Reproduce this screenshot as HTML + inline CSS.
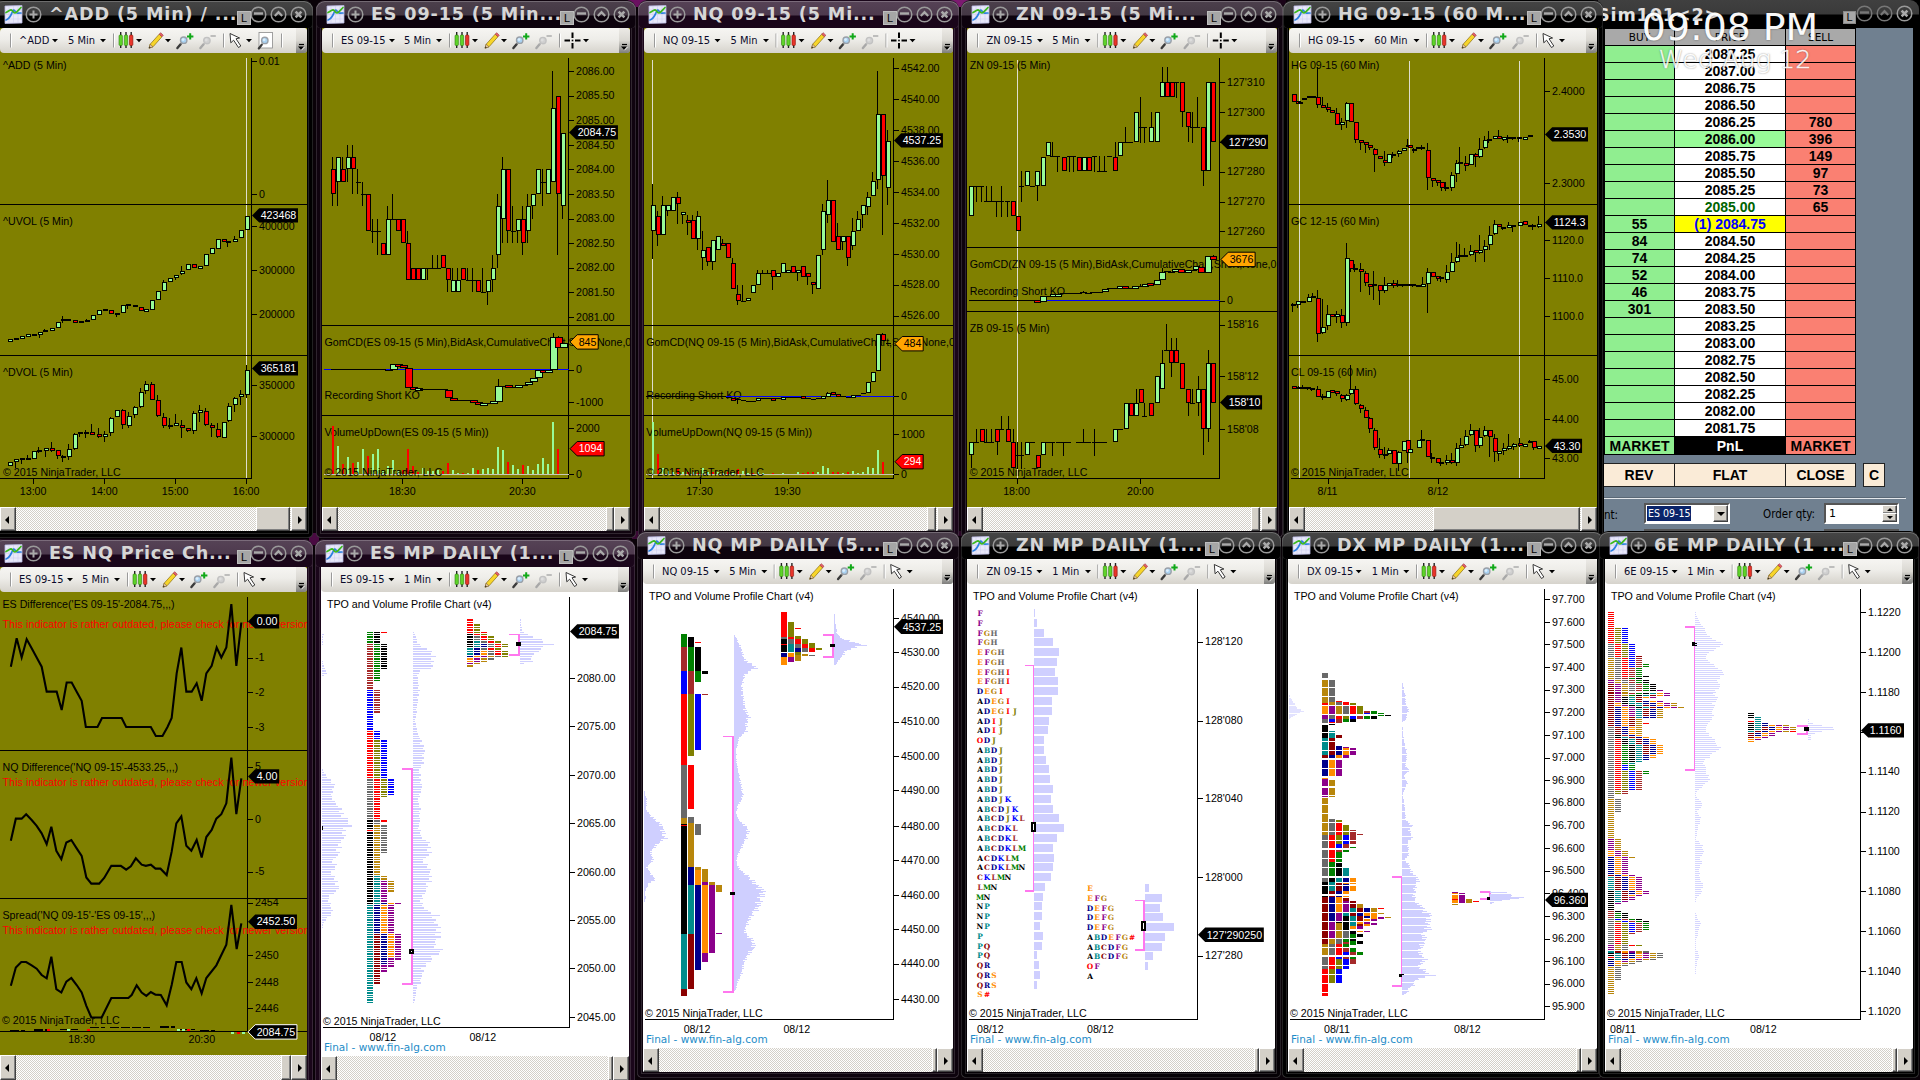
<!DOCTYPE html><html><head><meta charset="utf-8"><title>NinjaTrader workspace</title><style>
html,body{margin:0;padding:0}
body{width:1920px;height:1080px;overflow:hidden;position:relative;background:#000;font-family:"Liberation Sans",sans-serif}
.a{position:absolute}
.fr{position:absolute;border-radius:9px 9px 4px 4px}
.tt{position:absolute;font:bold 17.6px "DejaVu Sans",sans-serif;color:#d6d6d6;white-space:nowrap;letter-spacing:.85px;line-height:26px}
.tool{position:absolute;height:25px;border-radius:4px;background:linear-gradient(#f6f5f2,#eeede9 45%,#d6d3cc);font:11px "DejaVu Sans Condensed","DejaVu Sans",sans-serif;color:#0a0a2a}
.tool span{position:absolute;top:6px;white-space:nowrap;line-height:13px}
.sb{position:absolute;height:24px;background-color:#fff;background-image:linear-gradient(45deg,#d4d0c8 25%,transparent 25%,transparent 75%,#d4d0c8 75%),linear-gradient(45deg,#d4d0c8 25%,transparent 25%,transparent 75%,#d4d0c8 75%);background-size:2px 2px;background-position:0 0,1px 1px}
.sbb{position:absolute;top:0;width:16px;height:24px;background:#d4d0c8;box-sizing:border-box;border:1px solid;border-color:#fff #404040 #404040 #fff;box-shadow:inset -1px -1px #808080}
.sbb i{position:absolute;top:8px;width:0;height:0;border:4px solid transparent}
svg{position:absolute;overflow:hidden}
svg text{font-family:"Liberation Sans",sans-serif;font-size:10.67px;fill:#000}
</style></head><body><div class="a" style="left:0;top:0;width:1920px;height:1080px;background:#0a0208"></div><div class="a" style="left:628px;top:0px;width:18px;height:7px;background:#6a1060"></div><div class="a" style="left:950px;top:0px;width:20px;height:7px;background:#7c1a70"></div><div class="a" style="left:309px;top:533px;width:10px;height:12px;background:#4a0a42"></div><div class="a" style="left:632px;top:531px;width:8px;height:8px;background:#3a0834"></div><div class="a" style="left:955px;top:531px;width:8px;height:5px;background:#2a0626"></div><div class="a" style="left:1276px;top:0px;width:10px;height:5px;background:#1a0418"></div><div class="a" style="left:1598px;top:0;width:322px;height:538px;background:#000"></div><div class="fr" style="left:1598px;top:0;width:321px;height:28px;background:linear-gradient(#404040,#3a3a3a 14px,#000 15px);border-radius:0 9px 0 0"></div><div class="tt" style="left:1597px;top:2px;font-size:17.6px;color:#e2e2e2">Sim101&lt;2&gt;</div><div class="a" style="left:1843px;top:11px;width:13px;height:13px;background:#a8a8a8;border:1px solid #8a8a8a;box-sizing:border-box;font:11px/11px 'Liberation Sans',sans-serif;color:#000;text-align:center">L</div><svg class="a" style="left:1856px;top:5px" width="17" height="17" viewBox="0 0 17 17"><circle cx="8.5" cy="8.5" r="7.3" fill="none" stroke="#777" stroke-width="1.5"/><path d="M4 7.5H13" stroke="#777" stroke-width="2.4"/></svg><svg class="a" style="left:1876px;top:5px" width="17" height="17" viewBox="0 0 17 17"><circle cx="8.5" cy="8.5" r="7.3" fill="none" stroke="#777" stroke-width="1.5"/><path d="M4.8 10L8.5 6.2L12.2 10" stroke="#777" stroke-width="2.2" fill="none"/></svg><svg class="a" style="left:1896px;top:5px" width="17" height="17" viewBox="0 0 17 17"><circle cx="8.5" cy="8.5" r="7.3" fill="none" stroke="#9a9a9a" stroke-width="1.5"/><path d="M5.6 5.6L11.4 11.4M11.4 5.6L5.6 11.4" stroke="#a9a9a9" stroke-width="2.6"/></svg><div class="a" style="left:1604px;top:28px;width:309px;height:504px;background:#708090"></div><div class="a" style="left:1604px;top:28px;width:252px;height:427px;background:#000"></div><div style="position:absolute;box-sizing:border-box;text-align:center;font:bold 14px/17px 'Liberation Sans',sans-serif;color:#000;white-space:nowrap;overflow:hidden;left:1605px;top:29px;width:69px;height:16px;background:#a9a9a9;font:10.5px/17px 'DejaVu Sans',sans-serif">BUY</div><div style="position:absolute;box-sizing:border-box;text-align:center;font:bold 14px/17px 'Liberation Sans',sans-serif;color:#000;white-space:nowrap;overflow:hidden;left:1675px;top:29px;width:110px;height:16px;background:#a9a9a9;font:10.5px/17px 'DejaVu Sans',sans-serif">PRICE</div><div style="position:absolute;box-sizing:border-box;text-align:center;font:bold 14px/17px 'Liberation Sans',sans-serif;color:#000;white-space:nowrap;overflow:hidden;left:1786px;top:29px;width:69px;height:16px;background:#a9a9a9;font:10.5px/17px 'DejaVu Sans',sans-serif">SELL</div><div style="position:absolute;box-sizing:border-box;text-align:center;font:bold 14px/17px 'Liberation Sans',sans-serif;color:#000;white-space:nowrap;overflow:hidden;left:1605px;top:46px;width:69px;height:16px;background:#90ee90"></div><div style="position:absolute;box-sizing:border-box;text-align:center;font:bold 14px/17px 'Liberation Sans',sans-serif;color:#000;white-space:nowrap;overflow:hidden;left:1675px;top:46px;width:110px;height:16px;background:#fff;color:#000">2087.25</div><div style="position:absolute;box-sizing:border-box;text-align:center;font:bold 14px/17px 'Liberation Sans',sans-serif;color:#000;white-space:nowrap;overflow:hidden;left:1786px;top:46px;width:69px;height:16px;background:#fa8072"></div><div style="position:absolute;box-sizing:border-box;text-align:center;font:bold 14px/17px 'Liberation Sans',sans-serif;color:#000;white-space:nowrap;overflow:hidden;left:1605px;top:63px;width:69px;height:16px;background:#90ee90"></div><div style="position:absolute;box-sizing:border-box;text-align:center;font:bold 14px/17px 'Liberation Sans',sans-serif;color:#000;white-space:nowrap;overflow:hidden;left:1675px;top:63px;width:110px;height:16px;background:#fff;color:#000">2087.00</div><div style="position:absolute;box-sizing:border-box;text-align:center;font:bold 14px/17px 'Liberation Sans',sans-serif;color:#000;white-space:nowrap;overflow:hidden;left:1786px;top:63px;width:69px;height:16px;background:#fa8072"></div><div style="position:absolute;box-sizing:border-box;text-align:center;font:bold 14px/17px 'Liberation Sans',sans-serif;color:#000;white-space:nowrap;overflow:hidden;left:1605px;top:80px;width:69px;height:16px;background:#90ee90"></div><div style="position:absolute;box-sizing:border-box;text-align:center;font:bold 14px/17px 'Liberation Sans',sans-serif;color:#000;white-space:nowrap;overflow:hidden;left:1675px;top:80px;width:110px;height:16px;background:#fff;color:#000">2086.75</div><div style="position:absolute;box-sizing:border-box;text-align:center;font:bold 14px/17px 'Liberation Sans',sans-serif;color:#000;white-space:nowrap;overflow:hidden;left:1786px;top:80px;width:69px;height:16px;background:#fa8072"></div><div style="position:absolute;box-sizing:border-box;text-align:center;font:bold 14px/17px 'Liberation Sans',sans-serif;color:#000;white-space:nowrap;overflow:hidden;left:1605px;top:97px;width:69px;height:16px;background:#90ee90"></div><div style="position:absolute;box-sizing:border-box;text-align:center;font:bold 14px/17px 'Liberation Sans',sans-serif;color:#000;white-space:nowrap;overflow:hidden;left:1675px;top:97px;width:110px;height:16px;background:#fff;color:#000">2086.50</div><div style="position:absolute;box-sizing:border-box;text-align:center;font:bold 14px/17px 'Liberation Sans',sans-serif;color:#000;white-space:nowrap;overflow:hidden;left:1786px;top:97px;width:69px;height:16px;background:#fa8072"></div><div style="position:absolute;box-sizing:border-box;text-align:center;font:bold 14px/17px 'Liberation Sans',sans-serif;color:#000;white-space:nowrap;overflow:hidden;left:1605px;top:114px;width:69px;height:16px;background:#90ee90"></div><div style="position:absolute;box-sizing:border-box;text-align:center;font:bold 14px/17px 'Liberation Sans',sans-serif;color:#000;white-space:nowrap;overflow:hidden;left:1675px;top:114px;width:110px;height:16px;background:#fff;color:#000">2086.25</div><div style="position:absolute;box-sizing:border-box;text-align:center;font:bold 14px/17px 'Liberation Sans',sans-serif;color:#000;white-space:nowrap;overflow:hidden;left:1786px;top:114px;width:69px;height:16px;background:#fa8072">780</div><div style="position:absolute;box-sizing:border-box;text-align:center;font:bold 14px/17px 'Liberation Sans',sans-serif;color:#000;white-space:nowrap;overflow:hidden;left:1605px;top:131px;width:69px;height:16px;background:#90ee90"></div><div style="position:absolute;box-sizing:border-box;text-align:center;font:bold 14px/17px 'Liberation Sans',sans-serif;color:#000;white-space:nowrap;overflow:hidden;left:1675px;top:131px;width:110px;height:16px;background:#98fb98;color:#000">2086.00</div><div style="position:absolute;box-sizing:border-box;text-align:center;font:bold 14px/17px 'Liberation Sans',sans-serif;color:#000;white-space:nowrap;overflow:hidden;left:1786px;top:131px;width:69px;height:16px;background:#fa8072">396</div><div style="position:absolute;box-sizing:border-box;text-align:center;font:bold 14px/17px 'Liberation Sans',sans-serif;color:#000;white-space:nowrap;overflow:hidden;left:1605px;top:148px;width:69px;height:16px;background:#90ee90"></div><div style="position:absolute;box-sizing:border-box;text-align:center;font:bold 14px/17px 'Liberation Sans',sans-serif;color:#000;white-space:nowrap;overflow:hidden;left:1675px;top:148px;width:110px;height:16px;background:#fff;color:#000">2085.75</div><div style="position:absolute;box-sizing:border-box;text-align:center;font:bold 14px/17px 'Liberation Sans',sans-serif;color:#000;white-space:nowrap;overflow:hidden;left:1786px;top:148px;width:69px;height:16px;background:#fa8072">149</div><div style="position:absolute;box-sizing:border-box;text-align:center;font:bold 14px/17px 'Liberation Sans',sans-serif;color:#000;white-space:nowrap;overflow:hidden;left:1605px;top:165px;width:69px;height:16px;background:#90ee90"></div><div style="position:absolute;box-sizing:border-box;text-align:center;font:bold 14px/17px 'Liberation Sans',sans-serif;color:#000;white-space:nowrap;overflow:hidden;left:1675px;top:165px;width:110px;height:16px;background:#fff;color:#000">2085.50</div><div style="position:absolute;box-sizing:border-box;text-align:center;font:bold 14px/17px 'Liberation Sans',sans-serif;color:#000;white-space:nowrap;overflow:hidden;left:1786px;top:165px;width:69px;height:16px;background:#fa8072">97</div><div style="position:absolute;box-sizing:border-box;text-align:center;font:bold 14px/17px 'Liberation Sans',sans-serif;color:#000;white-space:nowrap;overflow:hidden;left:1605px;top:182px;width:69px;height:16px;background:#90ee90"></div><div style="position:absolute;box-sizing:border-box;text-align:center;font:bold 14px/17px 'Liberation Sans',sans-serif;color:#000;white-space:nowrap;overflow:hidden;left:1675px;top:182px;width:110px;height:16px;background:#fff;color:#000">2085.25</div><div style="position:absolute;box-sizing:border-box;text-align:center;font:bold 14px/17px 'Liberation Sans',sans-serif;color:#000;white-space:nowrap;overflow:hidden;left:1786px;top:182px;width:69px;height:16px;background:#fa8072">73</div><div style="position:absolute;box-sizing:border-box;text-align:center;font:bold 14px/17px 'Liberation Sans',sans-serif;color:#000;white-space:nowrap;overflow:hidden;left:1605px;top:199px;width:69px;height:16px;background:#90ee90"></div><div style="position:absolute;box-sizing:border-box;text-align:center;font:bold 14px/17px 'Liberation Sans',sans-serif;color:#000;white-space:nowrap;overflow:hidden;left:1675px;top:199px;width:110px;height:16px;background:#fff;color:#006400">2085.00</div><div style="position:absolute;box-sizing:border-box;text-align:center;font:bold 14px/17px 'Liberation Sans',sans-serif;color:#000;white-space:nowrap;overflow:hidden;left:1786px;top:199px;width:69px;height:16px;background:#fa8072">65</div><div style="position:absolute;box-sizing:border-box;text-align:center;font:bold 14px/17px 'Liberation Sans',sans-serif;color:#000;white-space:nowrap;overflow:hidden;left:1605px;top:216px;width:69px;height:16px;background:#90ee90">55</div><div style="position:absolute;box-sizing:border-box;text-align:center;font:bold 14px/17px 'Liberation Sans',sans-serif;color:#000;white-space:nowrap;overflow:hidden;left:1675px;top:216px;width:110px;height:16px;background:#ffff00;color:#0000ff">(1) 2084.75</div><div style="position:absolute;box-sizing:border-box;text-align:center;font:bold 14px/17px 'Liberation Sans',sans-serif;color:#000;white-space:nowrap;overflow:hidden;left:1786px;top:216px;width:69px;height:16px;background:#fa8072"></div><div style="position:absolute;box-sizing:border-box;text-align:center;font:bold 14px/17px 'Liberation Sans',sans-serif;color:#000;white-space:nowrap;overflow:hidden;left:1605px;top:233px;width:69px;height:16px;background:#90ee90">84</div><div style="position:absolute;box-sizing:border-box;text-align:center;font:bold 14px/17px 'Liberation Sans',sans-serif;color:#000;white-space:nowrap;overflow:hidden;left:1675px;top:233px;width:110px;height:16px;background:#fff;color:#000">2084.50</div><div style="position:absolute;box-sizing:border-box;text-align:center;font:bold 14px/17px 'Liberation Sans',sans-serif;color:#000;white-space:nowrap;overflow:hidden;left:1786px;top:233px;width:69px;height:16px;background:#fa8072"></div><div style="position:absolute;box-sizing:border-box;text-align:center;font:bold 14px/17px 'Liberation Sans',sans-serif;color:#000;white-space:nowrap;overflow:hidden;left:1605px;top:250px;width:69px;height:16px;background:#90ee90">74</div><div style="position:absolute;box-sizing:border-box;text-align:center;font:bold 14px/17px 'Liberation Sans',sans-serif;color:#000;white-space:nowrap;overflow:hidden;left:1675px;top:250px;width:110px;height:16px;background:#fff;color:#000">2084.25</div><div style="position:absolute;box-sizing:border-box;text-align:center;font:bold 14px/17px 'Liberation Sans',sans-serif;color:#000;white-space:nowrap;overflow:hidden;left:1786px;top:250px;width:69px;height:16px;background:#fa8072"></div><div style="position:absolute;box-sizing:border-box;text-align:center;font:bold 14px/17px 'Liberation Sans',sans-serif;color:#000;white-space:nowrap;overflow:hidden;left:1605px;top:267px;width:69px;height:16px;background:#90ee90">52</div><div style="position:absolute;box-sizing:border-box;text-align:center;font:bold 14px/17px 'Liberation Sans',sans-serif;color:#000;white-space:nowrap;overflow:hidden;left:1675px;top:267px;width:110px;height:16px;background:#fff;color:#000">2084.00</div><div style="position:absolute;box-sizing:border-box;text-align:center;font:bold 14px/17px 'Liberation Sans',sans-serif;color:#000;white-space:nowrap;overflow:hidden;left:1786px;top:267px;width:69px;height:16px;background:#fa8072"></div><div style="position:absolute;box-sizing:border-box;text-align:center;font:bold 14px/17px 'Liberation Sans',sans-serif;color:#000;white-space:nowrap;overflow:hidden;left:1605px;top:284px;width:69px;height:16px;background:#90ee90">46</div><div style="position:absolute;box-sizing:border-box;text-align:center;font:bold 14px/17px 'Liberation Sans',sans-serif;color:#000;white-space:nowrap;overflow:hidden;left:1675px;top:284px;width:110px;height:16px;background:#fff;color:#000">2083.75</div><div style="position:absolute;box-sizing:border-box;text-align:center;font:bold 14px/17px 'Liberation Sans',sans-serif;color:#000;white-space:nowrap;overflow:hidden;left:1786px;top:284px;width:69px;height:16px;background:#fa8072"></div><div style="position:absolute;box-sizing:border-box;text-align:center;font:bold 14px/17px 'Liberation Sans',sans-serif;color:#000;white-space:nowrap;overflow:hidden;left:1605px;top:301px;width:69px;height:16px;background:#90ee90">301</div><div style="position:absolute;box-sizing:border-box;text-align:center;font:bold 14px/17px 'Liberation Sans',sans-serif;color:#000;white-space:nowrap;overflow:hidden;left:1675px;top:301px;width:110px;height:16px;background:#fff;color:#000">2083.50</div><div style="position:absolute;box-sizing:border-box;text-align:center;font:bold 14px/17px 'Liberation Sans',sans-serif;color:#000;white-space:nowrap;overflow:hidden;left:1786px;top:301px;width:69px;height:16px;background:#fa8072"></div><div style="position:absolute;box-sizing:border-box;text-align:center;font:bold 14px/17px 'Liberation Sans',sans-serif;color:#000;white-space:nowrap;overflow:hidden;left:1605px;top:318px;width:69px;height:16px;background:#90ee90"></div><div style="position:absolute;box-sizing:border-box;text-align:center;font:bold 14px/17px 'Liberation Sans',sans-serif;color:#000;white-space:nowrap;overflow:hidden;left:1675px;top:318px;width:110px;height:16px;background:#fff;color:#000">2083.25</div><div style="position:absolute;box-sizing:border-box;text-align:center;font:bold 14px/17px 'Liberation Sans',sans-serif;color:#000;white-space:nowrap;overflow:hidden;left:1786px;top:318px;width:69px;height:16px;background:#fa8072"></div><div style="position:absolute;box-sizing:border-box;text-align:center;font:bold 14px/17px 'Liberation Sans',sans-serif;color:#000;white-space:nowrap;overflow:hidden;left:1605px;top:335px;width:69px;height:16px;background:#90ee90"></div><div style="position:absolute;box-sizing:border-box;text-align:center;font:bold 14px/17px 'Liberation Sans',sans-serif;color:#000;white-space:nowrap;overflow:hidden;left:1675px;top:335px;width:110px;height:16px;background:#fff;color:#000">2083.00</div><div style="position:absolute;box-sizing:border-box;text-align:center;font:bold 14px/17px 'Liberation Sans',sans-serif;color:#000;white-space:nowrap;overflow:hidden;left:1786px;top:335px;width:69px;height:16px;background:#fa8072"></div><div style="position:absolute;box-sizing:border-box;text-align:center;font:bold 14px/17px 'Liberation Sans',sans-serif;color:#000;white-space:nowrap;overflow:hidden;left:1605px;top:352px;width:69px;height:16px;background:#90ee90"></div><div style="position:absolute;box-sizing:border-box;text-align:center;font:bold 14px/17px 'Liberation Sans',sans-serif;color:#000;white-space:nowrap;overflow:hidden;left:1675px;top:352px;width:110px;height:16px;background:#fff;color:#000">2082.75</div><div style="position:absolute;box-sizing:border-box;text-align:center;font:bold 14px/17px 'Liberation Sans',sans-serif;color:#000;white-space:nowrap;overflow:hidden;left:1786px;top:352px;width:69px;height:16px;background:#fa8072"></div><div style="position:absolute;box-sizing:border-box;text-align:center;font:bold 14px/17px 'Liberation Sans',sans-serif;color:#000;white-space:nowrap;overflow:hidden;left:1605px;top:369px;width:69px;height:16px;background:#90ee90"></div><div style="position:absolute;box-sizing:border-box;text-align:center;font:bold 14px/17px 'Liberation Sans',sans-serif;color:#000;white-space:nowrap;overflow:hidden;left:1675px;top:369px;width:110px;height:16px;background:#fff;color:#000">2082.50</div><div style="position:absolute;box-sizing:border-box;text-align:center;font:bold 14px/17px 'Liberation Sans',sans-serif;color:#000;white-space:nowrap;overflow:hidden;left:1786px;top:369px;width:69px;height:16px;background:#fa8072"></div><div style="position:absolute;box-sizing:border-box;text-align:center;font:bold 14px/17px 'Liberation Sans',sans-serif;color:#000;white-space:nowrap;overflow:hidden;left:1605px;top:386px;width:69px;height:16px;background:#90ee90"></div><div style="position:absolute;box-sizing:border-box;text-align:center;font:bold 14px/17px 'Liberation Sans',sans-serif;color:#000;white-space:nowrap;overflow:hidden;left:1675px;top:386px;width:110px;height:16px;background:#fff;color:#000">2082.25</div><div style="position:absolute;box-sizing:border-box;text-align:center;font:bold 14px/17px 'Liberation Sans',sans-serif;color:#000;white-space:nowrap;overflow:hidden;left:1786px;top:386px;width:69px;height:16px;background:#fa8072"></div><div style="position:absolute;box-sizing:border-box;text-align:center;font:bold 14px/17px 'Liberation Sans',sans-serif;color:#000;white-space:nowrap;overflow:hidden;left:1605px;top:403px;width:69px;height:16px;background:#90ee90"></div><div style="position:absolute;box-sizing:border-box;text-align:center;font:bold 14px/17px 'Liberation Sans',sans-serif;color:#000;white-space:nowrap;overflow:hidden;left:1675px;top:403px;width:110px;height:16px;background:#fff;color:#000">2082.00</div><div style="position:absolute;box-sizing:border-box;text-align:center;font:bold 14px/17px 'Liberation Sans',sans-serif;color:#000;white-space:nowrap;overflow:hidden;left:1786px;top:403px;width:69px;height:16px;background:#fa8072"></div><div style="position:absolute;box-sizing:border-box;text-align:center;font:bold 14px/17px 'Liberation Sans',sans-serif;color:#000;white-space:nowrap;overflow:hidden;left:1605px;top:420px;width:69px;height:16px;background:#90ee90"></div><div style="position:absolute;box-sizing:border-box;text-align:center;font:bold 14px/17px 'Liberation Sans',sans-serif;color:#000;white-space:nowrap;overflow:hidden;left:1675px;top:420px;width:110px;height:16px;background:#fff;color:#000">2081.75</div><div style="position:absolute;box-sizing:border-box;text-align:center;font:bold 14px/17px 'Liberation Sans',sans-serif;color:#000;white-space:nowrap;overflow:hidden;left:1786px;top:420px;width:69px;height:16px;background:#fa8072"></div><div style="position:absolute;box-sizing:border-box;text-align:center;font:bold 14px/17px 'Liberation Sans',sans-serif;color:#000;white-space:nowrap;overflow:hidden;left:1605px;top:437px;width:69px;height:17px;background:#90ee90;font-size:14px;line-height:18px">MARKET</div><div style="position:absolute;box-sizing:border-box;text-align:center;font:bold 14px/17px 'Liberation Sans',sans-serif;color:#000;white-space:nowrap;overflow:hidden;left:1675px;top:437px;width:110px;height:17px;background:#000;color:#fff;line-height:18px">PnL</div><div style="position:absolute;box-sizing:border-box;text-align:center;font:bold 14px/17px 'Liberation Sans',sans-serif;color:#000;white-space:nowrap;overflow:hidden;left:1786px;top:437px;width:69px;height:17px;background:#fa8072;font-size:14px;line-height:18px">MARKET</div><div style="position:absolute;box-sizing:border-box;text-align:center;font:bold 14px/17px 'Liberation Sans',sans-serif;color:#000;white-space:nowrap;overflow:hidden;background:#faebd7;border:1px solid #222;height:24px;top:463px;line-height:22px;left:1604px;width:71px;border-left:0">REV</div><div style="position:absolute;box-sizing:border-box;text-align:center;font:bold 14px/17px 'Liberation Sans',sans-serif;color:#000;white-space:nowrap;overflow:hidden;background:#faebd7;border:1px solid #222;height:24px;top:463px;line-height:22px;left:1674px;width:112px">FLAT</div><div style="position:absolute;box-sizing:border-box;text-align:center;font:bold 14px/17px 'Liberation Sans',sans-serif;color:#000;white-space:nowrap;overflow:hidden;background:#faebd7;border:1px solid #222;height:24px;top:463px;line-height:22px;left:1785px;width:71px">CLOSE</div><div style="position:absolute;box-sizing:border-box;text-align:center;font:bold 14px/17px 'Liberation Sans',sans-serif;color:#000;white-space:nowrap;overflow:hidden;background:#faebd7;border:1px solid #222;height:24px;top:463px;line-height:22px;left:1863px;width:22px">C</div><div class="a" style="left:1604px;top:497px;width:301px;height:1px;background:#5a6876"></div><div class="a" style="left:1604px;top:498px;width:302px;height:1px;background:#e4e8ec"></div><div class="a" style="left:1604px;top:508px;font:11.5px 'DejaVu Sans Condensed','DejaVu Sans',sans-serif;color:#000">nt:</div><div class="a" style="left:1644px;top:503px;width:86px;height:21px;box-sizing:border-box;background:#fff;border:2px solid;border-color:#555 #fff #fff #555"><span style="position:absolute;left:1px;top:1px;background:#0a246a;color:#fff;font:10.5px/15px 'DejaVu Sans Condensed','DejaVu Sans',sans-serif;padding:0 1px">ES 09-15</span><div class="sbb" style="right:0;left:auto;top:0;width:15px;height:17px"><i style="left:3px;top:6px;border-top-color:#000;border-bottom-width:0"></i></div></div><div class="a" style="left:1763px;top:507px;font:11.5px 'DejaVu Sans Condensed','DejaVu Sans',sans-serif;color:#000;white-space:nowrap">Order qty:</div><div class="a" style="left:1824px;top:503px;width:75px;height:21px;box-sizing:border-box;background:#fff;border:2px solid;border-color:#555 #fff #fff #555"><span style="position:absolute;left:3px;top:1px;color:#000;font:11px/15px 'DejaVu Sans',sans-serif">1</span><div class="sbb" style="right:0;left:auto;top:0;width:15px;height:9px"><i style="left:4px;top:2px;border-width:3px;border-bottom-color:#000;border-top-width:0"></i></div><div class="sbb" style="right:0;left:auto;top:8px;width:15px;height:9px"><i style="left:4px;top:2px;border-width:3px;border-top-color:#000;border-bottom-width:0"></i></div></div><div class="a" style="left:1644px;top:529px;width:86px;height:3px;background:#555"></div><div class="a" style="left:1824px;top:529px;width:75px;height:3px;background:#555"></div><div class="a" style="left:1641px;top:5px;width:178px;text-align:center;font:37.8px/44px 'DejaVu Sans',sans-serif;color:#fff;white-space:nowrap;opacity:.97;text-shadow:0 0 2px rgba(0,0,0,.45)">09:08 PM</div><div class="a" style="left:1640px;top:44px;width:190px;text-align:center;font:200 25.5px/30px 'DejaVu Sans',sans-serif;color:#fff;white-space:nowrap;opacity:.9;-webkit-text-stroke:.45px #fff;text-shadow:0 0 2px rgba(0,0,0,.5),0 0 1px rgba(0,0,0,.4)">Wed Aug 12</div><div class="a" style="left:-6px;top:0px;width:319px;height:538px;background:#000;border-radius:9px 9px 5px 5px;box-shadow:inset 1px 0 0 rgba(255,255,255,.13),inset -1px 0 0 rgba(255,255,255,.13),inset 0 -1px 0 rgba(255,255,255,.13)"></div><div class="a" style="left:-2px;top:26px;width:311px;height:508px;border:1px solid rgba(255,255,255,.14);box-sizing:border-box"></div><div class="fr" style="left:-6px;top:1px;width:319px;height:27px;background:linear-gradient(#454545,#3b3b3b 14px,#000000 15px,#000000 26px);box-shadow:inset 0 1px 0 rgba(255,255,255,.22),inset 1px 0 0 rgba(255,255,255,.12),inset -1px 0 0 rgba(255,255,255,.12)"></div><svg class="a" style="left:4px;top:5px" width="19" height="19" viewBox="0 0 19 19"><path d="M1 1L18 0.5V18L1 18.5Z" fill="#e8e8fa" stroke="#b8b8e0" stroke-width=".8"/><path d="M5 1V18M9.5 1V18M14 1V18M1 5H18M1 9.5H18M1 14H18" stroke="#cfcfee" stroke-width=".6"/><path d="M2 15C5 14 6 12 7.5 9C8.5 6 9.5 4.5 10.5 5.5C11.5 7.5 12.5 8.5 14 8.2L17 8" fill="none" stroke="#2c7fe0" stroke-width="1.7" stroke-linecap="round"/><path d="M2 7.5C4 6.5 5.5 5 7 4.8C8.5 5 9.5 8 11 8C13 7.5 15 4.5 17 2.5" fill="none" stroke="#3cb81e" stroke-width="1.7" stroke-linecap="round"/></svg><svg class="a" style="left:25px;top:6px" width="17" height="17" viewBox="0 0 17 17"><circle cx="8.5" cy="8.5" r="7.3" fill="none" stroke="#9a9a9a" stroke-width="1.5"/><path d="M8.5 4.5V12.5M4.5 8.5H12.5" stroke="#a9a9a9" stroke-width="2"/></svg><div class="tt" style="left:49px;top:1px;">^ADD (5 Min) / ...</div><div class="a" style="left:237px;top:11px;width:14px;height:14px;background:#a6a6a6;border:1px solid #bdbdbd;box-sizing:border-box;font:11px/12px 'Liberation Sans',sans-serif;color:#000;text-align:center">L</div><svg class="a" style="left:250px;top:6px" width="17" height="17" viewBox="0 0 17 17"><circle cx="8.5" cy="8.5" r="7.3" fill="none" stroke="#9a9a9a" stroke-width="1.5"/><path d="M4 7.5H13" stroke="#a9a9a9" stroke-width="2.4"/></svg><svg class="a" style="left:270px;top:6px" width="17" height="17" viewBox="0 0 17 17"><circle cx="8.5" cy="8.5" r="7.3" fill="none" stroke="#9a9a9a" stroke-width="1.5"/><path d="M4.8 10L8.5 6.2L12.2 10" stroke="#a9a9a9" stroke-width="2.2" fill="none"/></svg><svg class="a" style="left:290px;top:6px" width="17" height="17" viewBox="0 0 17 17"><circle cx="8.5" cy="8.5" r="7.3" fill="none" stroke="#9a9a9a" stroke-width="1.5"/><path d="M5.6 5.6L11.4 11.4M11.4 5.6L5.6 11.4" stroke="#a9a9a9" stroke-width="2.6"/></svg><div class="a" style="left:0px;top:28px;width:307px;height:25px;background:#808000"></div><div class="tool" style="left:0px;top:28px;width:307px"><span style="left:19px">^ADD</span><span style="left:68px">5 Min</span><svg style="left:0;top:0" width="307" height="25" viewBox="0 0 307 25"><path d="M10.5 5.5V19.5" stroke="#9a9a9a"/><path d="M11.5 5.5V19.5" stroke="#fff"/><path d="M52 11h6l-3 3.2z" fill="#000"/><path d="M100 11h6l-3 3.2z" fill="#000"/><path d="M113.5 5.5V19.5" stroke="#9a9a9a" stroke-width="1"/><path d="M114.5 5.5V19.5" stroke="#fff" stroke-width="1"/><path d="M120.7 4V20" stroke="#222" stroke-width="1.4"/><rect x="119" y="7" width="3.4" height="10.5" rx="1" fill="#5fd42a" stroke="#2b7d0a" stroke-width=".6"/><path d="M126 4V20" stroke="#222" stroke-width="1.4"/><rect x="124.3" y="7" width="3.4" height="10.5" rx="1" fill="#5fd42a" stroke="#2b7d0a" stroke-width=".6"/><path d="M131.2 4V20" stroke="#222" stroke-width="1.4"/><rect x="129.5" y="7" width="3.4" height="10.5" rx="1" fill="#e8352a" stroke="#8a1208" stroke-width=".6"/><path d="M136 11h6l-3 3.2z" fill="#000"/><g transform="translate(148,0)"><path d="M1 20.2L2.2 16.2L11.2 6.2L14 8.7L5 18.8Z" fill="#f7d52a" stroke="#8a6d10" stroke-width=".7"/><path d="M11.2 6.2L12.6 4.7L15.3 7.2L14 8.7Z" fill="#e8606a" stroke="#9a3038" stroke-width=".6"/><path d="M1 20.2L2.2 16.2L5 18.8Z" fill="#e8c9a0" stroke="#6a5030" stroke-width=".5"/><path d="M1 20.2L1.6 18.4L2.8 19.5Z" fill="#222"/></g><path d="M165 11h6l-3 3.2z" fill="#000"/><g transform="translate(176,0)"><path d="M1.4 20L4.6 16.2" stroke="#3a3a3a" stroke-width="2.4" stroke-linecap="round"/><path d="M4.6 16.2L5.8 14.8" stroke="#777" stroke-width="1.5"/><circle cx="7.7" cy="12.2" r="3.2" fill="#a9d2f2" stroke="#9aa0a8" stroke-width="1.4"/><circle cx="7.1" cy="11.6" r="1.4" fill="#dceefc"/><path d="M14.2 5.2V11.6M11 8.4H17.4" stroke="#10a818" stroke-width="2"/></g><g transform="translate(199,0)"><path d="M1.4 20L4.6 16.2" stroke="#a8a8a8" stroke-width="2.4" stroke-linecap="round"/><path d="M4.6 16.2L5.8 14.8" stroke="#bbb" stroke-width="1.5"/><circle cx="7.9" cy="12.6" r="3.2" fill="#d0d0d0" stroke="#c2c2c2" stroke-width="1.4"/><circle cx="7.3" cy="12" r="1.4" fill="#dedede"/><path d="M11.5 8H16.8" stroke="#b4b4b4" stroke-width="1.7"/></g><path d="M223.5 5.5V19.5" stroke="#9a9a9a" stroke-width="1"/><path d="M224.5 5.5V19.5" stroke="#fff" stroke-width="1"/><g transform="translate(229,0)"><path d="M1 5.5L1.8 14.8L4.6 12.2L9.5 19.5L11.8 18L7 10.8L10.6 10Z" fill="#fff" stroke="#222" stroke-width=".9" stroke-linejoin="round"/></g><path d="M246 11h6l-3 3.2z" fill="#000"/><g transform="translate(258,0)"><rect x="1" y="4.5" width="13.5" height="15.5" fill="#fff" stroke="#8a8a8a" stroke-width=".8"/><path d="M0.8 20.5L3.8 16.6" stroke="#3a3a3a" stroke-width="2.2" stroke-linecap="round"/><circle cx="6.8" cy="12.4" r="3.2" fill="#a9d2f2" stroke="#9aa0a8" stroke-width="1.4"/><circle cx="6.2" cy="11.8" r="1.4" fill="#dceefc"/></g><path d="M281.5 5.5V19.5" stroke="#9a9a9a" stroke-width="1"/><path d="M282.5 5.5V19.5" stroke="#fff" stroke-width="1"/><defs><linearGradient id="og" x1="0" y1="0" x2="0" y2="1"><stop offset="0" stop-color="#eceae6"/><stop offset=".5" stop-color="#d9d7d1"/><stop offset="1" stop-color="#7e7e7c"/></linearGradient></defs><path d="M296 0h8a3 3 0 0 1 3 3v19a3 3 0 0 1 -3 3h-8z" fill="url(#og)"/><path d="M299 16.5h5" stroke="#000" stroke-width="1.2"/><path d="M298 18.5h6l-3 3.2z" fill="#000"/><path d="M301.5 22.2l3-3.2" stroke="#fff" stroke-width=".8"/></svg></div><svg style="left:0px;top:53px;background:#808000" width="307" height="454" viewBox="0 53 307 454" shape-rendering="crispEdges"><rect x="246" y="58" width="1" height="420" fill="#dedecf"/><rect x="251" y="58" width="1" height="420"/><rect x="0" y="204" width="307" height="1"/><rect x="0" y="355" width="307" height="1"/><rect x="0" y="478" width="252" height="1"/><text x="3" y="69">^ADD (5 Min)</text><text x="3" y="225">^UVOL (5 Min)</text><text x="3" y="376">^DVOL (5 Min)</text><path d="M252 61.5h5" stroke="#000"/><text x="259" y="64.7">0.01</text><path d="M252 194.5h5" stroke="#000"/><text x="259" y="197.7">0</text><path d="M252 226.8h5" stroke="#000"/><text x="259" y="230">400000</text><path d="M252 270.5h5" stroke="#000"/><text x="259" y="273.7">300000</text><path d="M252 314.7h5" stroke="#000"/><text x="259" y="317.9">200000</text><path d="M252 385.8h5" stroke="#000"/><text x="259" y="389">350000</text><path d="M252 436.7h5" stroke="#000"/><text x="259" y="439.9">300000</text><rect x="9" y="339" width="1" height="3"/><rect x="8.5" y="339.5" width="4" height="2" fill="#98fb98" stroke="#000"/><rect x="14" y="338" width="5" height="2"/><rect x="21" y="336" width="1" height="3"/><rect x="20.5" y="336.5" width="4" height="2" fill="#98fb98" stroke="#000"/><rect x="27" y="334" width="1" height="3"/><rect x="26.5" y="334.5" width="4" height="2" fill="#98fb98" stroke="#000"/><rect x="32" y="334" width="5" height="2"/><rect x="39" y="332" width="1" height="6"/><rect x="38.5" y="332.5" width="4" height="2" fill="#98fb98" stroke="#000"/><rect x="44" y="329" width="1" height="3"/><rect x="43" y="330" width="5" height="2"/><rect x="51" y="328" width="1" height="3"/><rect x="50.5" y="328.5" width="4" height="2" fill="#98fb98" stroke="#000"/><rect x="57" y="322" width="1" height="6"/><rect x="56.5" y="322.5" width="4" height="5" fill="#98fb98" stroke="#000"/><rect x="62" y="316" width="1" height="7"/><rect x="61" y="319" width="5" height="2"/><rect x="67" y="319" width="1" height="2"/><rect x="66" y="319" width="5" height="2"/><rect x="74" y="320" width="1" height="3"/><rect x="73.5" y="320.5" width="4" height="2" fill="#ff0000" stroke="#000"/><rect x="79" y="321" width="5" height="2"/><rect x="86" y="319" width="1" height="2"/><rect x="85" y="320" width="5" height="2"/><rect x="92" y="315" width="1" height="5"/><rect x="91.5" y="315.5" width="4" height="4" fill="#98fb98" stroke="#000"/><rect x="98" y="310" width="1" height="5"/><rect x="97.5" y="310.5" width="4" height="4" fill="#98fb98" stroke="#000"/><rect x="104" y="309" width="1" height="2"/><rect x="103" y="309" width="5" height="2"/><rect x="110" y="310" width="1" height="4"/><rect x="109.5" y="310.5" width="4" height="3" fill="#ff0000" stroke="#000"/><rect x="116" y="314" width="1" height="3"/><rect x="115" y="313" width="5" height="2"/><rect x="122" y="305" width="1" height="8"/><rect x="121.5" y="305.5" width="4" height="7" fill="#98fb98" stroke="#000"/><rect x="127" y="304" width="1" height="5"/><rect x="126" y="304" width="5" height="2"/><rect x="133" y="305" width="5" height="2"/><rect x="140" y="307" width="1" height="4"/><rect x="139.5" y="307.5" width="4" height="3" fill="#ff0000" stroke="#000"/><rect x="145" y="309" width="1" height="3"/><rect x="144.5" y="309.5" width="4" height="2" fill="#98fb98" stroke="#000"/><rect x="151" y="300" width="1" height="10"/><rect x="150.5" y="300.5" width="4" height="9" fill="#98fb98" stroke="#000"/><rect x="157" y="291" width="1" height="9"/><rect x="156.5" y="291.5" width="4" height="8" fill="#98fb98" stroke="#000"/><rect x="163" y="280" width="1" height="11"/><rect x="162.5" y="282.5" width="4" height="8" fill="#98fb98" stroke="#000"/><rect x="169" y="278" width="1" height="4"/><rect x="168.5" y="278.5" width="4" height="3" fill="#98fb98" stroke="#000"/><rect x="175" y="275" width="1" height="5"/><rect x="174.5" y="275.5" width="4" height="2" fill="#98fb98" stroke="#000"/><rect x="181" y="266" width="1" height="9"/><rect x="180.5" y="271.5" width="4" height="2" fill="#98fb98" stroke="#000"/><rect x="187" y="264" width="1" height="6"/><rect x="186.5" y="264.5" width="4" height="5" fill="#98fb98" stroke="#000"/><rect x="193" y="264" width="1" height="4"/><rect x="192.5" y="264.5" width="4" height="3" fill="#ff0000" stroke="#000"/><rect x="199" y="266" width="1" height="3"/><rect x="198.5" y="266.5" width="4" height="2" fill="#98fb98" stroke="#000"/><rect x="205" y="254" width="1" height="12"/><rect x="204.5" y="254.5" width="4" height="11" fill="#98fb98" stroke="#000"/><rect x="211" y="248" width="1" height="6"/><rect x="210.5" y="248.5" width="4" height="5" fill="#98fb98" stroke="#000"/><rect x="217" y="239" width="1" height="10"/><rect x="216.5" y="239.5" width="4" height="9" fill="#98fb98" stroke="#000"/><rect x="223" y="239" width="1" height="3"/><rect x="222.5" y="239.5" width="4" height="2" fill="#ff0000" stroke="#000"/><rect x="227" y="241" width="1" height="6"/><rect x="226" y="241" width="5" height="2"/><rect x="234" y="236" width="1" height="6"/><rect x="233.5" y="239.5" width="4" height="2" fill="#98fb98" stroke="#000"/><rect x="240" y="230" width="1" height="8"/><rect x="239.5" y="230.5" width="4" height="7" fill="#98fb98" stroke="#000"/><rect x="246" y="216" width="1" height="14"/><rect x="245.5" y="216.5" width="4" height="13" fill="#98fb98" stroke="#000"/><rect x="9" y="462" width="1" height="4"/><rect x="8.5" y="462.5" width="4" height="3" fill="#98fb98" stroke="#000"/><rect x="15" y="459" width="1" height="9"/><rect x="14.5" y="459.5" width="4" height="2" fill="#98fb98" stroke="#000"/><rect x="21" y="458" width="1" height="6"/><rect x="20" y="458" width="5" height="2"/><rect x="27" y="455" width="1" height="5"/><rect x="26" y="458" width="5" height="2"/><rect x="33" y="451" width="1" height="8"/><rect x="32.5" y="451.5" width="4" height="7" fill="#98fb98" stroke="#000"/><rect x="38" y="447" width="1" height="6"/><rect x="37" y="450" width="5" height="2"/><rect x="45" y="448" width="1" height="9"/><rect x="44.5" y="448.5" width="4" height="2" fill="#98fb98" stroke="#000"/><rect x="51" y="442" width="1" height="10"/><rect x="50.5" y="448.5" width="4" height="2" fill="#ff0000" stroke="#000"/><rect x="57" y="450" width="1" height="9"/><rect x="56.5" y="450.5" width="4" height="5" fill="#ff0000" stroke="#000"/><rect x="62" y="455" width="1" height="7"/><rect x="61" y="456" width="5" height="2"/><rect x="68" y="444" width="1" height="16"/><rect x="67.5" y="449.5" width="4" height="7" fill="#98fb98" stroke="#000"/><rect x="74" y="433" width="1" height="17"/><rect x="73.5" y="434.5" width="4" height="14" fill="#98fb98" stroke="#000"/><rect x="79" y="432" width="1" height="5"/><rect x="78" y="432" width="5" height="2"/><rect x="85" y="430" width="1" height="8"/><rect x="84" y="432" width="5" height="2"/><rect x="91" y="424" width="1" height="11"/><rect x="90.5" y="432.5" width="4" height="2" fill="#ff0000" stroke="#000"/><rect x="98" y="428" width="1" height="10"/><rect x="97.5" y="434.5" width="4" height="2" fill="#ff0000" stroke="#000"/><rect x="104" y="431" width="1" height="11"/><rect x="103.5" y="434.5" width="4" height="2" fill="#98fb98" stroke="#000"/><rect x="110" y="417" width="1" height="19"/><rect x="109.5" y="418.5" width="4" height="14" fill="#98fb98" stroke="#000"/><rect x="116" y="410" width="1" height="7"/><rect x="115.5" y="410.5" width="4" height="6" fill="#98fb98" stroke="#000"/><rect x="122" y="409" width="1" height="20"/><rect x="121.5" y="410.5" width="4" height="14" fill="#ff0000" stroke="#000"/><rect x="128" y="412" width="1" height="16"/><rect x="127.5" y="416.5" width="4" height="9" fill="#98fb98" stroke="#000"/><rect x="134" y="406" width="1" height="12"/><rect x="133.5" y="407.5" width="4" height="7" fill="#98fb98" stroke="#000"/><rect x="140" y="388" width="1" height="20"/><rect x="139.5" y="392.5" width="4" height="14" fill="#98fb98" stroke="#000"/><rect x="145" y="381" width="1" height="13"/><rect x="144.5" y="384.5" width="4" height="6" fill="#98fb98" stroke="#000"/><rect x="151" y="382" width="1" height="18"/><rect x="150.5" y="384.5" width="4" height="15" fill="#ff0000" stroke="#000"/><rect x="157" y="395" width="1" height="22"/><rect x="156.5" y="400.5" width="4" height="15" fill="#ff0000" stroke="#000"/><rect x="163" y="413" width="1" height="15"/><rect x="162.5" y="417.5" width="4" height="8" fill="#ff0000" stroke="#000"/><rect x="169" y="418" width="1" height="11"/><rect x="168" y="425" width="5" height="2"/><rect x="175" y="414" width="1" height="12"/><rect x="174.5" y="423.5" width="4" height="2" fill="#98fb98" stroke="#000"/><rect x="181" y="420" width="1" height="18"/><rect x="180.5" y="425.5" width="4" height="2" fill="#ff0000" stroke="#000"/><rect x="187" y="428" width="1" height="4"/><rect x="186.5" y="428.5" width="4" height="2" fill="#ff0000" stroke="#000"/><rect x="193" y="411" width="1" height="23"/><rect x="192.5" y="413.5" width="4" height="17" fill="#98fb98" stroke="#000"/><rect x="199" y="405" width="1" height="17"/><rect x="198.5" y="410.5" width="4" height="2" fill="#98fb98" stroke="#000"/><rect x="205" y="408" width="1" height="18"/><rect x="204.5" y="411.5" width="4" height="13" fill="#ff0000" stroke="#000"/><rect x="211" y="423" width="1" height="14"/><rect x="210.5" y="425.5" width="4" height="2" fill="#ff0000" stroke="#000"/><rect x="217" y="423" width="1" height="15"/><rect x="216.5" y="429.5" width="4" height="7" fill="#ff0000" stroke="#000"/><rect x="223" y="422" width="1" height="16"/><rect x="222.5" y="422.5" width="4" height="15" fill="#98fb98" stroke="#000"/><rect x="228" y="403" width="1" height="19"/><rect x="227.5" y="406.5" width="4" height="14" fill="#98fb98" stroke="#000"/><rect x="234" y="397" width="1" height="15"/><rect x="233.5" y="398.5" width="4" height="6" fill="#98fb98" stroke="#000"/><rect x="240" y="390" width="1" height="15"/><rect x="239.5" y="394.5" width="4" height="2" fill="#98fb98" stroke="#000"/><rect x="246" y="365" width="1" height="33"/><rect x="245.5" y="370.5" width="4" height="24" fill="#98fb98" stroke="#000"/><path d="M252 215.4l7.2 -7.2h38.78v14.4h-38.78z" fill="#000" shape-rendering="auto"/><text x="260.7" y="219.1" style="fill:#fff">423468</text><path d="M252 368.4l7.2 -7.2h38.78v14.4h-38.78z" fill="#000" shape-rendering="auto"/><text x="260.7" y="372.1" style="fill:#fff">365181</text><text x="3" y="476">© 2015 NinjaTrader, LLC</text><rect x="33" y="479" width="1" height="5"/><text x="19.8" y="495.3">13:00</text><rect x="104" y="479" width="1" height="5"/><text x="91" y="495.3">14:00</text><rect x="175" y="479" width="1" height="5"/><text x="161.8" y="495.3">15:00</text><rect x="246" y="479" width="1" height="5"/><text x="232.8" y="495.3">16:00</text></svg><div class="sb" style="left:0px;top:507px;width:307px;height:24px"><div class="sbb" style="left:0;height:24px"><i style="left:0px;border-right-color:#000;border-left-width:0;left:4px"></i></div><div class="sbb" style="left:291px;height:24px"><i style="left:6px;border-left-color:#000;border-right-width:0"></i></div><div class="sbb" style="left:256px;width:34px;height:24px"></div></div><div class="a" style="left:316px;top:0px;width:320px;height:538px;background:#10040f;border-radius:9px 9px 5px 5px;box-shadow:inset 1px 0 0 rgba(255,255,255,.13),inset -1px 0 0 rgba(255,255,255,.13),inset 0 -1px 0 rgba(255,255,255,.13)"></div><div class="a" style="left:320px;top:26px;width:312px;height:508px;border:1px solid rgba(255,255,255,.14);box-sizing:border-box"></div><div class="fr" style="left:316px;top:1px;width:320px;height:27px;background:linear-gradient(#4c404c,#443844 14px,#0d030d 15px,#0d030d 26px);box-shadow:inset 0 1px 0 rgba(255,255,255,.22),inset 1px 0 0 rgba(255,255,255,.12),inset -1px 0 0 rgba(255,255,255,.12)"></div><svg class="a" style="left:326px;top:5px" width="19" height="19" viewBox="0 0 19 19"><path d="M1 1L18 0.5V18L1 18.5Z" fill="#e8e8fa" stroke="#b8b8e0" stroke-width=".8"/><path d="M5 1V18M9.5 1V18M14 1V18M1 5H18M1 9.5H18M1 14H18" stroke="#cfcfee" stroke-width=".6"/><path d="M2 15C5 14 6 12 7.5 9C8.5 6 9.5 4.5 10.5 5.5C11.5 7.5 12.5 8.5 14 8.2L17 8" fill="none" stroke="#2c7fe0" stroke-width="1.7" stroke-linecap="round"/><path d="M2 7.5C4 6.5 5.5 5 7 4.8C8.5 5 9.5 8 11 8C13 7.5 15 4.5 17 2.5" fill="none" stroke="#3cb81e" stroke-width="1.7" stroke-linecap="round"/></svg><svg class="a" style="left:347px;top:6px" width="17" height="17" viewBox="0 0 17 17"><circle cx="8.5" cy="8.5" r="7.3" fill="none" stroke="#9a9a9a" stroke-width="1.5"/><path d="M8.5 4.5V12.5M4.5 8.5H12.5" stroke="#a9a9a9" stroke-width="2"/></svg><div class="tt" style="left:371px;top:1px;">ES 09-15 (5 Min...</div><div class="a" style="left:560px;top:11px;width:14px;height:14px;background:#a6a6a6;border:1px solid #bdbdbd;box-sizing:border-box;font:11px/12px 'Liberation Sans',sans-serif;color:#000;text-align:center">L</div><svg class="a" style="left:573px;top:6px" width="17" height="17" viewBox="0 0 17 17"><circle cx="8.5" cy="8.5" r="7.3" fill="none" stroke="#9a9a9a" stroke-width="1.5"/><path d="M4 7.5H13" stroke="#a9a9a9" stroke-width="2.4"/></svg><svg class="a" style="left:593px;top:6px" width="17" height="17" viewBox="0 0 17 17"><circle cx="8.5" cy="8.5" r="7.3" fill="none" stroke="#9a9a9a" stroke-width="1.5"/><path d="M4.8 10L8.5 6.2L12.2 10" stroke="#a9a9a9" stroke-width="2.2" fill="none"/></svg><svg class="a" style="left:613px;top:6px" width="17" height="17" viewBox="0 0 17 17"><circle cx="8.5" cy="8.5" r="7.3" fill="none" stroke="#9a9a9a" stroke-width="1.5"/><path d="M5.6 5.6L11.4 11.4M11.4 5.6L5.6 11.4" stroke="#a9a9a9" stroke-width="2.6"/></svg><div class="a" style="left:322px;top:28px;width:308px;height:25px;background:#808000"></div><div class="tool" style="left:322px;top:28px;width:308px"><span style="left:19px">ES 09-15</span><span style="left:82px">5 Min</span><svg style="left:0;top:0" width="308" height="25" viewBox="0 0 308 25"><path d="M10.5 5.5V19.5" stroke="#9a9a9a"/><path d="M11.5 5.5V19.5" stroke="#fff"/><path d="M67 11h6l-3 3.2z" fill="#000"/><path d="M114 11h6l-3 3.2z" fill="#000"/><path d="M127.5 5.5V19.5" stroke="#9a9a9a" stroke-width="1"/><path d="M128.5 5.5V19.5" stroke="#fff" stroke-width="1"/><path d="M134.7 4V20" stroke="#222" stroke-width="1.4"/><rect x="133" y="7" width="3.4" height="10.5" rx="1" fill="#5fd42a" stroke="#2b7d0a" stroke-width=".6"/><path d="M140 4V20" stroke="#222" stroke-width="1.4"/><rect x="138.3" y="7" width="3.4" height="10.5" rx="1" fill="#5fd42a" stroke="#2b7d0a" stroke-width=".6"/><path d="M145.2 4V20" stroke="#222" stroke-width="1.4"/><rect x="143.5" y="7" width="3.4" height="10.5" rx="1" fill="#e8352a" stroke="#8a1208" stroke-width=".6"/><path d="M150 11h6l-3 3.2z" fill="#000"/><g transform="translate(162,0)"><path d="M1 20.2L2.2 16.2L11.2 6.2L14 8.7L5 18.8Z" fill="#f7d52a" stroke="#8a6d10" stroke-width=".7"/><path d="M11.2 6.2L12.6 4.7L15.3 7.2L14 8.7Z" fill="#e8606a" stroke="#9a3038" stroke-width=".6"/><path d="M1 20.2L2.2 16.2L5 18.8Z" fill="#e8c9a0" stroke="#6a5030" stroke-width=".5"/><path d="M1 20.2L1.6 18.4L2.8 19.5Z" fill="#222"/></g><path d="M179 11h6l-3 3.2z" fill="#000"/><g transform="translate(190,0)"><path d="M1.4 20L4.6 16.2" stroke="#3a3a3a" stroke-width="2.4" stroke-linecap="round"/><path d="M4.6 16.2L5.8 14.8" stroke="#777" stroke-width="1.5"/><circle cx="7.7" cy="12.2" r="3.2" fill="#a9d2f2" stroke="#9aa0a8" stroke-width="1.4"/><circle cx="7.1" cy="11.6" r="1.4" fill="#dceefc"/><path d="M14.2 5.2V11.6M11 8.4H17.4" stroke="#10a818" stroke-width="2"/></g><g transform="translate(213,0)"><path d="M1.4 20L4.6 16.2" stroke="#a8a8a8" stroke-width="2.4" stroke-linecap="round"/><path d="M4.6 16.2L5.8 14.8" stroke="#bbb" stroke-width="1.5"/><circle cx="7.9" cy="12.6" r="3.2" fill="#d0d0d0" stroke="#c2c2c2" stroke-width="1.4"/><circle cx="7.3" cy="12" r="1.4" fill="#dedede"/><path d="M11.5 8H16.8" stroke="#b4b4b4" stroke-width="1.7"/></g><path d="M237.5 5.5V19.5" stroke="#9a9a9a" stroke-width="1"/><path d="M238.5 5.5V19.5" stroke="#fff" stroke-width="1"/><g transform="translate(243,0)"><path d="M7.5 4.5V10M7.5 15V20.5M-.5 12.5H5M10 12.5H15.5" stroke="#000" stroke-width="2"/><rect x="6.7" y="11.7" width="1.6" height="1.6" fill="#000"/></g><path d="M261 11h6l-3 3.2z" fill="#000"/><defs><linearGradient id="og" x1="0" y1="0" x2="0" y2="1"><stop offset="0" stop-color="#eceae6"/><stop offset=".5" stop-color="#d9d7d1"/><stop offset="1" stop-color="#7e7e7c"/></linearGradient></defs><path d="M297 0h8a3 3 0 0 1 3 3v19a3 3 0 0 1 -3 3h-8z" fill="url(#og)"/><path d="M300 16.5h5" stroke="#000" stroke-width="1.2"/><path d="M299 18.5h6l-3 3.2z" fill="#000"/><path d="M302.5 22.2l3-3.2" stroke="#fff" stroke-width=".8"/></svg></div><svg style="left:322px;top:53px;background:#808000" width="308" height="454" viewBox="322 53 308 454" shape-rendering="crispEdges"><rect x="568" y="58" width="1" height="420"/><rect x="322" y="325" width="308" height="1"/><rect x="322" y="415" width="308" height="1"/><rect x="324" y="474" width="245" height="1" fill="#c8c8b8"/><rect x="324" y="478" width="245" height="1"/><path d="M569 71.7h5" stroke="#000"/><text x="576" y="74.9">2086.00</text><path d="M569 96.26h5" stroke="#000"/><text x="576" y="99.46">2085.50</text><path d="M569 120.82h5" stroke="#000"/><text x="576" y="124.02">2085.00</text><path d="M569 145.38h5" stroke="#000"/><text x="576" y="148.58">2084.50</text><path d="M569 169.94h5" stroke="#000"/><text x="576" y="173.14">2084.00</text><path d="M569 194.5h5" stroke="#000"/><text x="576" y="197.7">2083.50</text><path d="M569 219.06h5" stroke="#000"/><text x="576" y="222.26">2083.00</text><path d="M569 243.62h5" stroke="#000"/><text x="576" y="246.82">2082.50</text><path d="M569 268.18h5" stroke="#000"/><text x="576" y="271.38">2082.00</text><path d="M569 292.74h5" stroke="#000"/><text x="576" y="295.94">2081.50</text><path d="M569 317.3h5" stroke="#000"/><text x="576" y="320.5">2081.00</text><rect x="332" y="157" width="1" height="49"/><rect x="331.5" y="169.5" width="4" height="24" fill="#ff0000" stroke="#000"/><rect x="337" y="157" width="1" height="49"/><rect x="336.5" y="157.5" width="4" height="24" fill="#98fb98" stroke="#000"/><rect x="342" y="157" width="1" height="25"/><rect x="341.5" y="169.5" width="4" height="12" fill="#ff0000" stroke="#000"/><rect x="347" y="145" width="1" height="37"/><rect x="346.5" y="157.5" width="4" height="11" fill="#98fb98" stroke="#000"/><rect x="352" y="145" width="1" height="49"/><rect x="351.5" y="157.5" width="4" height="11" fill="#ff0000" stroke="#000"/><rect x="357" y="169" width="1" height="25"/><rect x="356" y="182" width="5" height="1"/><rect x="362" y="182" width="1" height="24"/><rect x="361" y="194" width="5" height="1"/><rect x="367" y="194" width="1" height="37"/><rect x="366.5" y="194.5" width="4" height="36" fill="#ff0000" stroke="#000"/><rect x="372" y="219" width="1" height="24"/><rect x="371" y="231" width="5" height="1"/><rect x="377" y="219" width="1" height="36"/><rect x="376" y="231" width="5" height="1"/><rect x="382" y="243" width="1" height="12"/><rect x="381.5" y="243.5" width="4" height="11" fill="#ff0000" stroke="#000"/><rect x="387" y="206" width="1" height="49"/><rect x="386.5" y="219.5" width="4" height="35" fill="#98fb98" stroke="#000"/><rect x="392" y="194" width="1" height="25"/><rect x="391" y="219" width="5" height="1"/><rect x="397" y="219" width="1" height="12"/><rect x="396.5" y="219.5" width="4" height="11" fill="#ff0000" stroke="#000"/><rect x="402" y="219" width="1" height="24"/><rect x="401.5" y="219.5" width="4" height="23" fill="#ff0000" stroke="#000"/><rect x="407" y="231" width="1" height="49"/><rect x="406.5" y="243.5" width="4" height="36" fill="#ff0000" stroke="#000"/><rect x="412" y="268" width="1" height="12"/><rect x="411.5" y="268.5" width="4" height="11" fill="#ff0000" stroke="#000"/><rect x="417" y="268" width="1" height="12"/><rect x="416.5" y="268.5" width="4" height="11" fill="#ff0000" stroke="#000"/><rect x="422" y="268" width="1" height="12"/><rect x="421.5" y="268.5" width="4" height="11" fill="#98fb98" stroke="#000"/><rect x="427" y="268" width="1" height="12"/><rect x="426" y="268" width="5" height="1"/><rect x="432" y="255" width="1" height="13"/><rect x="431" y="268" width="5" height="1"/><rect x="437" y="255" width="1" height="13"/><rect x="436" y="268" width="5" height="1"/><rect x="442" y="255" width="1" height="13"/><rect x="441.5" y="255.5" width="4" height="12" fill="#ff0000" stroke="#000"/><rect x="447" y="268" width="1" height="24"/><rect x="446.5" y="268.5" width="4" height="11" fill="#ff0000" stroke="#000"/><rect x="452" y="268" width="1" height="24"/><rect x="451.5" y="280.5" width="4" height="11" fill="#98fb98" stroke="#000"/><rect x="457" y="268" width="1" height="24"/><rect x="456.5" y="280.5" width="4" height="11" fill="#98fb98" stroke="#000"/><rect x="462" y="268" width="1" height="12"/><rect x="461.5" y="268.5" width="4" height="11" fill="#ff0000" stroke="#000"/><rect x="467" y="268" width="1" height="12"/><rect x="466" y="280" width="5" height="1"/><rect x="472" y="268" width="1" height="24"/><rect x="471" y="280" width="5" height="1"/><rect x="477" y="280" width="1" height="12"/><rect x="476.5" y="280.5" width="4" height="11" fill="#ff0000" stroke="#000"/><rect x="482" y="268" width="1" height="24"/><rect x="481" y="292" width="5" height="1"/><rect x="487" y="280" width="1" height="25"/><rect x="486.5" y="280.5" width="4" height="11" fill="#98fb98" stroke="#000"/><rect x="492" y="255" width="1" height="37"/><rect x="491.5" y="268.5" width="4" height="11" fill="#98fb98" stroke="#000"/><rect x="497" y="194" width="1" height="74"/><rect x="496.5" y="206.5" width="4" height="48" fill="#98fb98" stroke="#000"/><rect x="502" y="157" width="1" height="86"/><rect x="501.5" y="169.5" width="4" height="49" fill="#98fb98" stroke="#000"/><rect x="507" y="169" width="1" height="74"/><rect x="506.5" y="169.5" width="4" height="61" fill="#ff0000" stroke="#000"/><rect x="512" y="206" width="1" height="37"/><rect x="511" y="231" width="5" height="1"/><rect x="517" y="219" width="1" height="24"/><rect x="516.5" y="219.5" width="4" height="11" fill="#98fb98" stroke="#000"/><rect x="522" y="206" width="1" height="49"/><rect x="521.5" y="219.5" width="4" height="23" fill="#ff0000" stroke="#000"/><rect x="527" y="194" width="1" height="49"/><rect x="526.5" y="206.5" width="4" height="24" fill="#98fb98" stroke="#000"/><rect x="532" y="194" width="1" height="25"/><rect x="531.5" y="194.5" width="4" height="11" fill="#98fb98" stroke="#000"/><rect x="537" y="169" width="1" height="25"/><rect x="536.5" y="169.5" width="4" height="24" fill="#98fb98" stroke="#000"/><rect x="542" y="169" width="1" height="37"/><rect x="541" y="182" width="5" height="1"/><rect x="547" y="169" width="1" height="25"/><rect x="546.5" y="169.5" width="4" height="24" fill="#98fb98" stroke="#000"/><rect x="552" y="71" width="1" height="111"/><rect x="551.5" y="108.5" width="4" height="73" fill="#98fb98" stroke="#000"/><rect x="557" y="96" width="1" height="159"/><rect x="556.5" y="96.5" width="4" height="97" fill="#ff0000" stroke="#000"/><rect x="562" y="133" width="1" height="86"/><rect x="561.5" y="133.5" width="4" height="72" fill="#98fb98" stroke="#000"/><path d="M569 132.4l7.2 -7.2h41.75v14.4h-41.75z" fill="#000" shape-rendering="auto"/><text x="577.7" y="136.1" style="fill:#fff">2084.75</text><rect x="324" y="369" width="245" height="1" fill="#0000ff"/><rect x="331" y="369" width="55" height="1" fill="#000"/><text x="324.5" y="346">GomCD(ES 09-15 (5 Min),BidAsk,CumulativeChart,Short,None,0,</text><text x="324.5" y="399">Recording Short KO</text><text x="324.5" y="436">VolumeUpDown(ES 09-15 (5 Min))</text><rect x="385" y="370" width="8" height="1"/><rect x="393" y="364" width="1" height="6"/><rect x="390.5" y="364.5" width="7" height="5" fill="#98fb98" stroke="#000"/><rect x="398" y="364" width="1" height="3"/><rect x="395.5" y="364.5" width="7" height="2" fill="#ff0000" stroke="#000"/><rect x="403" y="365" width="1" height="3"/><rect x="400.5" y="365.5" width="7" height="2" fill="#ff0000" stroke="#000"/><rect x="408" y="368" width="1" height="20"/><rect x="405.5" y="368.5" width="7" height="19" fill="#ff0000" stroke="#000"/><rect x="413" y="387" width="1" height="3"/><rect x="410.5" y="387.5" width="7" height="2" fill="#ff0000" stroke="#000"/><rect x="418" y="388" width="1" height="3"/><rect x="415.5" y="388.5" width="7" height="2" fill="#98fb98" stroke="#000"/><rect x="420" y="389" width="8" height="1"/><rect x="425" y="389" width="8" height="1"/><rect x="430" y="389" width="8" height="1"/><rect x="435" y="389" width="8" height="1"/><rect x="440" y="389" width="8" height="1"/><rect x="448" y="390" width="1" height="8"/><rect x="445.5" y="390.5" width="7" height="7" fill="#ff0000" stroke="#000"/><rect x="453" y="398" width="1" height="3"/><rect x="450.5" y="398.5" width="7" height="2" fill="#ff0000" stroke="#000"/><rect x="455" y="400" width="8" height="1"/><rect x="460" y="400" width="8" height="1"/><rect x="465" y="400" width="8" height="1"/><rect x="473" y="400" width="1" height="3"/><rect x="470.5" y="400.5" width="7" height="2" fill="#ff0000" stroke="#000"/><rect x="478" y="402" width="1" height="3"/><rect x="475.5" y="402.5" width="7" height="2" fill="#ff0000" stroke="#000"/><rect x="483" y="403" width="1" height="3"/><rect x="480.5" y="403.5" width="7" height="2" fill="#98fb98" stroke="#000"/><rect x="485" y="403" width="8" height="1"/><rect x="493" y="401" width="1" height="3"/><rect x="490.5" y="401.5" width="7" height="2" fill="#98fb98" stroke="#000"/><rect x="498" y="379" width="1" height="23"/><rect x="495.5" y="386.5" width="7" height="15" fill="#98fb98" stroke="#000"/><rect x="500" y="386" width="8" height="1"/><rect x="508" y="385" width="1" height="3"/><rect x="505.5" y="385.5" width="7" height="2" fill="#ff0000" stroke="#000"/><rect x="510" y="387" width="8" height="1"/><rect x="518" y="385" width="1" height="3"/><rect x="515.5" y="385.5" width="7" height="2" fill="#98fb98" stroke="#000"/><rect x="520" y="385" width="8" height="1"/><rect x="528" y="382" width="1" height="3"/><rect x="525.5" y="382.5" width="7" height="2" fill="#98fb98" stroke="#000"/><rect x="533" y="378" width="1" height="4"/><rect x="530.5" y="378.5" width="7" height="3" fill="#98fb98" stroke="#000"/><rect x="538" y="370" width="1" height="8"/><rect x="535.5" y="370.5" width="7" height="7" fill="#98fb98" stroke="#000"/><rect x="543" y="370" width="1" height="3"/><rect x="540.5" y="370.5" width="7" height="2" fill="#ff0000" stroke="#000"/><rect x="548" y="370" width="1" height="3"/><rect x="545.5" y="370.5" width="7" height="2" fill="#98fb98" stroke="#000"/><rect x="553" y="333" width="1" height="37"/><rect x="550.5" y="337.5" width="7" height="32" fill="#98fb98" stroke="#000"/><rect x="558" y="336" width="1" height="12"/><rect x="555.5" y="337.5" width="7" height="10" fill="#ff0000" stroke="#000"/><rect x="563" y="343" width="1" height="5"/><rect x="560.5" y="343.5" width="7" height="4" fill="#98fb98" stroke="#000"/><path d="M569 370h5" stroke="#000"/><text x="576" y="373.2">0</text><path d="M569 402.5h5" stroke="#000"/><text x="576" y="405.7">-1000</text><path d="M569 428.8h5" stroke="#000"/><text x="576" y="432">2000</text><path d="M569 474.5h5" stroke="#000"/><text x="576" y="477.7">0</text><rect x="332" y="425.83" width="2" height="48.17" fill="#ff0000"/><rect x="337" y="446.17" width="2" height="27.83" fill="#98fb98"/><rect x="342" y="464.17" width="2" height="9.83" fill="#ff0000"/><rect x="347" y="457" width="2" height="17" fill="#98fb98"/><rect x="352" y="463" width="2" height="11" fill="#ff0000"/><rect x="357" y="462" width="2" height="12" fill="#98fb98"/><rect x="362" y="449.17" width="2" height="24.83" fill="#98fb98"/><rect x="367" y="456.17" width="2" height="17.83" fill="#ff0000"/><rect x="372" y="454.17" width="2" height="19.83" fill="#98fb98"/><rect x="377" y="449.17" width="2" height="24.83" fill="#98fb98"/><rect x="382" y="470.83" width="2" height="3.17" fill="#98fb98"/><rect x="387" y="466.33" width="2" height="7.67" fill="#98fb98"/><rect x="392" y="460.33" width="2" height="13.67" fill="#98fb98"/><rect x="397" y="470.83" width="2" height="3.17" fill="#98fb98"/><rect x="402" y="470" width="2" height="4" fill="#ff0000"/><rect x="407" y="449.17" width="2" height="24.83" fill="#ff0000"/><rect x="412" y="466.33" width="2" height="7.67" fill="#ff0000"/><rect x="417" y="471.67" width="2" height="2.33" fill="#ff0000"/><rect x="422" y="468" width="2" height="6" fill="#98fb98"/><rect x="427" y="470.83" width="2" height="3.17" fill="#98fb98"/><rect x="432" y="471.33" width="2" height="2.67" fill="#98fb98"/><rect x="437" y="470" width="2" height="4" fill="#98fb98"/><rect x="442" y="470.83" width="2" height="3.17" fill="#ff0000"/><rect x="447" y="463" width="2" height="11" fill="#ff0000"/><rect x="452" y="470" width="2" height="4" fill="#98fb98"/><rect x="457" y="472.83" width="2" height="1.17" fill="#98fb98"/><rect x="462" y="472.83" width="2" height="1.17" fill="#ff0000"/><rect x="467" y="472.83" width="2" height="1.17" fill="#98fb98"/><rect x="472" y="468" width="2" height="6" fill="#98fb98"/><rect x="477" y="470" width="2" height="4" fill="#ff0000"/><rect x="482" y="468.83" width="2" height="5.17" fill="#98fb98"/><rect x="487" y="468" width="2" height="6" fill="#98fb98"/><rect x="492" y="468.83" width="2" height="5.17" fill="#98fb98"/><rect x="497" y="447" width="2" height="27" fill="#98fb98"/><rect x="502" y="450.33" width="2" height="23.67" fill="#98fb98"/><rect x="507" y="462" width="2" height="12" fill="#ff0000"/><rect x="512" y="465" width="2" height="9" fill="#98fb98"/><rect x="517" y="468.83" width="2" height="5.17" fill="#98fb98"/><rect x="522" y="465" width="2" height="9" fill="#ff0000"/><rect x="527" y="466.17" width="2" height="7.83" fill="#98fb98"/><rect x="532" y="470" width="2" height="4" fill="#98fb98"/><rect x="537" y="464.17" width="2" height="9.83" fill="#98fb98"/><rect x="542" y="458" width="2" height="16" fill="#98fb98"/><rect x="547" y="464.17" width="2" height="9.83" fill="#98fb98"/><rect x="552" y="422" width="2" height="52" fill="#98fb98"/><rect x="557" y="449.17" width="2" height="24.83" fill="#ff0000"/><path d="M570 341.9l7.2 -7.2h20.99v14.4h-20.99z" fill="#ffa500" stroke="#000" stroke-width="1" shape-rendering="auto"/><text x="578.7" y="345.6" style="fill:#000">845</text><path d="M570 448.7l7.2 -7.2h26.92v14.4h-26.92z" fill="#ff0000" stroke="#000" stroke-width="1" shape-rendering="auto"/><text x="578.7" y="452.4" style="fill:#fff">1094</text><text x="324.5" y="476">© 2015 NinjaTrader, LLC</text><rect x="402" y="479" width="1" height="5"/><text x="389" y="495.3">18:30</text><rect x="522" y="479" width="1" height="5"/><text x="509" y="495.3">20:30</text></svg><div class="sb" style="left:322px;top:507px;width:308px;height:24px"><div class="sbb" style="left:0;height:24px"><i style="left:0px;border-right-color:#000;border-left-width:0;left:4px"></i></div><div class="sbb" style="left:292px;height:24px"><i style="left:6px;border-left-color:#000;border-right-width:0"></i></div><div class="sbb" style="left:284px;width:8px;height:24px"></div></div><div class="a" style="left:638px;top:0px;width:321px;height:538px;background:#1a061a;border-radius:9px 9px 5px 5px;box-shadow:inset 1px 0 0 rgba(255,255,255,.13),inset -1px 0 0 rgba(255,255,255,.13),inset 0 -1px 0 rgba(255,255,255,.13)"></div><div class="a" style="left:642px;top:26px;width:313px;height:508px;border:1px solid rgba(255,255,255,.14);box-sizing:border-box"></div><div class="fr" style="left:638px;top:1px;width:321px;height:27px;background:linear-gradient(#564356,#4e3a4e 14px,#1a061a 15px,#1a061a 26px);box-shadow:inset 0 1px 0 rgba(255,255,255,.22),inset 1px 0 0 rgba(255,255,255,.12),inset -1px 0 0 rgba(255,255,255,.12)"></div><svg class="a" style="left:648px;top:5px" width="19" height="19" viewBox="0 0 19 19"><path d="M1 1L18 0.5V18L1 18.5Z" fill="#e8e8fa" stroke="#b8b8e0" stroke-width=".8"/><path d="M5 1V18M9.5 1V18M14 1V18M1 5H18M1 9.5H18M1 14H18" stroke="#cfcfee" stroke-width=".6"/><path d="M2 15C5 14 6 12 7.5 9C8.5 6 9.5 4.5 10.5 5.5C11.5 7.5 12.5 8.5 14 8.2L17 8" fill="none" stroke="#2c7fe0" stroke-width="1.7" stroke-linecap="round"/><path d="M2 7.5C4 6.5 5.5 5 7 4.8C8.5 5 9.5 8 11 8C13 7.5 15 4.5 17 2.5" fill="none" stroke="#3cb81e" stroke-width="1.7" stroke-linecap="round"/></svg><svg class="a" style="left:669px;top:6px" width="17" height="17" viewBox="0 0 17 17"><circle cx="8.5" cy="8.5" r="7.3" fill="none" stroke="#9a9a9a" stroke-width="1.5"/><path d="M8.5 4.5V12.5M4.5 8.5H12.5" stroke="#a9a9a9" stroke-width="2"/></svg><div class="tt" style="left:693px;top:1px;">NQ 09-15 (5 Mi...</div><div class="a" style="left:883px;top:11px;width:14px;height:14px;background:#a6a6a6;border:1px solid #bdbdbd;box-sizing:border-box;font:11px/12px 'Liberation Sans',sans-serif;color:#000;text-align:center">L</div><svg class="a" style="left:896px;top:6px" width="17" height="17" viewBox="0 0 17 17"><circle cx="8.5" cy="8.5" r="7.3" fill="none" stroke="#9a9a9a" stroke-width="1.5"/><path d="M4 7.5H13" stroke="#a9a9a9" stroke-width="2.4"/></svg><svg class="a" style="left:916px;top:6px" width="17" height="17" viewBox="0 0 17 17"><circle cx="8.5" cy="8.5" r="7.3" fill="none" stroke="#9a9a9a" stroke-width="1.5"/><path d="M4.8 10L8.5 6.2L12.2 10" stroke="#a9a9a9" stroke-width="2.2" fill="none"/></svg><svg class="a" style="left:936px;top:6px" width="17" height="17" viewBox="0 0 17 17"><circle cx="8.5" cy="8.5" r="7.3" fill="none" stroke="#9a9a9a" stroke-width="1.5"/><path d="M5.6 5.6L11.4 11.4M11.4 5.6L5.6 11.4" stroke="#a9a9a9" stroke-width="2.6"/></svg><div class="a" style="left:644px;top:28px;width:309px;height:25px;background:#808000"></div><div class="tool" style="left:644px;top:28px;width:309px"><span style="left:19px">NQ 09-15</span><span style="left:86.5px">5 Min</span><svg style="left:0;top:0" width="309" height="25" viewBox="0 0 309 25"><path d="M10.5 5.5V19.5" stroke="#9a9a9a"/><path d="M11.5 5.5V19.5" stroke="#fff"/><path d="M70.5 11h6l-3 3.2z" fill="#000"/><path d="M119 11h6l-3 3.2z" fill="#000"/><path d="M132 5.5V19.5" stroke="#9a9a9a" stroke-width="1"/><path d="M133 5.5V19.5" stroke="#fff" stroke-width="1"/><path d="M139.2 4V20" stroke="#222" stroke-width="1.4"/><rect x="137.5" y="7" width="3.4" height="10.5" rx="1" fill="#5fd42a" stroke="#2b7d0a" stroke-width=".6"/><path d="M144.5 4V20" stroke="#222" stroke-width="1.4"/><rect x="142.8" y="7" width="3.4" height="10.5" rx="1" fill="#5fd42a" stroke="#2b7d0a" stroke-width=".6"/><path d="M149.7 4V20" stroke="#222" stroke-width="1.4"/><rect x="148" y="7" width="3.4" height="10.5" rx="1" fill="#e8352a" stroke="#8a1208" stroke-width=".6"/><path d="M154.5 11h6l-3 3.2z" fill="#000"/><g transform="translate(166.5,0)"><path d="M1 20.2L2.2 16.2L11.2 6.2L14 8.7L5 18.8Z" fill="#f7d52a" stroke="#8a6d10" stroke-width=".7"/><path d="M11.2 6.2L12.6 4.7L15.3 7.2L14 8.7Z" fill="#e8606a" stroke="#9a3038" stroke-width=".6"/><path d="M1 20.2L2.2 16.2L5 18.8Z" fill="#e8c9a0" stroke="#6a5030" stroke-width=".5"/><path d="M1 20.2L1.6 18.4L2.8 19.5Z" fill="#222"/></g><path d="M183.5 11h6l-3 3.2z" fill="#000"/><g transform="translate(194.5,0)"><path d="M1.4 20L4.6 16.2" stroke="#3a3a3a" stroke-width="2.4" stroke-linecap="round"/><path d="M4.6 16.2L5.8 14.8" stroke="#777" stroke-width="1.5"/><circle cx="7.7" cy="12.2" r="3.2" fill="#a9d2f2" stroke="#9aa0a8" stroke-width="1.4"/><circle cx="7.1" cy="11.6" r="1.4" fill="#dceefc"/><path d="M14.2 5.2V11.6M11 8.4H17.4" stroke="#10a818" stroke-width="2"/></g><g transform="translate(217.5,0)"><path d="M1.4 20L4.6 16.2" stroke="#a8a8a8" stroke-width="2.4" stroke-linecap="round"/><path d="M4.6 16.2L5.8 14.8" stroke="#bbb" stroke-width="1.5"/><circle cx="7.9" cy="12.6" r="3.2" fill="#d0d0d0" stroke="#c2c2c2" stroke-width="1.4"/><circle cx="7.3" cy="12" r="1.4" fill="#dedede"/><path d="M11.5 8H16.8" stroke="#b4b4b4" stroke-width="1.7"/></g><path d="M242 5.5V19.5" stroke="#9a9a9a" stroke-width="1"/><path d="M243 5.5V19.5" stroke="#fff" stroke-width="1"/><g transform="translate(247.5,0)"><path d="M7.5 4.5V10M7.5 15V20.5M-.5 12.5H5M10 12.5H15.5" stroke="#000" stroke-width="2"/><rect x="6.7" y="11.7" width="1.6" height="1.6" fill="#000"/></g><path d="M265.5 11h6l-3 3.2z" fill="#000"/><defs><linearGradient id="og" x1="0" y1="0" x2="0" y2="1"><stop offset="0" stop-color="#eceae6"/><stop offset=".5" stop-color="#d9d7d1"/><stop offset="1" stop-color="#7e7e7c"/></linearGradient></defs><path d="M298 0h8a3 3 0 0 1 3 3v19a3 3 0 0 1 -3 3h-8z" fill="url(#og)"/><path d="M301 16.5h5" stroke="#000" stroke-width="1.2"/><path d="M300 18.5h6l-3 3.2z" fill="#000"/><path d="M303.5 22.2l3-3.2" stroke="#fff" stroke-width=".8"/></svg></div><svg style="left:644px;top:53px;background:#808000" width="309" height="454" viewBox="644 53 309 454" shape-rendering="crispEdges"><rect x="652" y="60" width="1" height="418" fill="#dedecf"/><rect x="893" y="58" width="1" height="420"/><rect x="644" y="325" width="309" height="1"/><rect x="644" y="415" width="309" height="1"/><rect x="646" y="474" width="248" height="1" fill="#c8c8b8"/><rect x="646" y="478" width="248" height="1"/><path d="M894 68.64h5" stroke="#000"/><text x="901" y="71.84">4542.00</text><path d="M894 99.59h5" stroke="#000"/><text x="901" y="102.79">4540.00</text><path d="M894 130.54h5" stroke="#000"/><text x="901" y="133.74">4538.00</text><path d="M894 161.49h5" stroke="#000"/><text x="901" y="164.69">4536.00</text><path d="M894 192.44h5" stroke="#000"/><text x="901" y="195.64">4534.00</text><path d="M894 223.39h5" stroke="#000"/><text x="901" y="226.59">4532.00</text><path d="M894 254.34h5" stroke="#000"/><text x="901" y="257.54">4530.00</text><path d="M894 285.28h5" stroke="#000"/><text x="901" y="288.48">4528.00</text><path d="M894 316.23h5" stroke="#000"/><text x="901" y="319.43">4526.00</text><rect x="652" y="184" width="1" height="75"/><rect x="651.5" y="205.5" width="4" height="25" fill="#98fb98" stroke="#000"/><rect x="657" y="211" width="1" height="35"/><rect x="656.5" y="216.5" width="4" height="18" fill="#ff0000" stroke="#000"/><rect x="662" y="196" width="1" height="39"/><rect x="661.5" y="205.5" width="4" height="29" fill="#98fb98" stroke="#000"/><rect x="667" y="205" width="1" height="11"/><rect x="666.5" y="205.5" width="4" height="5" fill="#98fb98" stroke="#000"/><rect x="672" y="197" width="1" height="14"/><rect x="671.5" y="197.5" width="4" height="13" fill="#98fb98" stroke="#000"/><rect x="677" y="192" width="1" height="32"/><rect x="676.5" y="197.5" width="4" height="6" fill="#ff0000" stroke="#000"/><rect x="682" y="212" width="1" height="12"/><rect x="681.5" y="212.5" width="4" height="2" fill="#98fb98" stroke="#000"/><rect x="687" y="215" width="1" height="20"/><rect x="686.5" y="220.5" width="4" height="2" fill="#ff0000" stroke="#000"/><rect x="692" y="215" width="1" height="24"/><rect x="691.5" y="220.5" width="4" height="18" fill="#ff0000" stroke="#000"/><rect x="697" y="211" width="1" height="39"/><rect x="696.5" y="216.5" width="4" height="22" fill="#98fb98" stroke="#000"/><rect x="702" y="231" width="1" height="39"/><rect x="701.5" y="250.5" width="4" height="7" fill="#98fb98" stroke="#000"/><rect x="707" y="247" width="1" height="19"/><rect x="706.5" y="247.5" width="4" height="14" fill="#ff0000" stroke="#000"/><rect x="712" y="240" width="1" height="30"/><rect x="711.5" y="240.5" width="4" height="21" fill="#98fb98" stroke="#000"/><rect x="717" y="236" width="1" height="14"/><rect x="716.5" y="236.5" width="4" height="13" fill="#98fb98" stroke="#000"/><rect x="722" y="239" width="1" height="7"/><rect x="721.5" y="243.5" width="4" height="2" fill="#ff0000" stroke="#000"/><rect x="727" y="243" width="1" height="15"/><rect x="726.5" y="243.5" width="4" height="14" fill="#ff0000" stroke="#000"/><rect x="732" y="258" width="1" height="31"/><rect x="731.5" y="263.5" width="4" height="25" fill="#ff0000" stroke="#000"/><rect x="737" y="285" width="1" height="20"/><rect x="736.5" y="294.5" width="4" height="6" fill="#ff0000" stroke="#000"/><rect x="742" y="285" width="1" height="16"/><rect x="741" y="301" width="5" height="1"/><rect x="747" y="298" width="1" height="3"/><rect x="746.5" y="298.5" width="4" height="2" fill="#98fb98" stroke="#000"/><rect x="752" y="285" width="1" height="8"/><rect x="751.5" y="285.5" width="4" height="7" fill="#98fb98" stroke="#000"/><rect x="757" y="270" width="1" height="15"/><rect x="756.5" y="273.5" width="4" height="11" fill="#98fb98" stroke="#000"/><rect x="762" y="270" width="1" height="4"/><rect x="761" y="273" width="5" height="1"/><rect x="767" y="270" width="1" height="4"/><rect x="766" y="273" width="5" height="1"/><rect x="772" y="270" width="1" height="20"/><rect x="771.5" y="270.5" width="4" height="6" fill="#ff0000" stroke="#000"/><rect x="777" y="273" width="1" height="4"/><rect x="776.5" y="273.5" width="4" height="3" fill="#98fb98" stroke="#000"/><rect x="782" y="263" width="1" height="10"/><rect x="781.5" y="263.5" width="4" height="9" fill="#98fb98" stroke="#000"/><rect x="787" y="270" width="1" height="3"/><rect x="786.5" y="270.5" width="4" height="2" fill="#98fb98" stroke="#000"/><rect x="792" y="266" width="1" height="7"/><rect x="791.5" y="266.5" width="4" height="6" fill="#ff0000" stroke="#000"/><rect x="797" y="270" width="1" height="11"/><rect x="796.5" y="270.5" width="4" height="2" fill="#98fb98" stroke="#000"/><rect x="802" y="266" width="1" height="11"/><rect x="801.5" y="266.5" width="4" height="10" fill="#ff0000" stroke="#000"/><rect x="807" y="273" width="1" height="12"/><rect x="806.5" y="273.5" width="4" height="3" fill="#ff0000" stroke="#000"/><rect x="812" y="282" width="1" height="12"/><rect x="811.5" y="282.5" width="4" height="2" fill="#ff0000" stroke="#000"/><rect x="817" y="255" width="1" height="34"/><rect x="816.5" y="255.5" width="4" height="33" fill="#98fb98" stroke="#000"/><rect x="822" y="204" width="1" height="51"/><rect x="821.5" y="211.5" width="4" height="38" fill="#98fb98" stroke="#000"/><rect x="827" y="180" width="1" height="43"/><rect x="826.5" y="200.5" width="4" height="14" fill="#98fb98" stroke="#000"/><rect x="832" y="200" width="1" height="42"/><rect x="831.5" y="200.5" width="4" height="41" fill="#ff0000" stroke="#000"/><rect x="837" y="223" width="1" height="27"/><rect x="836.5" y="236.5" width="4" height="13" fill="#ff0000" stroke="#000"/><rect x="842" y="236" width="1" height="14"/><rect x="841.5" y="236.5" width="4" height="5" fill="#98fb98" stroke="#000"/><rect x="847" y="236" width="1" height="30"/><rect x="846.5" y="236.5" width="4" height="21" fill="#ff0000" stroke="#000"/><rect x="852" y="218" width="1" height="32"/><rect x="851.5" y="231.5" width="4" height="14" fill="#98fb98" stroke="#000"/><rect x="857" y="211" width="1" height="20"/><rect x="856.5" y="219.5" width="4" height="11" fill="#98fb98" stroke="#000"/><rect x="862" y="205" width="1" height="23"/><rect x="861.5" y="205.5" width="4" height="9" fill="#98fb98" stroke="#000"/><rect x="867" y="192" width="1" height="23"/><rect x="866.5" y="197.5" width="4" height="9" fill="#98fb98" stroke="#000"/><rect x="872" y="172" width="1" height="24"/><rect x="871.5" y="181.5" width="4" height="14" fill="#98fb98" stroke="#000"/><rect x="877" y="71" width="1" height="118"/><rect x="876.5" y="114.5" width="4" height="65" fill="#98fb98" stroke="#000"/><rect x="882" y="114" width="1" height="121"/><rect x="881.5" y="114.5" width="4" height="61" fill="#ff0000" stroke="#000"/><rect x="887" y="130" width="1" height="75"/><rect x="886.5" y="141.5" width="4" height="46" fill="#98fb98" stroke="#000"/><path d="M894 140.4l7.2 -7.2h41.75v14.4h-41.75z" fill="#000" shape-rendering="auto"/><text x="902.7" y="144.1" style="fill:#fff">4537.25</text><text x="646.3" y="346">GomCD(NQ 09-15 (5 Min),BidAsk,CumulativeChart,Short,None,0,</text><text x="646.3" y="399">Recording Short KO</text><text x="646.3" y="436">VolumeUpDown(NQ 09-15 (5 Min))</text><rect x="646" y="396" width="248" height="1" fill="#0000ff"/><rect x="646" y="396" width="80" height="1" fill="#000"/><rect x="726" y="397" width="5" height="1"/><rect x="732" y="398" width="1" height="3"/><rect x="731.5" y="398.5" width="4" height="2" fill="#ff0000" stroke="#000"/><rect x="737" y="398" width="1" height="6"/><rect x="736" y="399" width="5" height="1"/><rect x="741" y="400" width="5" height="1"/><rect x="746" y="401" width="5" height="1"/><rect x="751" y="401" width="5" height="1"/><rect x="757" y="398" width="1" height="3"/><rect x="756.5" y="398.5" width="4" height="2" fill="#98fb98" stroke="#000"/><rect x="761" y="398" width="5" height="1"/><rect x="766" y="398" width="5" height="1"/><rect x="772" y="398" width="1" height="3"/><rect x="771.5" y="398.5" width="4" height="2" fill="#ff0000" stroke="#000"/><rect x="776" y="398" width="5" height="1"/><rect x="782" y="397" width="1" height="3"/><rect x="781.5" y="397.5" width="4" height="2" fill="#98fb98" stroke="#000"/><rect x="786" y="397" width="5" height="1"/><rect x="791" y="397" width="5" height="1"/><rect x="796" y="397" width="5" height="1"/><rect x="802" y="396" width="1" height="3"/><rect x="801.5" y="396.5" width="4" height="2" fill="#ff0000" stroke="#000"/><rect x="806" y="398" width="5" height="1"/><rect x="811" y="399" width="5" height="1"/><rect x="816" y="398" width="5" height="1"/><rect x="822" y="396" width="1" height="3"/><rect x="821.5" y="396.5" width="4" height="2" fill="#98fb98" stroke="#000"/><rect x="827" y="392" width="1" height="5"/><rect x="826.5" y="393.5" width="4" height="3" fill="#98fb98" stroke="#000"/><rect x="832" y="392" width="1" height="3"/><rect x="831.5" y="392.5" width="4" height="2" fill="#ff0000" stroke="#000"/><rect x="837" y="394" width="1" height="3"/><rect x="836.5" y="394.5" width="4" height="2" fill="#ff0000" stroke="#000"/><rect x="841" y="396" width="5" height="1"/><rect x="846" y="397" width="5" height="1"/><rect x="852" y="395" width="1" height="3"/><rect x="851.5" y="395.5" width="4" height="2" fill="#98fb98" stroke="#000"/><rect x="856" y="395" width="5" height="1"/><rect x="861" y="393" width="5" height="1"/><rect x="867" y="382" width="1" height="11"/><rect x="866.5" y="382.5" width="4" height="10" fill="#98fb98" stroke="#000"/><rect x="872" y="372" width="1" height="10"/><rect x="871.5" y="372.5" width="4" height="9" fill="#98fb98" stroke="#000"/><rect x="877" y="334" width="1" height="37"/><rect x="876.5" y="334.5" width="4" height="36" fill="#98fb98" stroke="#000"/><rect x="882" y="333" width="1" height="8"/><rect x="881.5" y="334.5" width="4" height="6" fill="#ff0000" stroke="#000"/><rect x="886" y="343" width="5" height="1"/><path d="M894 396.8h5" stroke="#000"/><text x="901" y="400">0</text><path d="M894 434.5h5" stroke="#000"/><text x="901" y="437.7">1000</text><path d="M894 474.5h5" stroke="#000"/><text x="901" y="477.7">0</text><rect x="652" y="422" width="2" height="52" fill="#98fb98"/><rect x="657" y="454.17" width="2" height="19.83" fill="#ff0000"/><rect x="662" y="467.5" width="2" height="6.5" fill="#98fb98"/><rect x="667" y="471.33" width="2" height="2.67" fill="#98fb98"/><rect x="672" y="472" width="2" height="2" fill="#98fb98"/><rect x="677" y="468.67" width="2" height="5.33" fill="#ff0000"/><rect x="682" y="471.67" width="2" height="2.33" fill="#98fb98"/><rect x="687" y="472" width="2" height="2" fill="#ff0000"/><rect x="692" y="472" width="2" height="2" fill="#98fb98"/><rect x="697" y="472.5" width="2" height="1.5" fill="#ff0000"/><rect x="702" y="468.33" width="2" height="5.67" fill="#98fb98"/><rect x="707" y="471.67" width="2" height="2.33" fill="#98fb98"/><rect x="712" y="472.33" width="2" height="1.67" fill="#ff0000"/><rect x="717" y="472" width="2" height="2" fill="#98fb98"/><rect x="722" y="472.5" width="2" height="1.5" fill="#98fb98"/><rect x="727" y="472" width="2" height="2" fill="#ff0000"/><rect x="732" y="472.33" width="2" height="1.67" fill="#98fb98"/><rect x="737" y="469.17" width="2" height="4.83" fill="#ff0000"/><rect x="742" y="470.83" width="2" height="3.17" fill="#98fb98"/><rect x="747" y="472.5" width="2" height="1.5" fill="#98fb98"/><rect x="752" y="472.67" width="2" height="1.33" fill="#ff0000"/><rect x="757" y="471.67" width="2" height="2.33" fill="#98fb98"/><rect x="762" y="472.67" width="2" height="1.33" fill="#98fb98"/><rect x="772" y="472.83" width="2" height="1.17" fill="#ff0000"/><rect x="782" y="472.83" width="2" height="1.17" fill="#98fb98"/><rect x="797" y="471.67" width="2" height="2.33" fill="#98fb98"/><rect x="802" y="472.5" width="2" height="1.5" fill="#ff0000"/><rect x="807" y="472" width="2" height="2" fill="#ff0000"/><rect x="812" y="472" width="2" height="2" fill="#ff0000"/><rect x="817" y="472" width="2" height="2" fill="#98fb98"/><rect x="822" y="466.17" width="2" height="7.83" fill="#98fb98"/><rect x="827" y="468" width="2" height="6" fill="#98fb98"/><rect x="832" y="471.67" width="2" height="2.33" fill="#ff0000"/><rect x="837" y="472" width="2" height="2" fill="#ff0000"/><rect x="842" y="472.83" width="2" height="1.17" fill="#98fb98"/><rect x="847" y="472" width="2" height="2" fill="#ff0000"/><rect x="852" y="470.83" width="2" height="3.17" fill="#98fb98"/><rect x="857" y="472.83" width="2" height="1.17" fill="#98fb98"/><rect x="862" y="472" width="2" height="2" fill="#98fb98"/><rect x="867" y="467" width="2" height="7" fill="#98fb98"/><rect x="872" y="468" width="2" height="6" fill="#98fb98"/><rect x="877" y="450" width="2" height="24" fill="#98fb98"/><rect x="882" y="462" width="2" height="12" fill="#ff0000"/><path d="M895 343.7l7.2 -7.2h20.99v14.4h-20.99z" fill="#ffa500" stroke="#000" stroke-width="1" shape-rendering="auto"/><text x="903.7" y="347.4" style="fill:#000">484</text><path d="M895 461.7l7.2 -7.2h20.99v14.4h-20.99z" fill="#ff0000" stroke="#000" stroke-width="1" shape-rendering="auto"/><text x="903.7" y="465.4" style="fill:#fff">294</text><text x="646.3" y="476">© 2015 NinjaTrader, LLC</text><rect x="700" y="479" width="1" height="5"/><text x="686.2" y="495.3">17:30</text><rect x="788" y="479" width="1" height="5"/><text x="774" y="495.3">19:30</text></svg><div class="sb" style="left:644px;top:507px;width:309px;height:24px"><div class="sbb" style="left:0;height:24px"><i style="left:0px;border-right-color:#000;border-left-width:0;left:4px"></i></div><div class="sbb" style="left:293px;height:24px"><i style="left:6px;border-left-color:#000;border-right-width:0"></i></div><div class="sbb" style="left:283px;width:9px;height:24px"></div></div><div class="a" style="left:961px;top:0px;width:322px;height:538px;background:#0d030d;border-radius:9px 9px 5px 5px;box-shadow:inset 1px 0 0 rgba(255,255,255,.13),inset -1px 0 0 rgba(255,255,255,.13),inset 0 -1px 0 rgba(255,255,255,.13)"></div><div class="a" style="left:965px;top:26px;width:314px;height:508px;border:1px solid rgba(255,255,255,.14);box-sizing:border-box"></div><div class="fr" style="left:961px;top:1px;width:322px;height:27px;background:linear-gradient(#4c404c,#443844 14px,#0d030d 15px,#0d030d 26px);box-shadow:inset 0 1px 0 rgba(255,255,255,.22),inset 1px 0 0 rgba(255,255,255,.12),inset -1px 0 0 rgba(255,255,255,.12)"></div><svg class="a" style="left:971px;top:5px" width="19" height="19" viewBox="0 0 19 19"><path d="M1 1L18 0.5V18L1 18.5Z" fill="#e8e8fa" stroke="#b8b8e0" stroke-width=".8"/><path d="M5 1V18M9.5 1V18M14 1V18M1 5H18M1 9.5H18M1 14H18" stroke="#cfcfee" stroke-width=".6"/><path d="M2 15C5 14 6 12 7.5 9C8.5 6 9.5 4.5 10.5 5.5C11.5 7.5 12.5 8.5 14 8.2L17 8" fill="none" stroke="#2c7fe0" stroke-width="1.7" stroke-linecap="round"/><path d="M2 7.5C4 6.5 5.5 5 7 4.8C8.5 5 9.5 8 11 8C13 7.5 15 4.5 17 2.5" fill="none" stroke="#3cb81e" stroke-width="1.7" stroke-linecap="round"/></svg><svg class="a" style="left:992px;top:6px" width="17" height="17" viewBox="0 0 17 17"><circle cx="8.5" cy="8.5" r="7.3" fill="none" stroke="#9a9a9a" stroke-width="1.5"/><path d="M8.5 4.5V12.5M4.5 8.5H12.5" stroke="#a9a9a9" stroke-width="2"/></svg><div class="tt" style="left:1016px;top:1px;">ZN 09-15 (5 Mi...</div><div class="a" style="left:1207px;top:11px;width:14px;height:14px;background:#a6a6a6;border:1px solid #bdbdbd;box-sizing:border-box;font:11px/12px 'Liberation Sans',sans-serif;color:#000;text-align:center">L</div><svg class="a" style="left:1220px;top:6px" width="17" height="17" viewBox="0 0 17 17"><circle cx="8.5" cy="8.5" r="7.3" fill="none" stroke="#9a9a9a" stroke-width="1.5"/><path d="M4 7.5H13" stroke="#a9a9a9" stroke-width="2.4"/></svg><svg class="a" style="left:1240px;top:6px" width="17" height="17" viewBox="0 0 17 17"><circle cx="8.5" cy="8.5" r="7.3" fill="none" stroke="#9a9a9a" stroke-width="1.5"/><path d="M4.8 10L8.5 6.2L12.2 10" stroke="#a9a9a9" stroke-width="2.2" fill="none"/></svg><svg class="a" style="left:1260px;top:6px" width="17" height="17" viewBox="0 0 17 17"><circle cx="8.5" cy="8.5" r="7.3" fill="none" stroke="#9a9a9a" stroke-width="1.5"/><path d="M5.6 5.6L11.4 11.4M11.4 5.6L5.6 11.4" stroke="#a9a9a9" stroke-width="2.6"/></svg><div class="a" style="left:967px;top:28px;width:310px;height:25px;background:#808000"></div><div class="tool" style="left:967px;top:28px;width:310px"><span style="left:19.5px">ZN 09-15</span><span style="left:85.3px">5 Min</span><svg style="left:0;top:0" width="310" height="25" viewBox="0 0 310 25"><path d="M10.5 5.5V19.5" stroke="#9a9a9a"/><path d="M11.5 5.5V19.5" stroke="#fff"/><path d="M70 11h6l-3 3.2z" fill="#000"/><path d="M117.5 11h6l-3 3.2z" fill="#000"/><path d="M130.8 5.5V19.5" stroke="#9a9a9a" stroke-width="1"/><path d="M131.8 5.5V19.5" stroke="#fff" stroke-width="1"/><path d="M138 4V20" stroke="#222" stroke-width="1.4"/><rect x="136.3" y="7" width="3.4" height="10.5" rx="1" fill="#5fd42a" stroke="#2b7d0a" stroke-width=".6"/><path d="M143.3 4V20" stroke="#222" stroke-width="1.4"/><rect x="141.6" y="7" width="3.4" height="10.5" rx="1" fill="#5fd42a" stroke="#2b7d0a" stroke-width=".6"/><path d="M148.5 4V20" stroke="#222" stroke-width="1.4"/><rect x="146.8" y="7" width="3.4" height="10.5" rx="1" fill="#e8352a" stroke="#8a1208" stroke-width=".6"/><path d="M153.3 11h6l-3 3.2z" fill="#000"/><g transform="translate(165.3,0)"><path d="M1 20.2L2.2 16.2L11.2 6.2L14 8.7L5 18.8Z" fill="#f7d52a" stroke="#8a6d10" stroke-width=".7"/><path d="M11.2 6.2L12.6 4.7L15.3 7.2L14 8.7Z" fill="#e8606a" stroke="#9a3038" stroke-width=".6"/><path d="M1 20.2L2.2 16.2L5 18.8Z" fill="#e8c9a0" stroke="#6a5030" stroke-width=".5"/><path d="M1 20.2L1.6 18.4L2.8 19.5Z" fill="#222"/></g><path d="M182.3 11h6l-3 3.2z" fill="#000"/><g transform="translate(193.3,0)"><path d="M1.4 20L4.6 16.2" stroke="#3a3a3a" stroke-width="2.4" stroke-linecap="round"/><path d="M4.6 16.2L5.8 14.8" stroke="#777" stroke-width="1.5"/><circle cx="7.7" cy="12.2" r="3.2" fill="#a9d2f2" stroke="#9aa0a8" stroke-width="1.4"/><circle cx="7.1" cy="11.6" r="1.4" fill="#dceefc"/><path d="M14.2 5.2V11.6M11 8.4H17.4" stroke="#10a818" stroke-width="2"/></g><g transform="translate(216.3,0)"><path d="M1.4 20L4.6 16.2" stroke="#a8a8a8" stroke-width="2.4" stroke-linecap="round"/><path d="M4.6 16.2L5.8 14.8" stroke="#bbb" stroke-width="1.5"/><circle cx="7.9" cy="12.6" r="3.2" fill="#d0d0d0" stroke="#c2c2c2" stroke-width="1.4"/><circle cx="7.3" cy="12" r="1.4" fill="#dedede"/><path d="M11.5 8H16.8" stroke="#b4b4b4" stroke-width="1.7"/></g><path d="M240.8 5.5V19.5" stroke="#9a9a9a" stroke-width="1"/><path d="M241.8 5.5V19.5" stroke="#fff" stroke-width="1"/><g transform="translate(246.3,0)"><path d="M7.5 4.5V10M7.5 15V20.5M-.5 12.5H5M10 12.5H15.5" stroke="#000" stroke-width="2"/><rect x="6.7" y="11.7" width="1.6" height="1.6" fill="#000"/></g><path d="M264.3 11h6l-3 3.2z" fill="#000"/><defs><linearGradient id="og" x1="0" y1="0" x2="0" y2="1"><stop offset="0" stop-color="#eceae6"/><stop offset=".5" stop-color="#d9d7d1"/><stop offset="1" stop-color="#7e7e7c"/></linearGradient></defs><path d="M299 0h8a3 3 0 0 1 3 3v19a3 3 0 0 1 -3 3h-8z" fill="url(#og)"/><path d="M302 16.5h5" stroke="#000" stroke-width="1.2"/><path d="M301 18.5h6l-3 3.2z" fill="#000"/><path d="M304.5 22.2l3-3.2" stroke="#fff" stroke-width=".8"/></svg></div><svg style="left:967px;top:53px;background:#808000" width="310" height="454" viewBox="967 53 310 454" shape-rendering="crispEdges"><rect x="1017" y="60" width="1" height="418" fill="#dedecf"/><rect x="1219" y="58" width="1" height="420"/><rect x="967" y="247" width="310" height="1"/><rect x="967" y="311" width="310" height="1"/><rect x="969" y="478" width="251" height="1"/><text x="969.7" y="69">ZN 09-15 (5 Min)</text><path d="M1220 82.7h5" stroke="#000"/><text x="1227" y="85.9">127'310</text><path d="M1220 112.53h5" stroke="#000"/><text x="1227" y="115.73">127'300</text><path d="M1220 142.36h5" stroke="#000"/><text x="1227" y="145.56">127'290</text><path d="M1220 172.19h5" stroke="#000"/><text x="1227" y="175.39">127'280</text><path d="M1220 202.02h5" stroke="#000"/><text x="1227" y="205.22">127'270</text><path d="M1220 231.85h5" stroke="#000"/><text x="1227" y="235.05">127'260</text><rect x="971" y="186" width="1" height="30"/><rect x="969.5" y="186.5" width="4" height="29" fill="#98fb98" stroke="#000"/><rect x="976" y="186" width="1" height="16"/><rect x="974" y="186" width="5" height="1"/><rect x="981" y="186" width="1" height="16"/><rect x="979" y="186" width="5" height="1"/><rect x="986" y="186" width="1" height="16"/><rect x="984" y="201" width="5" height="1"/><rect x="991" y="186" width="1" height="16"/><rect x="989" y="201" width="5" height="1"/><rect x="996" y="201" width="1" height="16"/><rect x="994" y="201" width="5" height="1"/><rect x="1001" y="186" width="1" height="31"/><rect x="999" y="201" width="5" height="1"/><rect x="1007" y="201" width="1" height="16"/><rect x="1005" y="201" width="5" height="1"/><rect x="1013" y="201" width="1" height="15"/><rect x="1011.5" y="201.5" width="4" height="14" fill="#ff0000" stroke="#000"/><rect x="1018" y="216" width="1" height="15"/><rect x="1016.5" y="216.5" width="4" height="14" fill="#ff0000" stroke="#000"/><rect x="1021" y="171" width="1" height="31"/><rect x="1019" y="186" width="5" height="1"/><rect x="1027" y="171" width="1" height="15"/><rect x="1025.5" y="171.5" width="4" height="14" fill="#98fb98" stroke="#000"/><rect x="1030" y="186" width="5" height="1"/><rect x="1037" y="171" width="1" height="30"/><rect x="1035.5" y="171.5" width="4" height="14" fill="#98fb98" stroke="#000"/><rect x="1043" y="157" width="1" height="29"/><rect x="1041.5" y="157.5" width="4" height="28" fill="#98fb98" stroke="#000"/><rect x="1048" y="142" width="1" height="14"/><rect x="1046.5" y="142.5" width="4" height="13" fill="#98fb98" stroke="#000"/><rect x="1052" y="142" width="1" height="15"/><rect x="1050" y="156" width="5" height="1"/><rect x="1057" y="156" width="1" height="16"/><rect x="1055" y="156" width="5" height="1"/><rect x="1064" y="157" width="1" height="14"/><rect x="1062.5" y="157.5" width="4" height="13" fill="#ff0000" stroke="#000"/><rect x="1069" y="156" width="1" height="16"/><rect x="1067" y="156" width="5" height="1"/><rect x="1073" y="156" width="1" height="16"/><rect x="1071" y="156" width="5" height="1"/><rect x="1079" y="157" width="1" height="14"/><rect x="1077.5" y="157.5" width="4" height="13" fill="#ff0000" stroke="#000"/><rect x="1084" y="157" width="1" height="14"/><rect x="1082.5" y="157.5" width="4" height="13" fill="#98fb98" stroke="#000"/><rect x="1089" y="157" width="1" height="14"/><rect x="1087.5" y="157.5" width="4" height="13" fill="#ff0000" stroke="#000"/><rect x="1094" y="156" width="1" height="16"/><rect x="1092" y="156" width="5" height="1"/><rect x="1099" y="156" width="1" height="16"/><rect x="1097" y="171" width="5" height="1"/><rect x="1104" y="156" width="1" height="16"/><rect x="1102" y="171" width="5" height="1"/><rect x="1107" y="156" width="5" height="1"/><rect x="1115" y="142" width="1" height="29"/><rect x="1113.5" y="157.5" width="4" height="13" fill="#ff0000" stroke="#000"/><rect x="1120" y="142" width="1" height="14"/><rect x="1118.5" y="142.5" width="4" height="13" fill="#98fb98" stroke="#000"/><rect x="1125" y="127" width="1" height="16"/><rect x="1123" y="142" width="5" height="1"/><rect x="1128" y="142" width="5" height="1"/><rect x="1136" y="112" width="1" height="30"/><rect x="1134.5" y="112.5" width="4" height="29" fill="#98fb98" stroke="#000"/><rect x="1140" y="97" width="1" height="46"/><rect x="1138" y="127" width="5" height="1"/><rect x="1144" y="127" width="1" height="16"/><rect x="1142" y="127" width="5" height="1"/><rect x="1151" y="112" width="1" height="30"/><rect x="1149.5" y="127.5" width="4" height="14" fill="#98fb98" stroke="#000"/><rect x="1157" y="112" width="1" height="30"/><rect x="1155.5" y="112.5" width="4" height="29" fill="#98fb98" stroke="#000"/><rect x="1162" y="67" width="1" height="30"/><rect x="1160.5" y="82.5" width="4" height="14" fill="#98fb98" stroke="#000"/><rect x="1167" y="67" width="1" height="30"/><rect x="1165.5" y="82.5" width="4" height="14" fill="#ff0000" stroke="#000"/><rect x="1172" y="82" width="1" height="15"/><rect x="1170.5" y="82.5" width="4" height="14" fill="#ff0000" stroke="#000"/><rect x="1176" y="82" width="1" height="16"/><rect x="1174" y="82" width="5" height="1"/><rect x="1182" y="82" width="1" height="45"/><rect x="1180.5" y="82.5" width="4" height="29" fill="#ff0000" stroke="#000"/><rect x="1188" y="112" width="1" height="30"/><rect x="1186.5" y="112.5" width="4" height="14" fill="#ff0000" stroke="#000"/><rect x="1192" y="112" width="1" height="31"/><rect x="1190" y="127" width="5" height="1"/><rect x="1197" y="97" width="1" height="31"/><rect x="1195" y="127" width="5" height="1"/><rect x="1203" y="127" width="1" height="59"/><rect x="1201.5" y="127.5" width="4" height="43" fill="#ff0000" stroke="#000"/><rect x="1208" y="82" width="1" height="89"/><rect x="1206.5" y="82.5" width="4" height="88" fill="#98fb98" stroke="#000"/><rect x="1213" y="82" width="1" height="60"/><rect x="1211.5" y="82.5" width="4" height="59" fill="#ff0000" stroke="#000"/><path d="M1220 141.9l7.2 -7.2h40.82v14.4h-40.82z" fill="#000" shape-rendering="auto"/><text x="1228.7" y="145.6" style="fill:#fff">127'290</text><rect x="969" y="300" width="251" height="1" fill="#0000ff"/><rect x="969" y="300" width="78" height="1" fill="#000"/><text x="969.7" y="268">GomCD(ZN 09-15 (5 Min),BidAsk,CumulativeChart,Short,None,0,</text><text x="969.7" y="295">Recording Short KO</text><text x="969.7" y="332">ZB 09-15 (5 Min)</text><rect x="1037" y="300" width="1" height="3"/><rect x="1034.5" y="300.5" width="6" height="2" fill="#ff0000" stroke="#000"/><rect x="1043" y="296" width="1" height="6"/><rect x="1040.5" y="296.5" width="6" height="5" fill="#98fb98" stroke="#000"/><rect x="1045" y="296" width="7" height="1"/><rect x="1053" y="294" width="1" height="3"/><rect x="1050.5" y="294.5" width="6" height="2" fill="#98fb98" stroke="#000"/><rect x="1058" y="294" width="1" height="3"/><rect x="1055.5" y="294.5" width="6" height="2" fill="#98fb98" stroke="#000"/><rect x="1060" y="293" width="7" height="1"/><rect x="1065" y="293" width="7" height="1"/><rect x="1070" y="293" width="7" height="1"/><rect x="1075" y="293" width="7" height="1"/><rect x="1083" y="291" width="1" height="2"/><rect x="1080" y="292" width="7" height="1"/><rect x="1085" y="293" width="7" height="1"/><rect x="1090" y="292" width="7" height="1"/><rect x="1096" y="292" width="7" height="1"/><rect x="1105" y="289" width="1" height="3"/><rect x="1102.5" y="289.5" width="6" height="2" fill="#98fb98" stroke="#000"/><rect x="1107" y="288" width="7" height="1"/><rect x="1112" y="288" width="7" height="1"/><rect x="1120" y="286" width="1" height="3"/><rect x="1117.5" y="286.5" width="6" height="2" fill="#98fb98" stroke="#000"/><rect x="1125" y="286" width="1" height="3"/><rect x="1122.5" y="286.5" width="6" height="2" fill="#ff0000" stroke="#000"/><rect x="1127" y="288" width="7" height="1"/><rect x="1135" y="286" width="1" height="3"/><rect x="1132.5" y="286.5" width="6" height="2" fill="#98fb98" stroke="#000"/><rect x="1140" y="284" width="1" height="3"/><rect x="1137" y="286" width="7" height="1"/><rect x="1145" y="284" width="1" height="3"/><rect x="1142.5" y="284.5" width="6" height="2" fill="#98fb98" stroke="#000"/><rect x="1150" y="283" width="1" height="3"/><rect x="1147.5" y="283.5" width="6" height="2" fill="#ff0000" stroke="#000"/><rect x="1157" y="280" width="1" height="5"/><rect x="1154.5" y="280.5" width="6" height="4" fill="#98fb98" stroke="#000"/><rect x="1162" y="268" width="1" height="12"/><rect x="1159.5" y="272.5" width="6" height="7" fill="#98fb98" stroke="#000"/><rect x="1164" y="271" width="7" height="1"/><rect x="1168" y="272" width="7" height="1"/><rect x="1175" y="269" width="1" height="3"/><rect x="1172.5" y="269.5" width="6" height="2" fill="#98fb98" stroke="#000"/><rect x="1181" y="269" width="1" height="4"/><rect x="1178.5" y="269.5" width="6" height="3" fill="#ff0000" stroke="#000"/><rect x="1188" y="270" width="1" height="3"/><rect x="1185.5" y="270.5" width="6" height="2" fill="#98fb98" stroke="#000"/><rect x="1190" y="270" width="7" height="1"/><rect x="1196" y="266" width="1" height="4"/><rect x="1193.5" y="266.5" width="6" height="3" fill="#98fb98" stroke="#000"/><rect x="1201" y="267" width="1" height="6"/><rect x="1198.5" y="267.5" width="6" height="5" fill="#ff0000" stroke="#000"/><rect x="1208" y="256" width="1" height="17"/><rect x="1205.5" y="256.5" width="6" height="16" fill="#98fb98" stroke="#000"/><rect x="1213" y="255" width="1" height="5"/><rect x="1210.5" y="256.5" width="6" height="3" fill="#ff0000" stroke="#000"/><path d="M1220 301h5" stroke="#000"/><text x="1227" y="304.2">0</text><path d="M1221 259.4l7.2 -7.2h26.92v14.4h-26.92z" fill="#ffa500" stroke="#000" stroke-width="1" shape-rendering="auto"/><text x="1229.7" y="263.1" style="fill:#000">3676</text><path d="M1220 325h5" stroke="#000"/><text x="1227" y="328.2">158'16</text><path d="M1220 376.7h5" stroke="#000"/><text x="1227" y="379.9">158'12</text><path d="M1220 429.3h5" stroke="#000"/><text x="1227" y="432.5">158'08</text><rect x="971" y="442" width="1" height="26"/><rect x="969.5" y="442.5" width="4" height="12" fill="#98fb98" stroke="#000"/><rect x="976" y="429" width="1" height="14"/><rect x="974" y="442" width="5" height="1"/><rect x="982" y="429" width="1" height="13"/><rect x="980.5" y="429.5" width="4" height="12" fill="#ff0000" stroke="#000"/><rect x="986" y="429" width="1" height="14"/><rect x="984" y="442" width="5" height="1"/><rect x="991" y="429" width="1" height="14"/><rect x="989" y="442" width="5" height="1"/><rect x="997" y="429" width="1" height="26"/><rect x="995.5" y="429.5" width="4" height="12" fill="#ff0000" stroke="#000"/><rect x="1001" y="416" width="1" height="14"/><rect x="999" y="429" width="5" height="1"/><rect x="1008" y="416" width="1" height="26"/><rect x="1006.5" y="429.5" width="4" height="12" fill="#ff0000" stroke="#000"/><rect x="1013" y="429" width="1" height="39"/><rect x="1011.5" y="442.5" width="4" height="25" fill="#ff0000" stroke="#000"/><rect x="1017" y="442" width="1" height="27"/><rect x="1015" y="455" width="5" height="1"/><rect x="1021" y="442" width="1" height="27"/><rect x="1019" y="455" width="5" height="1"/><rect x="1027" y="442" width="1" height="13"/><rect x="1025.5" y="442.5" width="4" height="12" fill="#98fb98" stroke="#000"/><rect x="1030" y="442" width="5" height="1"/><rect x="1038" y="455" width="1" height="13"/><rect x="1036.5" y="455.5" width="4" height="12" fill="#ff0000" stroke="#000"/><rect x="1043" y="442" width="1" height="13"/><rect x="1041.5" y="442.5" width="4" height="12" fill="#98fb98" stroke="#000"/><rect x="1046" y="442" width="5" height="1"/><rect x="1052" y="442" width="1" height="14"/><rect x="1050" y="442" width="5" height="1"/><rect x="1056" y="442" width="5" height="1"/><rect x="1063" y="442" width="1" height="14"/><rect x="1061" y="442" width="5" height="1"/><rect x="1066" y="442" width="5" height="1"/><rect x="1076" y="442" width="5" height="1"/><rect x="1083" y="429" width="1" height="14"/><rect x="1081" y="442" width="5" height="1"/><rect x="1086" y="442" width="5" height="1"/><rect x="1094" y="429" width="1" height="27"/><rect x="1092" y="442" width="5" height="1"/><rect x="1097" y="442" width="5" height="1"/><rect x="1102" y="442" width="5" height="1"/><rect x="1115" y="429" width="1" height="13"/><rect x="1113.5" y="429.5" width="4" height="12" fill="#98fb98" stroke="#000"/><rect x="1118" y="429" width="5" height="1"/><rect x="1126" y="403" width="1" height="26"/><rect x="1124.5" y="403.5" width="4" height="25" fill="#98fb98" stroke="#000"/><rect x="1131" y="403" width="1" height="13"/><rect x="1129.5" y="403.5" width="4" height="12" fill="#ff0000" stroke="#000"/><rect x="1136" y="389" width="1" height="27"/><rect x="1134.5" y="403.5" width="4" height="12" fill="#98fb98" stroke="#000"/><rect x="1141" y="389" width="1" height="14"/><rect x="1139.5" y="389.5" width="4" height="13" fill="#ff0000" stroke="#000"/><rect x="1144" y="403" width="1" height="14"/><rect x="1142" y="416" width="5" height="1"/><rect x="1151" y="403" width="1" height="13"/><rect x="1149.5" y="403.5" width="4" height="12" fill="#ff0000" stroke="#000"/><rect x="1157" y="376" width="1" height="27"/><rect x="1155.5" y="376.5" width="4" height="26" fill="#98fb98" stroke="#000"/><rect x="1188" y="389" width="1" height="27"/><rect x="1186.5" y="389.5" width="4" height="13" fill="#ff0000" stroke="#000"/><rect x="1192" y="389" width="1" height="15"/><rect x="1190" y="403" width="5" height="1"/><rect x="1198" y="376" width="1" height="40"/><rect x="1196.5" y="389.5" width="4" height="13" fill="#98fb98" stroke="#000"/><rect x="1203" y="389" width="1" height="66"/><rect x="1201.5" y="389.5" width="4" height="39" fill="#ff0000" stroke="#000"/><rect x="1208" y="350" width="1" height="92"/><rect x="1206.5" y="363.5" width="4" height="65" fill="#98fb98" stroke="#000"/><rect x="1213" y="363" width="1" height="40"/><rect x="1211.5" y="363.5" width="4" height="39" fill="#ff0000" stroke="#000"/><rect x="1162" y="350" width="1" height="39"/><rect x="1160.5" y="363.5" width="4" height="25" fill="#98fb98" stroke="#000"/><rect x="1166" y="324" width="1" height="27"/><rect x="1164" y="350" width="5" height="1"/><rect x="1171" y="338" width="1" height="39"/><rect x="1169.5" y="350.5" width="4" height="12" fill="#ff0000" stroke="#000"/><rect x="1176" y="338" width="1" height="25"/><rect x="1174.5" y="350.5" width="4" height="12" fill="#ff0000" stroke="#000"/><rect x="1182" y="363" width="1" height="26"/><rect x="1180.5" y="363.5" width="4" height="25" fill="#ff0000" stroke="#000"/><path d="M1220 402.4l7.2 -7.2h34.89v14.4h-34.89z" fill="#000" shape-rendering="auto"/><text x="1228.7" y="406.1" style="fill:#fff">158'10</text><text x="969.7" y="476">© 2015 NinjaTrader, LLC</text><rect x="1017" y="479" width="1" height="5"/><text x="1003.2" y="495.3">18:00</text><rect x="1140" y="479" width="1" height="5"/><text x="1127" y="495.3">20:00</text></svg><div class="sb" style="left:967px;top:507px;width:310px;height:24px"><div class="sbb" style="left:0;height:24px"><i style="left:0px;border-right-color:#000;border-left-width:0;left:4px"></i></div><div class="sbb" style="left:294px;height:24px"><i style="left:6px;border-left-color:#000;border-right-width:0"></i></div><div class="sbb" style="left:284px;width:9px;height:24px"></div></div><div class="a" style="left:1283px;top:0px;width:320px;height:538px;background:#000;border-radius:9px 9px 5px 5px;box-shadow:inset 1px 0 0 rgba(255,255,255,.13),inset -1px 0 0 rgba(255,255,255,.13),inset 0 -1px 0 rgba(255,255,255,.13)"></div><div class="a" style="left:1287px;top:26px;width:312px;height:508px;border:1px solid rgba(255,255,255,.14);box-sizing:border-box"></div><div class="fr" style="left:1283px;top:1px;width:320px;height:27px;background:linear-gradient(#454545,#3b3b3b 14px,#000000 15px,#000000 26px);box-shadow:inset 0 1px 0 rgba(255,255,255,.22),inset 1px 0 0 rgba(255,255,255,.12),inset -1px 0 0 rgba(255,255,255,.12)"></div><svg class="a" style="left:1293px;top:5px" width="19" height="19" viewBox="0 0 19 19"><path d="M1 1L18 0.5V18L1 18.5Z" fill="#e8e8fa" stroke="#b8b8e0" stroke-width=".8"/><path d="M5 1V18M9.5 1V18M14 1V18M1 5H18M1 9.5H18M1 14H18" stroke="#cfcfee" stroke-width=".6"/><path d="M2 15C5 14 6 12 7.5 9C8.5 6 9.5 4.5 10.5 5.5C11.5 7.5 12.5 8.5 14 8.2L17 8" fill="none" stroke="#2c7fe0" stroke-width="1.7" stroke-linecap="round"/><path d="M2 7.5C4 6.5 5.5 5 7 4.8C8.5 5 9.5 8 11 8C13 7.5 15 4.5 17 2.5" fill="none" stroke="#3cb81e" stroke-width="1.7" stroke-linecap="round"/></svg><svg class="a" style="left:1314px;top:6px" width="17" height="17" viewBox="0 0 17 17"><circle cx="8.5" cy="8.5" r="7.3" fill="none" stroke="#9a9a9a" stroke-width="1.5"/><path d="M8.5 4.5V12.5M4.5 8.5H12.5" stroke="#a9a9a9" stroke-width="2"/></svg><div class="tt" style="left:1338px;top:1px;">HG 09-15 (60 M...</div><div class="a" style="left:1527px;top:11px;width:14px;height:14px;background:#a6a6a6;border:1px solid #bdbdbd;box-sizing:border-box;font:11px/12px 'Liberation Sans',sans-serif;color:#000;text-align:center">L</div><svg class="a" style="left:1540px;top:6px" width="17" height="17" viewBox="0 0 17 17"><circle cx="8.5" cy="8.5" r="7.3" fill="none" stroke="#9a9a9a" stroke-width="1.5"/><path d="M4 7.5H13" stroke="#a9a9a9" stroke-width="2.4"/></svg><svg class="a" style="left:1560px;top:6px" width="17" height="17" viewBox="0 0 17 17"><circle cx="8.5" cy="8.5" r="7.3" fill="none" stroke="#9a9a9a" stroke-width="1.5"/><path d="M4.8 10L8.5 6.2L12.2 10" stroke="#a9a9a9" stroke-width="2.2" fill="none"/></svg><svg class="a" style="left:1580px;top:6px" width="17" height="17" viewBox="0 0 17 17"><circle cx="8.5" cy="8.5" r="7.3" fill="none" stroke="#9a9a9a" stroke-width="1.5"/><path d="M5.6 5.6L11.4 11.4M11.4 5.6L5.6 11.4" stroke="#a9a9a9" stroke-width="2.6"/></svg><div class="a" style="left:1289px;top:28px;width:308px;height:25px;background:#808000"></div><div class="tool" style="left:1289px;top:28px;width:308px"><span style="left:19px">HG 09-15</span><span style="left:85.3px">60 Min</span><svg style="left:0;top:0" width="308" height="25" viewBox="0 0 308 25"><path d="M10.5 5.5V19.5" stroke="#9a9a9a"/><path d="M11.5 5.5V19.5" stroke="#fff"/><path d="M69.5 11h6l-3 3.2z" fill="#000"/><path d="M124.5 11h6l-3 3.2z" fill="#000"/><path d="M137.5 5.5V19.5" stroke="#9a9a9a" stroke-width="1"/><path d="M138.5 5.5V19.5" stroke="#fff" stroke-width="1"/><path d="M144.7 4V20" stroke="#222" stroke-width="1.4"/><rect x="143" y="7" width="3.4" height="10.5" rx="1" fill="#5fd42a" stroke="#2b7d0a" stroke-width=".6"/><path d="M150 4V20" stroke="#222" stroke-width="1.4"/><rect x="148.3" y="7" width="3.4" height="10.5" rx="1" fill="#5fd42a" stroke="#2b7d0a" stroke-width=".6"/><path d="M155.2 4V20" stroke="#222" stroke-width="1.4"/><rect x="153.5" y="7" width="3.4" height="10.5" rx="1" fill="#e8352a" stroke="#8a1208" stroke-width=".6"/><path d="M160 11h6l-3 3.2z" fill="#000"/><g transform="translate(172,0)"><path d="M1 20.2L2.2 16.2L11.2 6.2L14 8.7L5 18.8Z" fill="#f7d52a" stroke="#8a6d10" stroke-width=".7"/><path d="M11.2 6.2L12.6 4.7L15.3 7.2L14 8.7Z" fill="#e8606a" stroke="#9a3038" stroke-width=".6"/><path d="M1 20.2L2.2 16.2L5 18.8Z" fill="#e8c9a0" stroke="#6a5030" stroke-width=".5"/><path d="M1 20.2L1.6 18.4L2.8 19.5Z" fill="#222"/></g><path d="M189 11h6l-3 3.2z" fill="#000"/><g transform="translate(200,0)"><path d="M1.4 20L4.6 16.2" stroke="#3a3a3a" stroke-width="2.4" stroke-linecap="round"/><path d="M4.6 16.2L5.8 14.8" stroke="#777" stroke-width="1.5"/><circle cx="7.7" cy="12.2" r="3.2" fill="#a9d2f2" stroke="#9aa0a8" stroke-width="1.4"/><circle cx="7.1" cy="11.6" r="1.4" fill="#dceefc"/><path d="M14.2 5.2V11.6M11 8.4H17.4" stroke="#10a818" stroke-width="2"/></g><g transform="translate(223,0)"><path d="M1.4 20L4.6 16.2" stroke="#a8a8a8" stroke-width="2.4" stroke-linecap="round"/><path d="M4.6 16.2L5.8 14.8" stroke="#bbb" stroke-width="1.5"/><circle cx="7.9" cy="12.6" r="3.2" fill="#d0d0d0" stroke="#c2c2c2" stroke-width="1.4"/><circle cx="7.3" cy="12" r="1.4" fill="#dedede"/><path d="M11.5 8H16.8" stroke="#b4b4b4" stroke-width="1.7"/></g><path d="M247.5 5.5V19.5" stroke="#9a9a9a" stroke-width="1"/><path d="M248.5 5.5V19.5" stroke="#fff" stroke-width="1"/><g transform="translate(253,0)"><path d="M1 5.5L1.8 14.8L4.6 12.2L9.5 19.5L11.8 18L7 10.8L10.6 10Z" fill="#fff" stroke="#222" stroke-width=".9" stroke-linejoin="round"/></g><path d="M270 11h6l-3 3.2z" fill="#000"/><defs><linearGradient id="og" x1="0" y1="0" x2="0" y2="1"><stop offset="0" stop-color="#eceae6"/><stop offset=".5" stop-color="#d9d7d1"/><stop offset="1" stop-color="#7e7e7c"/></linearGradient></defs><path d="M297 0h8a3 3 0 0 1 3 3v19a3 3 0 0 1 -3 3h-8z" fill="url(#og)"/><path d="M300 16.5h5" stroke="#000" stroke-width="1.2"/><path d="M299 18.5h6l-3 3.2z" fill="#000"/><path d="M302.5 22.2l3-3.2" stroke="#fff" stroke-width=".8"/></svg></div><svg style="left:1289px;top:53px;background:#808000" width="308" height="454" viewBox="1289 53 308 454" shape-rendering="crispEdges"><rect x="1299" y="61" width="1" height="417" fill="#dedecf"/><rect x="1409" y="61" width="1" height="417" fill="#dedecf"/><rect x="1519" y="61" width="1" height="417" fill="#dedecf"/><rect x="1544" y="58" width="1" height="421"/><rect x="1289" y="204" width="308" height="1"/><rect x="1289" y="355" width="308" height="1"/><rect x="1291" y="478" width="254" height="1"/><text x="1291" y="69">HG 09-15 (60 Min)</text><text x="1291" y="225">GC 12-15 (60 Min)</text><text x="1291" y="376">CL 09-15 (60 Min)</text><rect x="1293" y="94" width="1" height="8"/><rect x="1292.5" y="94.5" width="4" height="7" fill="#ff0000" stroke="#000"/><rect x="1297" y="101" width="1" height="3"/><rect x="1296.5" y="101.5" width="4" height="2" fill="#ff0000" stroke="#000"/><rect x="1299" y="102" width="1" height="2"/><rect x="1298" y="102" width="5" height="2"/><rect x="1303" y="98" width="1" height="2"/><rect x="1302" y="98" width="5" height="2"/><rect x="1307" y="96" width="5" height="2"/><rect x="1312" y="96" width="1" height="2"/><rect x="1311" y="96" width="5" height="2"/><rect x="1317" y="67" width="1" height="41"/><rect x="1316.5" y="97.5" width="4" height="7" fill="#ff0000" stroke="#000"/><rect x="1322" y="97" width="1" height="11"/><rect x="1321.5" y="105.5" width="4" height="2" fill="#ff0000" stroke="#000"/><rect x="1327" y="103" width="1" height="9"/><rect x="1326.5" y="107.5" width="4" height="2" fill="#ff0000" stroke="#000"/><rect x="1331" y="110" width="1" height="3"/><rect x="1330.5" y="110.5" width="4" height="2" fill="#ff0000" stroke="#000"/><rect x="1336" y="108" width="1" height="17"/><rect x="1335.5" y="113.5" width="4" height="11" fill="#ff0000" stroke="#000"/><rect x="1341" y="118" width="1" height="12"/><rect x="1340.5" y="122.5" width="4" height="2" fill="#98fb98" stroke="#000"/><rect x="1346" y="102" width="1" height="26"/><rect x="1345.5" y="103.5" width="4" height="17" fill="#98fb98" stroke="#000"/><rect x="1350" y="103" width="1" height="19"/><rect x="1349.5" y="103.5" width="4" height="18" fill="#ff0000" stroke="#000"/><rect x="1355" y="122" width="1" height="21"/><rect x="1354.5" y="122.5" width="4" height="17" fill="#ff0000" stroke="#000"/><rect x="1360" y="140" width="1" height="10"/><rect x="1359.5" y="140.5" width="4" height="2" fill="#ff0000" stroke="#000"/><rect x="1365" y="142" width="1" height="11"/><rect x="1364.5" y="142.5" width="4" height="2" fill="#ff0000" stroke="#000"/><rect x="1369" y="145" width="1" height="5"/><rect x="1368.5" y="145.5" width="4" height="2" fill="#ff0000" stroke="#000"/><rect x="1374" y="148" width="1" height="24"/><rect x="1373.5" y="149.5" width="4" height="5" fill="#ff0000" stroke="#000"/><rect x="1379" y="156" width="1" height="3"/><rect x="1378.5" y="156.5" width="4" height="2" fill="#ff0000" stroke="#000"/><rect x="1384" y="151" width="1" height="15"/><rect x="1383.5" y="160.5" width="4" height="2" fill="#ff0000" stroke="#000"/><rect x="1388" y="154" width="1" height="9"/><rect x="1387.5" y="154.5" width="4" height="8" fill="#98fb98" stroke="#000"/><rect x="1392" y="152" width="1" height="6"/><rect x="1391" y="154" width="5" height="2"/><rect x="1398" y="150" width="1" height="7"/><rect x="1397.5" y="151.5" width="4" height="2" fill="#98fb98" stroke="#000"/><rect x="1403" y="148" width="1" height="3"/><rect x="1402.5" y="148.5" width="4" height="2" fill="#98fb98" stroke="#000"/><rect x="1407" y="139" width="1" height="8"/><rect x="1406" y="145" width="5" height="2"/><rect x="1409" y="145" width="1" height="3"/><rect x="1408.5" y="145.5" width="4" height="2" fill="#ff0000" stroke="#000"/><rect x="1413" y="148" width="1" height="5"/><rect x="1412" y="149" width="5" height="2"/><rect x="1416" y="147" width="5" height="2"/><rect x="1421" y="145" width="1" height="5"/><rect x="1420" y="147" width="5" height="2"/><rect x="1427" y="143" width="1" height="47"/><rect x="1426.5" y="150.5" width="4" height="27" fill="#ff0000" stroke="#000"/><rect x="1432" y="178" width="1" height="9"/><rect x="1431.5" y="178.5" width="4" height="2" fill="#ff0000" stroke="#000"/><rect x="1437" y="180" width="1" height="6"/><rect x="1436.5" y="180.5" width="4" height="2" fill="#ff0000" stroke="#000"/><rect x="1441" y="182" width="1" height="9"/><rect x="1440.5" y="182.5" width="4" height="5" fill="#ff0000" stroke="#000"/><rect x="1445" y="182" width="1" height="9"/><rect x="1444" y="187" width="5" height="2"/><rect x="1451" y="172" width="1" height="19"/><rect x="1450.5" y="175.5" width="4" height="12" fill="#98fb98" stroke="#000"/><rect x="1456" y="160" width="1" height="22"/><rect x="1455.5" y="163.5" width="4" height="10" fill="#98fb98" stroke="#000"/><rect x="1459" y="147" width="1" height="16"/><rect x="1458" y="162" width="5" height="2"/><rect x="1465" y="156" width="1" height="15"/><rect x="1464.5" y="163.5" width="4" height="2" fill="#ff0000" stroke="#000"/><rect x="1470" y="154" width="1" height="11"/><rect x="1469.5" y="154.5" width="4" height="10" fill="#98fb98" stroke="#000"/><rect x="1475" y="153" width="1" height="14"/><rect x="1474.5" y="154.5" width="4" height="2" fill="#ff0000" stroke="#000"/><rect x="1479" y="138" width="1" height="20"/><rect x="1478.5" y="149.5" width="4" height="7" fill="#98fb98" stroke="#000"/><rect x="1484" y="136" width="1" height="13"/><rect x="1483.5" y="140.5" width="4" height="7" fill="#98fb98" stroke="#000"/><rect x="1488" y="131" width="1" height="12"/><rect x="1487" y="139" width="5" height="2"/><rect x="1494" y="136" width="1" height="3"/><rect x="1493.5" y="136.5" width="4" height="2" fill="#98fb98" stroke="#000"/><rect x="1498" y="130" width="1" height="9"/><rect x="1497.5" y="136.5" width="4" height="2" fill="#ff0000" stroke="#000"/><rect x="1503" y="137" width="1" height="4"/><rect x="1502.5" y="137.5" width="4" height="2" fill="#98fb98" stroke="#000"/><rect x="1507" y="135" width="1" height="8"/><rect x="1506" y="137" width="5" height="2"/><rect x="1512" y="138" width="1" height="2"/><rect x="1511" y="137" width="5" height="2"/><rect x="1518" y="138" width="1" height="4"/><rect x="1517" y="137" width="5" height="2"/><rect x="1524" y="137" width="1" height="3"/><rect x="1523.5" y="137.5" width="4" height="2" fill="#98fb98" stroke="#000"/><rect x="1529" y="135" width="1" height="2"/><rect x="1528" y="135" width="5" height="2"/><path d="M1545 91.5h5" stroke="#000"/><text x="1552" y="94.7">2.4000</text><path d="M1545 183.5h5" stroke="#000"/><text x="1552" y="186.7">2.3000</text><path d="M1545 134.4l7.2 -7.2h35.82v14.4h-35.82z" fill="#000" shape-rendering="auto"/><text x="1553.7" y="138.1" style="fill:#fff">2.3530</text><rect x="1292" y="303" width="1" height="9"/><rect x="1291" y="304" width="5" height="2"/><rect x="1297" y="301" width="1" height="7"/><rect x="1296.5" y="301.5" width="4" height="3" fill="#98fb98" stroke="#000"/><rect x="1301" y="301" width="5" height="2"/><rect x="1308" y="294" width="1" height="8"/><rect x="1307.5" y="297.5" width="4" height="4" fill="#98fb98" stroke="#000"/><rect x="1312" y="293" width="1" height="4"/><rect x="1311" y="296" width="5" height="2"/><rect x="1317" y="290" width="1" height="52"/><rect x="1316.5" y="298.5" width="4" height="35" fill="#ff0000" stroke="#000"/><rect x="1322" y="299" width="1" height="35"/><rect x="1321.5" y="327.5" width="4" height="5" fill="#98fb98" stroke="#000"/><rect x="1327" y="305" width="1" height="25"/><rect x="1326.5" y="314.5" width="4" height="11" fill="#98fb98" stroke="#000"/><rect x="1331" y="314" width="1" height="3"/><rect x="1330.5" y="314.5" width="4" height="2" fill="#ff0000" stroke="#000"/><rect x="1336" y="311" width="1" height="12"/><rect x="1335.5" y="314.5" width="4" height="2" fill="#98fb98" stroke="#000"/><rect x="1341" y="309" width="1" height="19"/><rect x="1340.5" y="315.5" width="4" height="7" fill="#ff0000" stroke="#000"/><rect x="1346" y="243" width="1" height="83"/><rect x="1345.5" y="258.5" width="4" height="64" fill="#98fb98" stroke="#000"/><rect x="1350" y="260" width="1" height="12"/><rect x="1349.5" y="260.5" width="4" height="8" fill="#ff0000" stroke="#000"/><rect x="1354" y="264" width="1" height="8"/><rect x="1353" y="268" width="5" height="2"/><rect x="1360" y="263" width="1" height="29"/><rect x="1359.5" y="269.5" width="4" height="2" fill="#ff0000" stroke="#000"/><rect x="1365" y="271" width="1" height="15"/><rect x="1364.5" y="273.5" width="4" height="9" fill="#ff0000" stroke="#000"/><rect x="1369" y="284" width="1" height="11"/><rect x="1368.5" y="284.5" width="4" height="2" fill="#ff0000" stroke="#000"/><rect x="1373" y="271" width="1" height="29"/><rect x="1372" y="284" width="5" height="2"/><rect x="1379" y="285" width="1" height="20"/><rect x="1378.5" y="285.5" width="4" height="5" fill="#ff0000" stroke="#000"/><rect x="1384" y="277" width="1" height="16"/><rect x="1383.5" y="285.5" width="4" height="5" fill="#98fb98" stroke="#000"/><rect x="1388" y="283" width="1" height="3"/><rect x="1387.5" y="283.5" width="4" height="2" fill="#98fb98" stroke="#000"/><rect x="1393" y="280" width="1" height="8"/><rect x="1392.5" y="283.5" width="4" height="2" fill="#ff0000" stroke="#000"/><rect x="1397" y="280" width="1" height="7"/><rect x="1396" y="284" width="5" height="2"/><rect x="1402" y="284" width="1" height="3"/><rect x="1401" y="284" width="5" height="2"/><rect x="1407" y="284" width="1" height="2"/><rect x="1406" y="284" width="5" height="2"/><rect x="1412" y="284" width="1" height="3"/><rect x="1411" y="284" width="5" height="2"/><rect x="1417" y="285" width="1" height="2"/><rect x="1416" y="285" width="5" height="2"/><rect x="1422" y="277" width="1" height="10"/><rect x="1421.5" y="284.5" width="4" height="2" fill="#98fb98" stroke="#000"/><rect x="1427" y="268" width="1" height="45"/><rect x="1426.5" y="272.5" width="4" height="11" fill="#98fb98" stroke="#000"/><rect x="1432" y="272" width="1" height="5"/><rect x="1431.5" y="272.5" width="4" height="4" fill="#ff0000" stroke="#000"/><rect x="1437" y="276" width="1" height="5"/><rect x="1436.5" y="276.5" width="4" height="2" fill="#ff0000" stroke="#000"/><rect x="1440" y="277" width="1" height="5"/><rect x="1439" y="277" width="5" height="2"/><rect x="1446" y="265" width="1" height="18"/><rect x="1445.5" y="272.5" width="4" height="7" fill="#98fb98" stroke="#000"/><rect x="1451" y="253" width="1" height="19"/><rect x="1450.5" y="262.5" width="4" height="9" fill="#98fb98" stroke="#000"/><rect x="1456" y="242" width="1" height="21"/><rect x="1455.5" y="257.5" width="4" height="4" fill="#98fb98" stroke="#000"/><rect x="1459" y="244" width="1" height="13"/><rect x="1458" y="255" width="5" height="2"/><rect x="1464" y="248" width="1" height="8"/><rect x="1463" y="255" width="5" height="2"/><rect x="1470" y="245" width="1" height="11"/><rect x="1469.5" y="251.5" width="4" height="3" fill="#98fb98" stroke="#000"/><rect x="1475" y="250" width="1" height="12"/><rect x="1474.5" y="250.5" width="4" height="2" fill="#ff0000" stroke="#000"/><rect x="1479" y="235" width="1" height="19"/><rect x="1478.5" y="250.5" width="4" height="2" fill="#98fb98" stroke="#000"/><rect x="1484" y="240" width="1" height="22"/><rect x="1483.5" y="246.5" width="4" height="3" fill="#98fb98" stroke="#000"/><rect x="1489" y="226" width="1" height="24"/><rect x="1488.5" y="235.5" width="4" height="9" fill="#98fb98" stroke="#000"/><rect x="1494" y="220" width="1" height="15"/><rect x="1493.5" y="224.5" width="4" height="9" fill="#98fb98" stroke="#000"/><rect x="1498" y="224" width="1" height="3"/><rect x="1497.5" y="224.5" width="4" height="2" fill="#ff0000" stroke="#000"/><rect x="1502" y="227" width="1" height="3"/><rect x="1501" y="227" width="5" height="2"/><rect x="1508" y="222" width="1" height="6"/><rect x="1507.5" y="225.5" width="4" height="2" fill="#98fb98" stroke="#000"/><rect x="1512" y="225" width="1" height="7"/><rect x="1511" y="225" width="5" height="2"/><rect x="1519" y="222" width="1" height="4"/><rect x="1518.5" y="222.5" width="4" height="3" fill="#98fb98" stroke="#000"/><rect x="1524" y="221" width="1" height="4"/><rect x="1523.5" y="221.5" width="4" height="3" fill="#ff0000" stroke="#000"/><rect x="1528" y="225" width="5" height="2"/><rect x="1532" y="224" width="1" height="6"/><rect x="1531" y="225" width="5" height="2"/><rect x="1538" y="216" width="1" height="12"/><rect x="1537.5" y="224.5" width="4" height="2" fill="#98fb98" stroke="#000"/><path d="M1545 240.5h5" stroke="#000"/><text x="1552" y="243.7">1120.0</text><path d="M1545 278.3h5" stroke="#000"/><text x="1552" y="281.5">1110.0</text><path d="M1545 316.3h5" stroke="#000"/><text x="1552" y="319.5">1100.0</text><path d="M1545 222.4l7.2 -7.2h35.82v14.4h-35.82z" fill="#000" shape-rendering="auto"/><text x="1553.7" y="226.1" style="fill:#fff">1124.3</text><rect x="1293" y="386" width="1" height="3"/><rect x="1292.5" y="386.5" width="4" height="2" fill="#ff0000" stroke="#000"/><rect x="1298" y="386" width="1" height="3"/><rect x="1297" y="387" width="5" height="2"/><rect x="1302" y="385" width="1" height="4"/><rect x="1301" y="387" width="5" height="2"/><rect x="1307" y="387" width="1" height="3"/><rect x="1306" y="387" width="5" height="2"/><rect x="1311" y="388" width="1" height="3"/><rect x="1310" y="388" width="5" height="2"/><rect x="1317" y="386" width="1" height="11"/><rect x="1316.5" y="389.5" width="4" height="7" fill="#ff0000" stroke="#000"/><rect x="1322" y="394" width="1" height="6"/><rect x="1321" y="396" width="5" height="2"/><rect x="1327" y="391" width="1" height="7"/><rect x="1326.5" y="391.5" width="4" height="6" fill="#98fb98" stroke="#000"/><rect x="1331" y="390" width="1" height="3"/><rect x="1330.5" y="390.5" width="4" height="2" fill="#ff0000" stroke="#000"/><rect x="1336" y="391" width="1" height="5"/><rect x="1335.5" y="391.5" width="4" height="2" fill="#ff0000" stroke="#000"/><rect x="1341" y="394" width="1" height="8"/><rect x="1340.5" y="395.5" width="4" height="3" fill="#ff0000" stroke="#000"/><rect x="1346" y="394" width="1" height="7"/><rect x="1345.5" y="395.5" width="4" height="4" fill="#98fb98" stroke="#000"/><rect x="1350" y="365" width="1" height="30"/><rect x="1349.5" y="389.5" width="4" height="4" fill="#98fb98" stroke="#000"/><rect x="1355" y="386" width="1" height="19"/><rect x="1354.5" y="389.5" width="4" height="14" fill="#ff0000" stroke="#000"/><rect x="1360" y="404" width="1" height="9"/><rect x="1359.5" y="405.5" width="4" height="3" fill="#ff0000" stroke="#000"/><rect x="1365" y="407" width="1" height="11"/><rect x="1364.5" y="410.5" width="4" height="7" fill="#ff0000" stroke="#000"/><rect x="1369" y="417" width="1" height="16"/><rect x="1368.5" y="418.5" width="4" height="10" fill="#ff0000" stroke="#000"/><rect x="1374" y="428" width="1" height="22"/><rect x="1373.5" y="430.5" width="4" height="17" fill="#ff0000" stroke="#000"/><rect x="1379" y="438" width="1" height="20"/><rect x="1378.5" y="449.5" width="4" height="5" fill="#ff0000" stroke="#000"/><rect x="1384" y="447" width="1" height="12"/><rect x="1383" y="454" width="5" height="2"/><rect x="1388" y="448" width="1" height="7"/><rect x="1387.5" y="450.5" width="4" height="3" fill="#98fb98" stroke="#000"/><rect x="1393" y="450" width="1" height="14"/><rect x="1392.5" y="450.5" width="4" height="13" fill="#ff0000" stroke="#000"/><rect x="1398" y="451" width="1" height="20"/><rect x="1397.5" y="452.5" width="4" height="11" fill="#98fb98" stroke="#000"/><rect x="1403" y="441" width="1" height="10"/><rect x="1402.5" y="441.5" width="4" height="9" fill="#98fb98" stroke="#000"/><rect x="1407" y="440" width="1" height="23"/><rect x="1406.5" y="440.5" width="4" height="12" fill="#ff0000" stroke="#000"/><rect x="1409" y="449" width="1" height="4"/><rect x="1408.5" y="449.5" width="4" height="3" fill="#98fb98" stroke="#000"/><rect x="1418" y="440" width="1" height="8"/><rect x="1417.5" y="440.5" width="4" height="7" fill="#98fb98" stroke="#000"/><rect x="1421" y="430" width="1" height="11"/><rect x="1420" y="439" width="5" height="2"/><rect x="1427" y="440" width="1" height="17"/><rect x="1426.5" y="440.5" width="4" height="16" fill="#ff0000" stroke="#000"/><rect x="1431" y="453" width="1" height="10"/><rect x="1430" y="457" width="5" height="2"/><rect x="1437" y="458" width="1" height="5"/><rect x="1436.5" y="458.5" width="4" height="4" fill="#ff0000" stroke="#000"/><rect x="1440" y="462" width="1" height="4"/><rect x="1439" y="462" width="5" height="2"/><rect x="1446" y="455" width="1" height="10"/><rect x="1445.5" y="460.5" width="4" height="2" fill="#98fb98" stroke="#000"/><rect x="1451" y="453" width="1" height="11"/><rect x="1450.5" y="460.5" width="4" height="2" fill="#ff0000" stroke="#000"/><rect x="1456" y="443" width="1" height="23"/><rect x="1455.5" y="448.5" width="4" height="14" fill="#98fb98" stroke="#000"/><rect x="1460" y="438" width="1" height="10"/><rect x="1459.5" y="445.5" width="4" height="2" fill="#98fb98" stroke="#000"/><rect x="1465" y="430" width="1" height="16"/><rect x="1464.5" y="436.5" width="4" height="8" fill="#98fb98" stroke="#000"/><rect x="1470" y="424" width="1" height="12"/><rect x="1469.5" y="430.5" width="4" height="4" fill="#98fb98" stroke="#000"/><rect x="1475" y="430" width="1" height="22"/><rect x="1474.5" y="430.5" width="4" height="15" fill="#ff0000" stroke="#000"/><rect x="1479" y="428" width="1" height="20"/><rect x="1478.5" y="437.5" width="4" height="8" fill="#98fb98" stroke="#000"/><rect x="1484" y="426" width="1" height="11"/><rect x="1483.5" y="430.5" width="4" height="5" fill="#98fb98" stroke="#000"/><rect x="1489" y="430" width="1" height="27"/><rect x="1488.5" y="430.5" width="4" height="6" fill="#ff0000" stroke="#000"/><rect x="1494" y="434" width="1" height="28"/><rect x="1493.5" y="438.5" width="4" height="13" fill="#ff0000" stroke="#000"/><rect x="1498" y="451" width="1" height="10"/><rect x="1497.5" y="451.5" width="4" height="2" fill="#98fb98" stroke="#000"/><rect x="1503" y="443" width="1" height="12"/><rect x="1502.5" y="448.5" width="4" height="2" fill="#98fb98" stroke="#000"/><rect x="1508" y="434" width="1" height="16"/><rect x="1507.5" y="446.5" width="4" height="2" fill="#98fb98" stroke="#000"/><rect x="1513" y="443" width="1" height="7"/><rect x="1512.5" y="444.5" width="4" height="2" fill="#98fb98" stroke="#000"/><rect x="1519" y="438" width="1" height="9"/><rect x="1518.5" y="443.5" width="4" height="2" fill="#ff0000" stroke="#000"/><rect x="1524" y="444" width="1" height="3"/><rect x="1523.5" y="444.5" width="4" height="2" fill="#98fb98" stroke="#000"/><rect x="1529" y="440" width="1" height="3"/><rect x="1528" y="441" width="5" height="2"/><rect x="1533" y="441" width="1" height="9"/><rect x="1532.5" y="441.5" width="4" height="6" fill="#ff0000" stroke="#000"/><rect x="1538" y="446" width="1" height="3"/><rect x="1537.5" y="446.5" width="4" height="2" fill="#98fb98" stroke="#000"/><path d="M1545 379.7h5" stroke="#000"/><text x="1552" y="382.9">45.00</text><path d="M1545 419.3h5" stroke="#000"/><text x="1552" y="422.5">44.00</text><path d="M1545 458.8h5" stroke="#000"/><text x="1552" y="462">43.00</text><path d="M1545 445.9l7.2 -7.2h29.89v14.4h-29.89z" fill="#000" shape-rendering="auto"/><text x="1553.7" y="449.6" style="fill:#fff">43.30</text><text x="1291" y="476">© 2015 NinjaTrader, LLC</text><rect x="1328" y="479" width="1" height="5"/><text x="1317.5" y="495.3">8/11</text><rect x="1438" y="479" width="1" height="5"/><text x="1427.5" y="495.3">8/12</text></svg><div class="sb" style="left:1289px;top:507px;width:308px;height:24px"><div class="sbb" style="left:0;height:24px"><i style="left:0px;border-right-color:#000;border-left-width:0;left:4px"></i></div><div class="sbb" style="left:292px;height:24px"><i style="left:6px;border-left-color:#000;border-right-width:0"></i></div><div class="sbb" style="left:144px;width:147px;height:24px"></div></div><div class="a" style="left:-6px;top:539px;width:319px;height:551px;background:#1a061a;border-radius:9px 9px 5px 5px;box-shadow:inset 1px 0 0 rgba(255,255,255,.13),inset -1px 0 0 rgba(255,255,255,.13),inset 0 -1px 0 rgba(255,255,255,.13)"></div><div class="a" style="left:-2px;top:565px;width:311px;height:521px;border:1px solid rgba(255,255,255,.14);box-sizing:border-box"></div><div class="fr" style="left:-6px;top:540px;width:319px;height:27px;background:linear-gradient(#564356,#4e3a4e 14px,#1a061a 15px,#1a061a 26px);box-shadow:inset 0 1px 0 rgba(255,255,255,.22),inset 1px 0 0 rgba(255,255,255,.12),inset -1px 0 0 rgba(255,255,255,.12)"></div><svg class="a" style="left:4px;top:544px" width="19" height="19" viewBox="0 0 19 19"><path d="M1 1L18 0.5V18L1 18.5Z" fill="#e8e8fa" stroke="#b8b8e0" stroke-width=".8"/><path d="M5 1V18M9.5 1V18M14 1V18M1 5H18M1 9.5H18M1 14H18" stroke="#cfcfee" stroke-width=".6"/><path d="M2 15C5 14 6 12 7.5 9C8.5 6 9.5 4.5 10.5 5.5C11.5 7.5 12.5 8.5 14 8.2L17 8" fill="none" stroke="#2c7fe0" stroke-width="1.7" stroke-linecap="round"/><path d="M2 7.5C4 6.5 5.5 5 7 4.8C8.5 5 9.5 8 11 8C13 7.5 15 4.5 17 2.5" fill="none" stroke="#3cb81e" stroke-width="1.7" stroke-linecap="round"/></svg><svg class="a" style="left:25px;top:545px" width="17" height="17" viewBox="0 0 17 17"><circle cx="8.5" cy="8.5" r="7.3" fill="none" stroke="#9a9a9a" stroke-width="1.5"/><path d="M8.5 4.5V12.5M4.5 8.5H12.5" stroke="#a9a9a9" stroke-width="2"/></svg><div class="tt" style="left:49px;top:540px;">ES NQ Price Ch...</div><div class="a" style="left:237px;top:550px;width:14px;height:14px;background:#a6a6a6;border:1px solid #bdbdbd;box-sizing:border-box;font:11px/12px 'Liberation Sans',sans-serif;color:#000;text-align:center">L</div><svg class="a" style="left:250px;top:545px" width="17" height="17" viewBox="0 0 17 17"><circle cx="8.5" cy="8.5" r="7.3" fill="none" stroke="#9a9a9a" stroke-width="1.5"/><path d="M4 7.5H13" stroke="#a9a9a9" stroke-width="2.4"/></svg><svg class="a" style="left:270px;top:545px" width="17" height="17" viewBox="0 0 17 17"><circle cx="8.5" cy="8.5" r="7.3" fill="none" stroke="#9a9a9a" stroke-width="1.5"/><path d="M4.8 10L8.5 6.2L12.2 10" stroke="#a9a9a9" stroke-width="2.2" fill="none"/></svg><svg class="a" style="left:290px;top:545px" width="17" height="17" viewBox="0 0 17 17"><circle cx="8.5" cy="8.5" r="7.3" fill="none" stroke="#9a9a9a" stroke-width="1.5"/><path d="M5.6 5.6L11.4 11.4M11.4 5.6L5.6 11.4" stroke="#a9a9a9" stroke-width="2.6"/></svg><div class="a" style="left:0px;top:567px;width:307px;height:25px;background:#808000"></div><div class="tool" style="left:0px;top:567px;width:307px"><span style="left:19px">ES 09-15</span><span style="left:82px">5 Min</span><svg style="left:0;top:0" width="307" height="25" viewBox="0 0 307 25"><path d="M10.5 5.5V19.5" stroke="#9a9a9a"/><path d="M11.5 5.5V19.5" stroke="#fff"/><path d="M67 11h6l-3 3.2z" fill="#000"/><path d="M114 11h6l-3 3.2z" fill="#000"/><path d="M127.5 5.5V19.5" stroke="#9a9a9a" stroke-width="1"/><path d="M128.5 5.5V19.5" stroke="#fff" stroke-width="1"/><path d="M134.7 4V20" stroke="#222" stroke-width="1.4"/><rect x="133" y="7" width="3.4" height="10.5" rx="1" fill="#5fd42a" stroke="#2b7d0a" stroke-width=".6"/><path d="M140 4V20" stroke="#222" stroke-width="1.4"/><rect x="138.3" y="7" width="3.4" height="10.5" rx="1" fill="#5fd42a" stroke="#2b7d0a" stroke-width=".6"/><path d="M145.2 4V20" stroke="#222" stroke-width="1.4"/><rect x="143.5" y="7" width="3.4" height="10.5" rx="1" fill="#e8352a" stroke="#8a1208" stroke-width=".6"/><path d="M150 11h6l-3 3.2z" fill="#000"/><g transform="translate(162,0)"><path d="M1 20.2L2.2 16.2L11.2 6.2L14 8.7L5 18.8Z" fill="#f7d52a" stroke="#8a6d10" stroke-width=".7"/><path d="M11.2 6.2L12.6 4.7L15.3 7.2L14 8.7Z" fill="#e8606a" stroke="#9a3038" stroke-width=".6"/><path d="M1 20.2L2.2 16.2L5 18.8Z" fill="#e8c9a0" stroke="#6a5030" stroke-width=".5"/><path d="M1 20.2L1.6 18.4L2.8 19.5Z" fill="#222"/></g><path d="M179 11h6l-3 3.2z" fill="#000"/><g transform="translate(190,0)"><path d="M1.4 20L4.6 16.2" stroke="#3a3a3a" stroke-width="2.4" stroke-linecap="round"/><path d="M4.6 16.2L5.8 14.8" stroke="#777" stroke-width="1.5"/><circle cx="7.7" cy="12.2" r="3.2" fill="#a9d2f2" stroke="#9aa0a8" stroke-width="1.4"/><circle cx="7.1" cy="11.6" r="1.4" fill="#dceefc"/><path d="M14.2 5.2V11.6M11 8.4H17.4" stroke="#10a818" stroke-width="2"/></g><g transform="translate(213,0)"><path d="M1.4 20L4.6 16.2" stroke="#a8a8a8" stroke-width="2.4" stroke-linecap="round"/><path d="M4.6 16.2L5.8 14.8" stroke="#bbb" stroke-width="1.5"/><circle cx="7.9" cy="12.6" r="3.2" fill="#d0d0d0" stroke="#c2c2c2" stroke-width="1.4"/><circle cx="7.3" cy="12" r="1.4" fill="#dedede"/><path d="M11.5 8H16.8" stroke="#b4b4b4" stroke-width="1.7"/></g><path d="M237.5 5.5V19.5" stroke="#9a9a9a" stroke-width="1"/><path d="M238.5 5.5V19.5" stroke="#fff" stroke-width="1"/><g transform="translate(243,0)"><path d="M1 5.5L1.8 14.8L4.6 12.2L9.5 19.5L11.8 18L7 10.8L10.6 10Z" fill="#fff" stroke="#222" stroke-width=".9" stroke-linejoin="round"/></g><path d="M260 11h6l-3 3.2z" fill="#000"/><defs><linearGradient id="og" x1="0" y1="0" x2="0" y2="1"><stop offset="0" stop-color="#eceae6"/><stop offset=".5" stop-color="#d9d7d1"/><stop offset="1" stop-color="#7e7e7c"/></linearGradient></defs><path d="M296 0h8a3 3 0 0 1 3 3v19a3 3 0 0 1 -3 3h-8z" fill="url(#og)"/><path d="M299 16.5h5" stroke="#000" stroke-width="1.2"/><path d="M298 18.5h6l-3 3.2z" fill="#000"/><path d="M301.5 22.2l3-3.2" stroke="#fff" stroke-width=".8"/></svg></div><svg style="left:0px;top:592px;background:#808000" width="307" height="463" viewBox="0 592 307 463" shape-rendering="crispEdges"><rect x="247" y="597" width="1" height="435"/><rect x="0" y="750" width="307" height="1"/><rect x="0" y="898" width="307" height="1"/><rect x="0" y="1031" width="307" height="1"/><text x="2.5" y="608">ES Difference('ES 09-15'-2084.75,,,)</text><text x="2.5" y="628" style="fill:#ff0000;font-size:10.85px">This indicator is rather outdated, please check for newer version</text><text x="2.5" y="771">NQ Difference('NQ 09-15'-4533.25,,,)</text><text x="2.5" y="786" style="fill:#ff0000;font-size:10.85px">This indicator is rather outdated, please check for newer version</text><text x="2.5" y="919">Spread('NQ 09-15'-'ES 09-15',,,)</text><text x="2.5" y="934" style="fill:#ff0000;font-size:10.85px">This indicator is rather outdated, please check for newer version</text><polyline points="10.83,666.67 16.67,638.33 21.67,657.5 26.67,639.17 31.67,648.33 36.67,657.5 41.67,666.67 46.67,691.67 56.67,691.67 61.67,710 66.67,682.5 71.67,682.5 76.67,691.67 81.67,700.83 85.83,727 97.5,727 102,718 121.67,718 126.17,727 150.83,727 155.83,736 162.5,736 167.5,727 171.67,718 176.67,673.33 181.33,647.5 186.33,691.67 191.67,691.67 196.67,683.33 201.67,700.83 206.33,673.33 211.67,665.83 216.67,647.5 221.33,657.5 226.33,647.5 231.33,604.17 236.33,665.83 241.33,622.5" fill="none" stroke="#000" stroke-width="2.1" stroke-linejoin="miter" shape-rendering="auto"/><polyline points="10.83,840.83 15.83,818.67 21.67,818.67 26.17,814.17 31.67,820 36.67,825.83 41.67,833.33 46.67,844.17 51.33,826.67 56.33,850.83 61.33,859.17 66.33,842.5 71.33,840 76.67,848.33 81.67,855.83 86.33,877.5 91.33,883.67 99.17,883.67 104.17,878 111.33,865.83 120.83,865.83 126.17,869.67 130.83,866.33 135.83,858.33 141.67,864.67 145.83,865.83 150.83,864.67 155.5,868.67 160.5,868.67 166.67,875 171.67,851.67 176.33,823.33 181.33,816.33 186.33,845.83 191.33,850.83 196.67,840 201.67,857.5 206.33,837 211.67,830 216.33,818.67 221.33,814.17 226.33,803.33 231.33,757.5 236.33,814.17 241.33,778.33" fill="none" stroke="#000" stroke-width="2.1" stroke-linejoin="miter" shape-rendering="auto"/><polyline points="10.83,985.83 15.83,967.5 21.33,962 26.17,962 31.67,965.33 36.67,968.67 41.67,975 46.67,978.33 51.33,956.67 56.33,989.17 61.33,992.5 66.33,981.67 71.33,978 76.67,985 81.67,992.5 86.33,1005.83 91.33,1017.5 101.67,1017.5 111.33,998 128.33,998 131.67,995 136.67,985.33 141.67,992.5 146.33,995.83 150.83,992 155.5,994.67 160.83,995 166.67,1005.33 171.67,985 176.33,962 181.67,962 186.33,982.5 191.33,989.17 196.33,978.33 201.67,993.33 206.33,978 216.33,965.33 226.33,944.67 231.33,905 236.67,949.17 241.33,923.33" fill="none" stroke="#000" stroke-width="2.1" stroke-linejoin="miter" shape-rendering="auto"/><path d="M248 658h5" stroke="#000"/><text x="255" y="661.2">-1</text><path d="M248 692.5h5" stroke="#000"/><text x="255" y="695.7">-2</text><path d="M248 727.5h5" stroke="#000"/><text x="255" y="730.7">-3</text><path d="M248 767.2h5" stroke="#000"/><text x="255" y="770.4">5</text><path d="M248 819.5h5" stroke="#000"/><text x="255" y="822.7">0</text><path d="M248 872.2h5" stroke="#000"/><text x="255" y="875.4">-5</text><path d="M248 903h5" stroke="#000"/><text x="255" y="906.2">2454</text><path d="M248 955.5h5" stroke="#000"/><text x="255" y="958.7">2450</text><path d="M248 982.5h5" stroke="#000"/><text x="255" y="985.7">2448</text><path d="M248 1008.5h5" stroke="#000"/><text x="255" y="1011.7">2446</text><path d="M248 621.4l7.2 -7.2h23.96v14.4h-23.96z" fill="#000" shape-rendering="auto"/><text x="256.7" y="625.1" style="fill:#fff">0.00</text><path d="M248 776.4l7.2 -7.2h23.96v14.4h-23.96z" fill="#000" shape-rendering="auto"/><text x="256.7" y="780.1" style="fill:#fff">4.00</text><path d="M248 921.7l7.2 -7.2h41.75v14.4h-41.75z" fill="#000" shape-rendering="auto"/><text x="256.7" y="925.4" style="fill:#fff">2452.50</text><text x="2" y="1024">© 2015 NinjaTrader, LLC</text><path d="M10 1030.5H25M34 1030H50M60 1029.5H78M90 1027.5H105M110 1027.5H150M160 1027H175M180 1029.5H195M200 1030.5H215M220 1031.5H232" stroke="#000" stroke-width="1.2" stroke-dasharray="9 2"/><rect x="47" y="1029" width="3" height="2" fill="#ff0000"/><rect x="67" y="1029" width="3" height="2" fill="#98fb98"/><rect x="87" y="1029" width="3" height="2" fill="#ff0000"/><rect x="177" y="1029" width="3" height="2" fill="#98fb98"/><rect x="182" y="1029" width="3" height="2" fill="#98fb98"/><rect x="187" y="1029" width="3" height="2" fill="#ff0000"/><rect x="231" y="1032" width="3" height="2" fill="#98fb98"/><rect x="237" y="1032" width="3" height="2" fill="#ff0000"/><rect x="242" y="1032" width="3" height="2" fill="#98fb98"/><path d="M248 1031.9l7.2 -7.2h41.75v14.4h-41.75z" fill="#000" stroke="#fff" stroke-width="1" shape-rendering="auto"/><text x="256.7" y="1035.6" style="fill:#fff">2084.75</text><text x="68.2" y="1043">18:30</text><text x="188.5" y="1043">20:30</text></svg><div class="sb" style="left:0px;top:1055px;width:307px;height:25px"><div class="sbb" style="left:0;height:25px"><i style="left:0px;border-right-color:#000;border-left-width:0;left:4px"></i></div><div class="sbb" style="left:291px;height:25px"><i style="left:6px;border-left-color:#000;border-right-width:0"></i></div><div class="sbb" style="left:281px;width:10px;height:25px"></div></div><div class="a" style="left:315px;top:539px;width:320px;height:551px;background:#1a061a;border-radius:9px 9px 5px 5px;box-shadow:inset 1px 0 0 rgba(255,255,255,.13),inset -1px 0 0 rgba(255,255,255,.13),inset 0 -1px 0 rgba(255,255,255,.13)"></div><div class="a" style="left:319px;top:565px;width:312px;height:521px;border:1px solid rgba(255,255,255,.14);box-sizing:border-box"></div><div class="fr" style="left:315px;top:540px;width:320px;height:27px;background:linear-gradient(#564356,#4e3a4e 14px,#1a061a 15px,#1a061a 26px);box-shadow:inset 0 1px 0 rgba(255,255,255,.22),inset 1px 0 0 rgba(255,255,255,.12),inset -1px 0 0 rgba(255,255,255,.12)"></div><svg class="a" style="left:325px;top:544px" width="19" height="19" viewBox="0 0 19 19"><path d="M1 1L18 0.5V18L1 18.5Z" fill="#e8e8fa" stroke="#b8b8e0" stroke-width=".8"/><path d="M5 1V18M9.5 1V18M14 1V18M1 5H18M1 9.5H18M1 14H18" stroke="#cfcfee" stroke-width=".6"/><path d="M2 15C5 14 6 12 7.5 9C8.5 6 9.5 4.5 10.5 5.5C11.5 7.5 12.5 8.5 14 8.2L17 8" fill="none" stroke="#2c7fe0" stroke-width="1.7" stroke-linecap="round"/><path d="M2 7.5C4 6.5 5.5 5 7 4.8C8.5 5 9.5 8 11 8C13 7.5 15 4.5 17 2.5" fill="none" stroke="#3cb81e" stroke-width="1.7" stroke-linecap="round"/></svg><svg class="a" style="left:346px;top:545px" width="17" height="17" viewBox="0 0 17 17"><circle cx="8.5" cy="8.5" r="7.3" fill="none" stroke="#9a9a9a" stroke-width="1.5"/><path d="M8.5 4.5V12.5M4.5 8.5H12.5" stroke="#a9a9a9" stroke-width="2"/></svg><div class="tt" style="left:370px;top:540px;">ES MP DAILY (1...</div><div class="a" style="left:559px;top:550px;width:14px;height:14px;background:#a6a6a6;border:1px solid #bdbdbd;box-sizing:border-box;font:11px/12px 'Liberation Sans',sans-serif;color:#000;text-align:center">L</div><svg class="a" style="left:572px;top:545px" width="17" height="17" viewBox="0 0 17 17"><circle cx="8.5" cy="8.5" r="7.3" fill="none" stroke="#9a9a9a" stroke-width="1.5"/><path d="M4 7.5H13" stroke="#a9a9a9" stroke-width="2.4"/></svg><svg class="a" style="left:592px;top:545px" width="17" height="17" viewBox="0 0 17 17"><circle cx="8.5" cy="8.5" r="7.3" fill="none" stroke="#9a9a9a" stroke-width="1.5"/><path d="M4.8 10L8.5 6.2L12.2 10" stroke="#a9a9a9" stroke-width="2.2" fill="none"/></svg><svg class="a" style="left:612px;top:545px" width="17" height="17" viewBox="0 0 17 17"><circle cx="8.5" cy="8.5" r="7.3" fill="none" stroke="#9a9a9a" stroke-width="1.5"/><path d="M5.6 5.6L11.4 11.4M11.4 5.6L5.6 11.4" stroke="#a9a9a9" stroke-width="2.6"/></svg><div class="a" style="left:321px;top:567px;width:308px;height:25px;background:#fff"></div><div class="tool" style="left:321px;top:567px;width:308px"><span style="left:19px">ES 09-15</span><span style="left:83px">1 Min</span><svg style="left:0;top:0" width="308" height="25" viewBox="0 0 308 25"><path d="M10.5 5.5V19.5" stroke="#9a9a9a"/><path d="M11.5 5.5V19.5" stroke="#fff"/><path d="M67.4 11h6l-3 3.2z" fill="#000"/><path d="M115.5 11h6l-3 3.2z" fill="#000"/><path d="M128.5 5.5V19.5" stroke="#9a9a9a" stroke-width="1"/><path d="M129.5 5.5V19.5" stroke="#fff" stroke-width="1"/><path d="M135.7 4V20" stroke="#222" stroke-width="1.4"/><rect x="134" y="7" width="3.4" height="10.5" rx="1" fill="#5fd42a" stroke="#2b7d0a" stroke-width=".6"/><path d="M141 4V20" stroke="#222" stroke-width="1.4"/><rect x="139.3" y="7" width="3.4" height="10.5" rx="1" fill="#5fd42a" stroke="#2b7d0a" stroke-width=".6"/><path d="M146.2 4V20" stroke="#222" stroke-width="1.4"/><rect x="144.5" y="7" width="3.4" height="10.5" rx="1" fill="#e8352a" stroke="#8a1208" stroke-width=".6"/><path d="M151 11h6l-3 3.2z" fill="#000"/><g transform="translate(163,0)"><path d="M1 20.2L2.2 16.2L11.2 6.2L14 8.7L5 18.8Z" fill="#f7d52a" stroke="#8a6d10" stroke-width=".7"/><path d="M11.2 6.2L12.6 4.7L15.3 7.2L14 8.7Z" fill="#e8606a" stroke="#9a3038" stroke-width=".6"/><path d="M1 20.2L2.2 16.2L5 18.8Z" fill="#e8c9a0" stroke="#6a5030" stroke-width=".5"/><path d="M1 20.2L1.6 18.4L2.8 19.5Z" fill="#222"/></g><path d="M180 11h6l-3 3.2z" fill="#000"/><g transform="translate(191,0)"><path d="M1.4 20L4.6 16.2" stroke="#3a3a3a" stroke-width="2.4" stroke-linecap="round"/><path d="M4.6 16.2L5.8 14.8" stroke="#777" stroke-width="1.5"/><circle cx="7.7" cy="12.2" r="3.2" fill="#a9d2f2" stroke="#9aa0a8" stroke-width="1.4"/><circle cx="7.1" cy="11.6" r="1.4" fill="#dceefc"/><path d="M14.2 5.2V11.6M11 8.4H17.4" stroke="#10a818" stroke-width="2"/></g><g transform="translate(214,0)"><path d="M1.4 20L4.6 16.2" stroke="#a8a8a8" stroke-width="2.4" stroke-linecap="round"/><path d="M4.6 16.2L5.8 14.8" stroke="#bbb" stroke-width="1.5"/><circle cx="7.9" cy="12.6" r="3.2" fill="#d0d0d0" stroke="#c2c2c2" stroke-width="1.4"/><circle cx="7.3" cy="12" r="1.4" fill="#dedede"/><path d="M11.5 8H16.8" stroke="#b4b4b4" stroke-width="1.7"/></g><path d="M238.5 5.5V19.5" stroke="#9a9a9a" stroke-width="1"/><path d="M239.5 5.5V19.5" stroke="#fff" stroke-width="1"/><g transform="translate(244,0)"><path d="M1 5.5L1.8 14.8L4.6 12.2L9.5 19.5L11.8 18L7 10.8L10.6 10Z" fill="#fff" stroke="#222" stroke-width=".9" stroke-linejoin="round"/></g><path d="M261 11h6l-3 3.2z" fill="#000"/><defs><linearGradient id="og" x1="0" y1="0" x2="0" y2="1"><stop offset="0" stop-color="#eceae6"/><stop offset=".5" stop-color="#d9d7d1"/><stop offset="1" stop-color="#7e7e7c"/></linearGradient></defs><path d="M297 0h8a3 3 0 0 1 3 3v19a3 3 0 0 1 -3 3h-8z" fill="url(#og)"/><path d="M300 16.5h5" stroke="#000" stroke-width="1.2"/><path d="M299 18.5h6l-3 3.2z" fill="#000"/><path d="M302.5 22.2l3-3.2" stroke="#fff" stroke-width=".8"/></svg></div><svg style="left:321px;top:592px;background:#fff" width="308" height="464" viewBox="321 592 308 464" shape-rendering="crispEdges"><rect x="569" y="597" width="1" height="430"/><rect x="323" y="1027" width="247" height="1"/><text x="327" y="608">TPO and Volume Profile Chart (v4)</text><path d="M570 678.7h5" stroke="#000"/><text x="577" y="681.9">2080.00</text><path d="M570 726.6h5" stroke="#000"/><text x="577" y="729.8">2075.00</text><path d="M570 775.5h5" stroke="#000"/><text x="577" y="778.7">2070.00</text><path d="M570 823.5h5" stroke="#000"/><text x="577" y="826.7">2065.00</text><path d="M570 872.5h5" stroke="#000"/><text x="577" y="875.7">2060.00</text><path d="M570 920.5h5" stroke="#000"/><text x="577" y="923.7">2055.00</text><path d="M570 968.5h5" stroke="#000"/><text x="577" y="971.7">2050.00</text><path d="M570 1017.5h5" stroke="#000"/><text x="577" y="1020.7">2045.00</text><text x="323" y="1025">© 2015 NinjaTrader, LLC</text><text x="369.5" y="1041">08/12</text><text x="469.4" y="1041">08/12</text><text x="324" y="1051" style="font-family:'DejaVu Sans',sans-serif;font-size:10.5px;fill:#1e8cc8">Final - www.fin-alg.com</text><path d="M367 632.5h6M367 634.5h6M367 639.5h6M374 644.5h6M374 646.5h6M374 651.5h6M374 656.5h6M374 661.5h6M374 663.5h6M374 668.5h6M374 673.5h6M374 675.5h6M374 680.5h6" stroke="#008000" stroke-width="1" fill="none"/><path d="M367 637h6M367 642h6M374 649h6M374 654h6M374 659h6M374 666h6M374 671h6M374 678h6" stroke="#008000" stroke-width="2" fill="none"/><path d="M367 644.5h6M367 646.5h6M367 651.5h6M367 656.5h6M367 661.5h6M367 663.5h6M367 668.5h6M367 673.5h6M367 675.5h6M367 680.5h6M367 685.5h6M374 690.5h6M374 692.5h6M374 697.5h6M374 702.5h6M374 707.5h6M374 709.5h6" stroke="#a52a2a" stroke-width="1" fill="none"/><path d="M367 649h6M367 654h6M367 659h6M367 666h6M367 671h6M367 678h6M367 683h6M367 688h6M374 695h6M374 700h6M374 705h6M374 712h6" stroke="#a52a2a" stroke-width="2" fill="none"/><path d="M367 690.5h6M367 692.5h6M367 697.5h6M367 702.5h6M367 707.5h6M367 709.5h6M367 714.5h6M367 719.5h6M367 721.5h6M367 726.5h6M374 731.5h6M374 736.5h6M374 738.5h6M381 743.5h6M381 748.5h6M381 753.5h6M381 755.5h6M381 760.5h6M381 765.5h6M381 767.5h6M381 772.5h6M381 777.5h6M388 782.5h6M388 784.5h6M388 789.5h6M388 794.5h6" stroke="#0000ff" stroke-width="1" fill="none"/><path d="M367 695h6M367 700h6M367 705h6M367 712h6M367 717h6M367 724h6M367 729h6M374 734h6M381 741h6M381 746h6M381 751h6M381 758h6M381 763h6M381 770h6M381 775h6M388 780h6M388 787h6M388 792h6" stroke="#0000ff" stroke-width="2" fill="none"/><path d="M367 731.5h6M367 736.5h6M367 738.5h6M367 743.5h6M367 748.5h6M367 753.5h6M367 755.5h6M367 760.5h6M367 765.5h6M367 767.5h6M367 772.5h6M367 777.5h6M367 830.5h6M374 782.5h6M374 784.5h6M374 789.5h6M374 794.5h6M374 796.5h6M374 801.5h6M374 806.5h6M374 811.5h6M374 813.5h6M374 818.5h6M381 632.5h6M467 622.5h6M467 627.5h6M467 632.5h6M474 634.5h6M481 632.5h6M481 639.5h6M495 644.5h6M495 646.5h6M495 651.5h6" stroke="#ff0000" stroke-width="1" fill="none"/><path d="M367 734h6M367 741h6M367 746h6M367 751h6M367 758h6M367 763h6M367 770h6M367 775h6M374 780h6M374 787h6M374 792h6M374 799h6M374 804h6M374 809h6M374 816h6M381 821h6M467 620h6M467 625h6M467 630h6M481 637h6M488 642h6M488 649h6M495 654h6" stroke="#ff0000" stroke-width="2" fill="none"/><path d="M367 780h6M367 787h6M367 792h6M367 799h6M367 804h6M367 809h6M367 816h6M374 821h6M381 826h6M381 833h6M381 838h6M381 845h6M381 850h6M474 637h6M481 642h6M481 649h6M488 654h6M488 659h6" stroke="#696969" stroke-width="2" fill="none"/><path d="M367 782.5h6M367 784.5h6M367 789.5h6M367 794.5h6M367 796.5h6M367 801.5h6M367 806.5h6M367 811.5h6M367 813.5h6M367 818.5h6M374 823.5h6M381 828.5h6M381 830.5h6M381 835.5h6M381 840.5h6M381 842.5h6M381 847.5h6M381 852.5h6M474 639.5h6M488 644.5h6M488 646.5h6M488 651.5h6M495 656.5h6" stroke="#696969" stroke-width="1" fill="none"/><path d="M367 821h6M367 826h6M367 833h6M367 838h6M367 845h6M367 850h6M367 855h6M367 862h6M367 867h6M367 872h6M367 879h6M367 884h6M367 891h6M367 896h6M367 901h6M374 637h6M374 642h6M381 649h6M381 654h6M381 659h6M381 666h6M467 637h6M467 642h6" stroke="#000000" stroke-width="2" fill="none"/><path d="M367 823.5h6M367 828.5h6M367 835.5h6M367 840.5h6M367 842.5h6M367 847.5h6M367 852.5h6M367 857.5h6M367 859.5h6M367 864.5h6M367 869.5h6M367 874.5h6M367 876.5h6M367 881.5h6M367 886.5h6M367 888.5h6M367 893.5h6M367 898.5h6M367 903.5h6M374 632.5h6M374 634.5h6M374 639.5h6M381 644.5h6M381 646.5h6M381 651.5h6M381 656.5h6M381 661.5h6M381 663.5h6M381 668.5h6M467 634.5h6M467 639.5h6M467 644.5h6M467 646.5h6" stroke="#000000" stroke-width="1" fill="none"/><path d="M367 905.5h6M367 910.5h6M367 915.5h6M367 917.5h6M367 922.5h6M367 927.5h6M367 932.5h6M367 934.5h6M367 939.5h6M367 944.5h6M367 949.5h6M367 951.5h6M367 956.5h6M367 961.5h6M367 963.5h6M367 968.5h6M367 973.5h6M367 978.5h6M367 980.5h6M367 985.5h6M367 990.5h6M367 995.5h6M367 997.5h6M367 1002.5h6M374 876.5h6M374 881.5h6M374 886.5h6M374 888.5h6M374 893.5h6M374 898.5h6M374 903.5h6M467 651.5h6M474 644.5h6M474 646.5h6" stroke="#008b8b" stroke-width="1" fill="none"/><path d="M367 908h6M367 913h6M367 920h6M367 925h6M367 930h6M367 937h6M367 942h6M367 947h6M367 954h6M367 959h6M367 966h6M367 971h6M367 976h6M367 983h6M367 988h6M367 993h6M367 1000h6M374 879h6M374 884h6M374 891h6M374 896h6M374 901h6M467 649h6M467 654h6M474 642h6" stroke="#008b8b" stroke-width="2" fill="none"/><path d="M374 741h6M374 746h6M374 751h6M374 758h6M374 763h6M374 770h6M374 775h6M381 780h6M381 787h6M381 792h6M474 625h6M474 630h6M488 637h6M495 642h6M495 649h6M502 654h6" stroke="#808000" stroke-width="2" fill="none"/><path d="M374 743.5h6M374 748.5h6M374 753.5h6M374 755.5h6M374 760.5h6M374 765.5h6M374 767.5h6M374 772.5h6M374 777.5h6M381 782.5h6M381 784.5h6M381 789.5h6M381 794.5h6M381 796.5h6M474 627.5h6M474 632.5h6M481 634.5h6M488 639.5h6M502 644.5h6M502 646.5h6M502 651.5h6M502 656.5h6" stroke="#808000" stroke-width="1" fill="none"/><path d="M374 826h6M374 833h6M374 838h6M374 845h6M374 850h6M374 855h6M374 862h6M374 867h6M374 872h6M381 879h6M388 884h6M388 891h6M467 666h6M481 659h6" stroke="#b8860b" stroke-width="2" fill="none"/><path d="M374 828.5h6M374 830.5h6M374 835.5h6M374 840.5h6M374 842.5h6M374 847.5h6M374 852.5h6M374 857.5h6M374 859.5h6M374 864.5h6M374 869.5h6M374 874.5h6M381 876.5h6M388 881.5h6M388 886.5h6M388 888.5h6M474 663.5h6M481 661.5h6M488 656.5h6" stroke="#b8860b" stroke-width="1" fill="none"/><path d="M374 905.5h6M374 910.5h6M374 915.5h6M374 917.5h6M374 922.5h6M374 927.5h6M374 932.5h6M381 903.5h6M381 934.5h6M381 939.5h6M381 944.5h6M381 949.5h6M381 951.5h6M381 956.5h6M381 961.5h6M381 963.5h6M467 656.5h6M474 651.5h6M481 644.5h6M481 646.5h6" stroke="#00008b" stroke-width="1" fill="none"/><path d="M374 908h6M374 913h6M374 920h6M374 925h6M374 930h6M381 937h6M381 942h6M381 947h6M381 954h6M381 959h6M474 649h6M474 654h6" stroke="#00008b" stroke-width="2" fill="none"/><path d="M374 934.5h6M374 939.5h6M374 944.5h6M374 949.5h6M374 951.5h6M374 956.5h6M374 961.5h6M374 963.5h6M374 968.5h6M374 973.5h6M374 978.5h6M374 980.5h6" stroke="#8b0000" stroke-width="1" fill="none"/><path d="M374 937h6M374 942h6M374 947h6M374 954h6M374 959h6M374 966h6M374 971h6M374 976h6M374 983h6" stroke="#8b0000" stroke-width="2" fill="none"/><path d="M381 881.5h6M381 886.5h6M381 888.5h6M381 893.5h6M381 898.5h6M381 968.5h6M388 905.5h6M388 910.5h6M388 915.5h6M388 917.5h6M388 922.5h6M388 927.5h6M388 932.5h6M388 961.5h6M388 963.5h6M395 903.5h6M395 934.5h6M395 939.5h6M395 944.5h6M395 949.5h6M395 951.5h6M395 956.5h6M467 663.5h6M474 661.5h6M481 656.5h6" stroke="#8b008b" stroke-width="1" fill="none"/><path d="M381 884h6M381 891h6M381 896h6M381 901h6M381 966h6M381 971h6M388 908h6M388 913h6M388 920h6M388 925h6M388 930h6M388 959h6M388 966h6M395 937h6M395 942h6M395 947h6M395 954h6M395 959h6M474 659h6" stroke="#8b008b" stroke-width="2" fill="none"/><path d="M381 905.5h6M381 910.5h6M381 915.5h6M381 917.5h6M381 922.5h6M381 927.5h6M381 932.5h6M388 903.5h6M388 934.5h6M388 939.5h6M388 944.5h6M388 949.5h6M388 951.5h6M388 956.5h6M467 661.5h6M474 656.5h6M481 651.5h6" stroke="#ff8c00" stroke-width="1" fill="none"/><path d="M381 908h6M381 913h6M381 920h6M381 925h6M381 930h6M388 937h6M388 942h6M388 947h6M388 954h6M467 659h6M481 654h6" stroke="#ff8c00" stroke-width="2" fill="none"/><path d="M413 632.5h1M413 634.5h2M413 639.5h4M413 644.5h7M413 646.5h8M413 651.5h19M413 656.5h23M413 661.5h21M413 663.5h18M413 668.5h18M413 673.5h6M413 675.5h4M413 680.5h5M413 685.5h6M413 690.5h7M413 692.5h5M413 697.5h4M413 702.5h5M413 707.5h4M413 709.5h3M413 714.5h3M413 719.5h2M413 721.5h2M413 726.5h3M413 731.5h4M413 736.5h6M413 738.5h7M413 743.5h7M413 748.5h10M413 753.5h11M413 755.5h9M413 760.5h9M413 765.5h8M413 767.5h8M413 772.5h6M413 777.5h6M413 782.5h7M413 784.5h9M413 789.5h8M413 794.5h6M413 796.5h7M413 801.5h5M413 806.5h6M413 811.5h6M413 813.5h7M413 818.5h7M413 823.5h6M413 828.5h5M413 830.5h8M413 835.5h8M413 840.5h13M413 842.5h17M413 847.5h18M413 852.5h19M413 857.5h13M413 859.5h10M413 864.5h15M413 869.5h18M413 874.5h16M413 876.5h19M413 881.5h19M413 886.5h15M413 888.5h13M413 893.5h12M413 898.5h10M413 903.5h10M413 905.5h9M413 910.5h15M413 915.5h27M413 917.5h19M413 922.5h21M413 927.5h28M413 932.5h28M413 934.5h22M413 939.5h23M413 944.5h23M413 949.5h30M413 951.5h27M413 956.5h18M413 961.5h18M413 963.5h13M413 968.5h8M413 973.5h9M413 978.5h8M413 980.5h7M413 985.5h4M413 990.5h3M413 995.5h3M413 997.5h2M413 1002.5h1M322 634.5h2M322 639.5h1M322 644.5h1M322 661.5h1M322 663.5h1M322 668.5h3M322 673.5h5M322 675.5h2M322 772.5h2M322 777.5h5M322 782.5h9M322 784.5h13M322 789.5h10M322 794.5h9M322 796.5h10M322 801.5h13M322 806.5h16M322 811.5h17M322 813.5h22M322 818.5h26M322 823.5h26M322 828.5h21M322 830.5h24M322 835.5h24M322 840.5h19M322 842.5h19M322 847.5h20M322 852.5h18M322 857.5h14M322 859.5h11M322 864.5h15M322 869.5h13M322 874.5h9M322 876.5h13M322 881.5h16M322 886.5h17M322 888.5h17M322 893.5h12M322 898.5h7M322 903.5h9M322 905.5h8M322 910.5h11M322 915.5h9M322 917.5h5M322 922.5h2M322 927.5h1M520 622.5h1M520 627.5h2M520 632.5h4M520 634.5h8M520 639.5h22M520 644.5h34M520 646.5h23M520 651.5h19M520 656.5h12M520 661.5h13M520 663.5h4" stroke="#cfcfff" stroke-width="1" fill="none"/><path d="M413 637h3M413 642h4M413 649h14M413 654h18M413 659h18M413 666h20M413 671h7M413 678h5M413 683h5M413 688h5M413 695h6M413 700h5M413 705h4M413 712h4M413 717h3M413 724h3M413 729h4M413 734h5M413 741h9M413 746h11M413 751h12M413 758h11M413 763h11M413 770h6M413 775h8M413 780h8M413 787h9M413 792h8M413 799h5M413 804h6M413 809h8M413 816h6M413 821h7M413 826h6M413 833h7M413 838h9M413 845h15M413 850h14M413 855h16M413 862h10M413 867h14M413 872h17M413 879h16M413 884h13M413 891h13M413 896h9M413 901h7M413 908h11M413 913h18M413 920h23M413 925h25M413 930h23M413 937h28M413 942h22M413 947h21M413 954h26M413 959h19M413 966h13M413 971h11M413 976h9M413 983h8M413 988h4M413 993h3M413 1000h2M322 637h1M322 642h1M322 666h2M322 671h4M322 770h1M322 775h4M322 780h9M322 787h12M322 792h11M322 799h10M322 804h14M322 809h20M322 816h19M322 821h26M322 826h30M322 833h20M322 838h22M322 845h16M322 850h14M322 855h16M322 862h10M322 867h13M322 872h9M322 879h12M322 884h13M322 891h14M322 896h7M322 901h6M322 908h9M322 913h9M322 920h4M322 925h1M520 620h1M520 625h1M520 630h2M520 637h13M520 642h23M520 649h21M520 654h14M520 659h11" stroke="#cfcfff" stroke-width="2" fill="none"/><path d="M402 769H412V984H402" fill="none" stroke="#ff77ee" stroke-width="1.6"/><rect x="409" y="949" width="5" height="5"/><rect x="411" y="951" width="1" height="1" fill="#fff"/><path d="M509 634.62H519V655H509" fill="none" stroke="#ff77ee" stroke-width="1.6"/><rect x="516" y="642.12" width="5" height="4"/><rect x="322" y="826" width="1" height="4"/><path d="M570 631.4l7.2 -7.2h41.75v14.4h-41.75z" fill="#000" shape-rendering="auto"/><text x="578.7" y="635.1" style="fill:#fff">2084.75</text></svg><div class="sb" style="left:321px;top:1056px;width:308px;height:25px"><div class="sbb" style="left:0;height:25px"><i style="left:0px;border-right-color:#000;border-left-width:0;left:4px"></i></div><div class="sbb" style="left:292px;height:25px"><i style="left:6px;border-left-color:#000;border-right-width:0"></i></div><div class="sbb" style="left:287px;width:5px;height:25px"></div></div><div class="a" style="left:637px;top:531px;width:322px;height:547px;background:#0d030d;border-radius:9px 9px 5px 5px;box-shadow:inset 1px 0 0 rgba(255,255,255,.13),inset -1px 0 0 rgba(255,255,255,.13),inset 0 -1px 0 rgba(255,255,255,.13)"></div><div class="a" style="left:641px;top:557px;width:314px;height:517px;border:1px solid rgba(255,255,255,.14);box-sizing:border-box"></div><div class="fr" style="left:637px;top:532px;width:322px;height:27px;background:linear-gradient(#4c404c,#443844 14px,#0d030d 15px,#0d030d 26px);box-shadow:inset 0 1px 0 rgba(255,255,255,.22),inset 1px 0 0 rgba(255,255,255,.12),inset -1px 0 0 rgba(255,255,255,.12)"></div><svg class="a" style="left:647px;top:536px" width="19" height="19" viewBox="0 0 19 19"><path d="M1 1L18 0.5V18L1 18.5Z" fill="#e8e8fa" stroke="#b8b8e0" stroke-width=".8"/><path d="M5 1V18M9.5 1V18M14 1V18M1 5H18M1 9.5H18M1 14H18" stroke="#cfcfee" stroke-width=".6"/><path d="M2 15C5 14 6 12 7.5 9C8.5 6 9.5 4.5 10.5 5.5C11.5 7.5 12.5 8.5 14 8.2L17 8" fill="none" stroke="#2c7fe0" stroke-width="1.7" stroke-linecap="round"/><path d="M2 7.5C4 6.5 5.5 5 7 4.8C8.5 5 9.5 8 11 8C13 7.5 15 4.5 17 2.5" fill="none" stroke="#3cb81e" stroke-width="1.7" stroke-linecap="round"/></svg><svg class="a" style="left:668px;top:537px" width="17" height="17" viewBox="0 0 17 17"><circle cx="8.5" cy="8.5" r="7.3" fill="none" stroke="#9a9a9a" stroke-width="1.5"/><path d="M8.5 4.5V12.5M4.5 8.5H12.5" stroke="#a9a9a9" stroke-width="2"/></svg><div class="tt" style="left:692px;top:532px;">NQ MP DAILY (5...</div><div class="a" style="left:883px;top:542px;width:14px;height:14px;background:#a6a6a6;border:1px solid #bdbdbd;box-sizing:border-box;font:11px/12px 'Liberation Sans',sans-serif;color:#000;text-align:center">L</div><svg class="a" style="left:896px;top:537px" width="17" height="17" viewBox="0 0 17 17"><circle cx="8.5" cy="8.5" r="7.3" fill="none" stroke="#9a9a9a" stroke-width="1.5"/><path d="M4 7.5H13" stroke="#a9a9a9" stroke-width="2.4"/></svg><svg class="a" style="left:916px;top:537px" width="17" height="17" viewBox="0 0 17 17"><circle cx="8.5" cy="8.5" r="7.3" fill="none" stroke="#9a9a9a" stroke-width="1.5"/><path d="M4.8 10L8.5 6.2L12.2 10" stroke="#a9a9a9" stroke-width="2.2" fill="none"/></svg><svg class="a" style="left:936px;top:537px" width="17" height="17" viewBox="0 0 17 17"><circle cx="8.5" cy="8.5" r="7.3" fill="none" stroke="#9a9a9a" stroke-width="1.5"/><path d="M5.6 5.6L11.4 11.4M11.4 5.6L5.6 11.4" stroke="#a9a9a9" stroke-width="2.6"/></svg><div class="a" style="left:643px;top:559px;width:310px;height:25px;background:#fff"></div><div class="tool" style="left:643px;top:559px;width:310px"><span style="left:19px">NQ 09-15</span><span style="left:86.3px">5 Min</span><svg style="left:0;top:0" width="310" height="25" viewBox="0 0 310 25"><path d="M10.5 5.5V19.5" stroke="#9a9a9a"/><path d="M11.5 5.5V19.5" stroke="#fff"/><path d="M70.7 11h6l-3 3.2z" fill="#000"/><path d="M118.3 11h6l-3 3.2z" fill="#000"/><path d="M131.2 5.5V19.5" stroke="#9a9a9a" stroke-width="1"/><path d="M132.2 5.5V19.5" stroke="#fff" stroke-width="1"/><path d="M138.4 4V20" stroke="#222" stroke-width="1.4"/><rect x="136.7" y="7" width="3.4" height="10.5" rx="1" fill="#5fd42a" stroke="#2b7d0a" stroke-width=".6"/><path d="M143.7 4V20" stroke="#222" stroke-width="1.4"/><rect x="142" y="7" width="3.4" height="10.5" rx="1" fill="#5fd42a" stroke="#2b7d0a" stroke-width=".6"/><path d="M148.9 4V20" stroke="#222" stroke-width="1.4"/><rect x="147.2" y="7" width="3.4" height="10.5" rx="1" fill="#e8352a" stroke="#8a1208" stroke-width=".6"/><path d="M153.7 11h6l-3 3.2z" fill="#000"/><g transform="translate(165.7,0)"><path d="M1 20.2L2.2 16.2L11.2 6.2L14 8.7L5 18.8Z" fill="#f7d52a" stroke="#8a6d10" stroke-width=".7"/><path d="M11.2 6.2L12.6 4.7L15.3 7.2L14 8.7Z" fill="#e8606a" stroke="#9a3038" stroke-width=".6"/><path d="M1 20.2L2.2 16.2L5 18.8Z" fill="#e8c9a0" stroke="#6a5030" stroke-width=".5"/><path d="M1 20.2L1.6 18.4L2.8 19.5Z" fill="#222"/></g><path d="M182.7 11h6l-3 3.2z" fill="#000"/><g transform="translate(193.7,0)"><path d="M1.4 20L4.6 16.2" stroke="#3a3a3a" stroke-width="2.4" stroke-linecap="round"/><path d="M4.6 16.2L5.8 14.8" stroke="#777" stroke-width="1.5"/><circle cx="7.7" cy="12.2" r="3.2" fill="#a9d2f2" stroke="#9aa0a8" stroke-width="1.4"/><circle cx="7.1" cy="11.6" r="1.4" fill="#dceefc"/><path d="M14.2 5.2V11.6M11 8.4H17.4" stroke="#10a818" stroke-width="2"/></g><g transform="translate(216.7,0)"><path d="M1.4 20L4.6 16.2" stroke="#a8a8a8" stroke-width="2.4" stroke-linecap="round"/><path d="M4.6 16.2L5.8 14.8" stroke="#bbb" stroke-width="1.5"/><circle cx="7.9" cy="12.6" r="3.2" fill="#d0d0d0" stroke="#c2c2c2" stroke-width="1.4"/><circle cx="7.3" cy="12" r="1.4" fill="#dedede"/><path d="M11.5 8H16.8" stroke="#b4b4b4" stroke-width="1.7"/></g><path d="M241.2 5.5V19.5" stroke="#9a9a9a" stroke-width="1"/><path d="M242.2 5.5V19.5" stroke="#fff" stroke-width="1"/><g transform="translate(246.7,0)"><path d="M1 5.5L1.8 14.8L4.6 12.2L9.5 19.5L11.8 18L7 10.8L10.6 10Z" fill="#fff" stroke="#222" stroke-width=".9" stroke-linejoin="round"/></g><path d="M263.7 11h6l-3 3.2z" fill="#000"/><defs><linearGradient id="og" x1="0" y1="0" x2="0" y2="1"><stop offset="0" stop-color="#eceae6"/><stop offset=".5" stop-color="#d9d7d1"/><stop offset="1" stop-color="#7e7e7c"/></linearGradient></defs><path d="M299 0h8a3 3 0 0 1 3 3v19a3 3 0 0 1 -3 3h-8z" fill="url(#og)"/><path d="M302 16.5h5" stroke="#000" stroke-width="1.2"/><path d="M301 18.5h6l-3 3.2z" fill="#000"/><path d="M304.5 22.2l3-3.2" stroke="#fff" stroke-width=".8"/></svg></div><svg style="left:643px;top:584px;background:#fff" width="310" height="464" viewBox="643 584 310 464" shape-rendering="crispEdges"><rect x="893" y="589" width="1" height="430"/><rect x="645" y="1019" width="249" height="1"/><text x="649" y="600">TPO and Volume Profile Chart (v4)</text><path d="M894 618.5h5" stroke="#000"/><text x="901" y="621.7">4540.00</text><path d="M894 652.3h5" stroke="#000"/><text x="901" y="655.5">4530.00</text><path d="M894 687.2h5" stroke="#000"/><text x="901" y="690.4">4520.00</text><path d="M894 722.2h5" stroke="#000"/><text x="901" y="725.4">4510.00</text><path d="M894 756.7h5" stroke="#000"/><text x="901" y="759.9">4500.00</text><path d="M894 790.9h5" stroke="#000"/><text x="901" y="794.1">4490.00</text><path d="M894 826.5h5" stroke="#000"/><text x="901" y="829.7">4480.00</text><path d="M894 860.5h5" stroke="#000"/><text x="901" y="863.7">4470.00</text><path d="M894 895.5h5" stroke="#000"/><text x="901" y="898.7">4460.00</text><path d="M894 929.3h5" stroke="#000"/><text x="901" y="932.5">4450.00</text><path d="M894 964.2h5" stroke="#000"/><text x="901" y="967.4">4440.00</text><path d="M894 999.5h5" stroke="#000"/><text x="901" y="1002.7">4430.00</text><text x="645" y="1017">© 2015 NinjaTrader, LLC</text><text x="683.7" y="1033">08/12</text><text x="783.4" y="1033">08/12</text><text x="646" y="1043" style="font-family:'DejaVu Sans',sans-serif;font-size:10.5px;fill:#1e8cc8">Final - www.fin-alg.com</text><rect x="681" y="634.2" width="6" height="12.44" fill="#008000"/><rect x="681" y="646.64" width="6" height="24.11" fill="#a52a2a"/><rect x="681" y="670.75" width="6" height="23.07" fill="#0000ff"/><rect x="681" y="693.82" width="6" height="70.76" fill="#ff0000"/><rect x="681" y="764.58" width="6" height="53.05" fill="#696969"/><rect x="681" y="817.63" width="6" height="6.22" fill="#b8860b"/><rect x="681" y="823.85" width="6" height="1.56" fill="#000000"/><rect x="681" y="825.4" width="6" height="1.04" fill="#ff0000"/><rect x="681" y="826.44" width="6" height="107.57" fill="#000000"/><rect x="681" y="934.01" width="6" height="54.69" fill="#008b8b"/><rect x="681" y="988.7" width="6" height="7" fill="#8b0000"/><rect x="688" y="636.79" width="6" height="9.85" fill="#000000"/><rect x="688" y="646.64" width="6" height="24.11" fill="#008000"/><rect x="688" y="670.75" width="6" height="23.07" fill="#a52a2a"/><rect x="688" y="693.82" width="6" height="61.69" fill="#808000"/><rect x="688" y="764.58" width="6" height="44.49" fill="#ff0000"/><rect x="688" y="816.85" width="6" height="6.48" fill="#696969"/><rect x="688" y="823.33" width="6" height="43.55" fill="#b8860b"/><rect x="688" y="866.87" width="6" height="18.14" fill="#00008b"/><rect x="688" y="885.02" width="6" height="48.99" fill="#008b8b"/><rect x="688" y="934.01" width="6" height="54.69" fill="#8b0000"/><rect x="695" y="641.72" width="6" height="1.04" fill="#ff0000"/><rect x="695" y="647.16" width="6" height="23.59" fill="#000000"/><rect x="695" y="670.75" width="6" height="10.89" fill="#008000"/><rect x="695" y="693.82" width="6" height="55.99" fill="#0000ff"/><rect x="695" y="823.85" width="6" height="11.15" fill="#696969"/><rect x="695" y="866.87" width="6" height="3.11" fill="#b8860b"/><rect x="695" y="869.98" width="6" height="15.03" fill="#ff8c00"/><rect x="695" y="885.02" width="6" height="84.76" fill="#00008b"/><rect x="702" y="671.26" width="6" height="3.11" fill="#000000"/><rect x="702" y="693.82" width="6" height="0.78" fill="#a52a2a"/><rect x="702" y="868.69" width="6" height="13.48" fill="#b8860b"/><rect x="702" y="882.17" width="6" height="2.85" fill="#8b008b"/><rect x="702" y="885.02" width="6" height="67.91" fill="#ff8c00"/><rect x="702" y="952.93" width="6" height="9.07" fill="#8b008b"/><rect x="709" y="882.17" width="6" height="2.85" fill="#b8860b"/><rect x="709" y="885.02" width="6" height="67.91" fill="#8b008b"/><rect x="716" y="885.02" width="6" height="7" fill="#b8860b"/><rect x="716" y="932.97" width="6" height="0.78" fill="#8b008b"/><rect x="781" y="612.17" width="6" height="24.88" fill="#ff0000"/><rect x="781" y="637.05" width="6" height="1.81" fill="#696969"/><rect x="781" y="638.86" width="6" height="5.18" fill="#000000"/><rect x="781" y="644.05" width="6" height="1.04" fill="#ff0000"/><rect x="781" y="645.09" width="6" height="7.26" fill="#000000"/><rect x="781" y="653.12" width="6" height="3.89" fill="#00008b"/><rect x="781" y="657.01" width="6" height="7.78" fill="#ff8c00"/><rect x="788" y="622.02" width="6" height="15.03" fill="#808000"/><rect x="788" y="637.05" width="6" height="1.81" fill="#ff0000"/><rect x="788" y="638.86" width="6" height="5.18" fill="#696969"/><rect x="788" y="644.05" width="6" height="8.29" fill="#008b8b"/><rect x="788" y="653.12" width="6" height="3.89" fill="#ff8c00"/><rect x="788" y="657.01" width="6" height="5.18" fill="#8b008b"/><rect x="795" y="628.24" width="6" height="0.78" fill="#ff0000"/><rect x="795" y="636.27" width="6" height="2.59" fill="#808000"/><rect x="795" y="638.86" width="6" height="5.18" fill="#ff0000"/><rect x="795" y="644.05" width="6" height="3.89" fill="#696969"/><rect x="795" y="647.94" width="6" height="3.89" fill="#00008b"/><rect x="795" y="651.82" width="6" height="3.11" fill="#808000"/><rect x="795" y="655.45" width="6" height="5.96" fill="#b8860b"/><rect x="802" y="638.86" width="6" height="5.18" fill="#808000"/><rect x="802" y="644.05" width="6" height="3.89" fill="#ff0000"/><rect x="802" y="647.94" width="6" height="3.89" fill="#696969"/><rect x="802" y="653.9" width="6" height="2.59" fill="#b8860b"/><rect x="809" y="642.75" width="6" height="5.18" fill="#808000"/><rect x="809" y="647.94" width="6" height="3.89" fill="#ff0000"/><rect x="809" y="655.19" width="6" height="1.04" fill="#696969"/><rect x="816" y="648.2" width="6" height="1.3" fill="#808000"/><path d="M734 635.5h1M734 636.5h1M734 637.5h2M734 638.5h3M734 639.5h3M734 640.5h4M734 641.5h3M734 642.5h4M734 643.5h5M734 644.5h5M734 645.5h7M734 646.5h5M734 647.5h7M734 648.5h7M734 649.5h8M734 650.5h8M734 651.5h7M734 652.5h9M734 653.5h8M734 654.5h10M734 655.5h8M734 656.5h9M734 657.5h10M734 658.5h10M734 659.5h12M734 660.5h10M734 661.5h14M734 662.5h13M734 663.5h18M734 664.5h18M734 665.5h18M734 666.5h22M734 667.5h20M734 668.5h24M734 669.5h17M734 670.5h17M734 671.5h14M734 672.5h14M734 673.5h14M734 674.5h10M734 675.5h11M734 676.5h9M734 677.5h11M734 678.5h10M734 679.5h9M734 680.5h9M734 681.5h8M734 682.5h10M734 683.5h8M734 684.5h8M734 685.5h7M734 686.5h7M734 687.5h9M734 688.5h8M734 689.5h9M734 690.5h7M734 691.5h9M734 692.5h9M734 693.5h9M734 694.5h9M734 695.5h7M734 696.5h10M734 697.5h9M734 698.5h10M734 699.5h9M734 700.5h9M734 701.5h11M734 702.5h9M734 703.5h11M734 704.5h9M734 705.5h11M734 706.5h11M734 707.5h11M734 708.5h12M734 709.5h9M734 710.5h13M734 711.5h11M734 712.5h14M734 713.5h12M734 714.5h13M734 715.5h15M734 716.5h14M734 717.5h17M734 718.5h12M734 719.5h14M734 720.5h13M734 721.5h14M734 722.5h14M734 723.5h11M734 724.5h13M734 725.5h11M734 726.5h14M734 727.5h12M734 728.5h12M734 729.5h12M734 730.5h11M734 731.5h14M734 732.5h10M734 733.5h10M734 734.5h8M734 735.5h8M734 736.5h7M734 737.5h5M734 738.5h5M734 739.5h4M734 740.5h5M734 741.5h4M734 742.5h4M734 743.5h4M734 744.5h3M734 745.5h4M734 746.5h3M734 747.5h3M734 748.5h2M734 749.5h2M734 750.5h2M734 751.5h2M734 752.5h2M734 753.5h2M734 754.5h3M734 755.5h2M734 756.5h2M734 757.5h2M734 758.5h2M734 759.5h3M734 760.5h2M734 761.5h3M734 762.5h2M734 763.5h3M734 764.5h3M734 765.5h3M734 766.5h4M734 767.5h3M734 768.5h4M734 769.5h4M734 770.5h4M734 771.5h4M734 772.5h4M734 773.5h5M734 774.5h5M734 775.5h6M734 776.5h5M734 777.5h5M734 778.5h6M734 779.5h6M734 780.5h7M734 781.5h5M734 782.5h7M734 783.5h6M734 784.5h8M734 785.5h7M734 786.5h7M734 787.5h8M734 788.5h7M734 789.5h9M734 790.5h7M734 791.5h8M734 792.5h8M734 793.5h9M734 794.5h10M734 795.5h8M734 796.5h9M734 797.5h7M734 798.5h8M734 799.5h8M734 800.5h7M734 801.5h7M734 802.5h5M734 803.5h6M734 804.5h4M734 805.5h4M734 806.5h3M734 807.5h3M734 808.5h4M734 809.5h3M734 810.5h3M734 811.5h2M734 812.5h2M734 813.5h2M734 814.5h3M734 815.5h3M734 816.5h3M734 817.5h4M734 818.5h4M734 819.5h5M734 820.5h5M734 821.5h6M734 822.5h8M734 823.5h8M734 824.5h11M734 825.5h9M734 826.5h13M734 827.5h13M734 828.5h13M734 829.5h14M734 830.5h12M734 831.5h16M734 832.5h13M734 833.5h15M734 834.5h12M734 835.5h12M734 836.5h13M734 837.5h12M734 838.5h14M734 839.5h10M734 840.5h11M734 841.5h10M734 842.5h10M734 843.5h10M734 844.5h8M734 845.5h9M734 846.5h7M734 847.5h9M734 848.5h7M734 849.5h6M734 850.5h6M734 851.5h5M734 852.5h6M734 853.5h4M734 854.5h4M734 855.5h3M734 856.5h4M734 857.5h3M734 858.5h3M734 859.5h3M734 860.5h2M734 861.5h3M734 862.5h3M734 863.5h3M734 864.5h3M734 865.5h3M734 866.5h5M734 867.5h4M734 868.5h6M734 869.5h5M734 870.5h7M734 871.5h9M734 872.5h9M734 873.5h11M734 874.5h10M734 875.5h15M734 876.5h14M734 877.5h16M734 878.5h16M734 879.5h15M734 880.5h21M734 881.5h18M734 882.5h22M734 883.5h18M734 884.5h22M734 885.5h25M734 886.5h24M734 887.5h28M734 888.5h22M734 889.5h30M734 890.5h27M734 891.5h32M734 892.5h29M734 893.5h25M734 894.5h31M734 895.5h26M734 896.5h31M734 897.5h23M734 898.5h26M734 899.5h26M734 900.5h26M734 901.5h29M734 902.5h21M734 903.5h27M734 904.5h23M734 905.5h27M734 906.5h25M734 907.5h21M734 908.5h24M734 909.5h20M734 910.5h25M734 911.5h18M734 912.5h19M734 913.5h18M734 914.5h18M734 915.5h20M734 916.5h15M734 917.5h17M734 918.5h14M734 919.5h17M734 920.5h15M734 921.5h13M734 922.5h14M734 923.5h12M734 924.5h15M734 925.5h12M734 926.5h12M734 927.5h11M734 928.5h11M734 929.5h12M734 930.5h10M734 931.5h12M734 932.5h10M734 933.5h13M734 934.5h13M734 935.5h13M734 936.5h15M734 937.5h13M734 938.5h19M734 939.5h17M734 940.5h20M734 941.5h17M734 942.5h18M734 943.5h21M734 944.5h18M734 945.5h22M734 946.5h17M734 947.5h21M734 948.5h20M734 949.5h19M734 950.5h18M734 951.5h14M734 952.5h18M734 953.5h14M734 954.5h16M734 955.5h13M734 956.5h12M734 957.5h13M734 958.5h11M734 959.5h13M734 960.5h9M734 961.5h11M734 962.5h10M734 963.5h10M734 964.5h10M734 965.5h8M734 966.5h10M734 967.5h8M734 968.5h10M734 969.5h8M734 970.5h8M734 971.5h8M734 972.5h7M734 973.5h9M734 974.5h6M734 975.5h7M734 976.5h6M734 977.5h6M734 978.5h6M734 979.5h4M734 980.5h5M734 981.5h3M734 982.5h4M734 983.5h3M734 984.5h3M734 985.5h3M734 986.5h2M734 987.5h3M734 988.5h2M734 989.5h2M734 990.5h1M644 791.5h1M644 792.5h1M644 793.5h1M644 794.5h1M644 795.5h1M644 796.5h2M644 797.5h2M644 798.5h3M644 799.5h3M644 800.5h2M644 801.5h3M644 802.5h2M644 803.5h3M644 804.5h2M644 805.5h3M644 806.5h2M644 807.5h2M644 808.5h2M644 809.5h2M644 810.5h3M644 811.5h3M644 812.5h5M644 813.5h5M644 814.5h6M644 815.5h7M644 816.5h6M644 817.5h10M644 818.5h9M644 819.5h12M644 820.5h11M644 821.5h12M644 822.5h16M644 823.5h15M644 824.5h18M644 825.5h15M644 826.5h19M644 827.5h19M644 828.5h19M644 829.5h20M644 830.5h16M644 831.5h21M644 832.5h18M644 833.5h22M644 834.5h18M644 835.5h18M644 836.5h21M644 837.5h20M644 838.5h24M644 839.5h17M644 840.5h19M644 841.5h16M644 842.5h16M644 843.5h15M644 844.5h11M644 845.5h13M644 846.5h10M644 847.5h12M644 848.5h9M644 849.5h8M644 850.5h8M644 851.5h6M644 852.5h8M644 853.5h6M644 854.5h8M644 855.5h7M644 856.5h8M644 857.5h9M644 858.5h8M644 859.5h10M644 860.5h7M644 861.5h9M644 862.5h7M644 863.5h6M644 864.5h5M644 865.5h4M644 866.5h4M644 867.5h2M644 868.5h4M644 869.5h4M644 870.5h5M644 871.5h6M644 872.5h6M644 873.5h7M644 874.5h6M644 875.5h9M644 876.5h9M644 877.5h10M644 878.5h11M644 879.5h10M644 880.5h11M644 881.5h7M644 882.5h7M644 883.5h4M644 884.5h4M644 885.5h4M644 886.5h4M644 887.5h3M644 888.5h2M644 889.5h2M644 890.5h2M644 891.5h1M644 892.5h1M644 893.5h1M644 894.5h1M644 895.5h1M644 896.5h2M644 897.5h2M644 898.5h2M644 899.5h1M644 900.5h1M644 901.5h1M834 614.5h1M834 615.5h1M834 616.5h1M834 617.5h1M834 618.5h1M834 619.5h1M834 620.5h1M834 621.5h1M834 622.5h1M834 623.5h1M834 624.5h2M834 625.5h2M834 626.5h2M834 627.5h2M834 628.5h2M834 629.5h3M834 630.5h3M834 631.5h3M834 632.5h2M834 633.5h3M834 634.5h4M834 635.5h5M834 636.5h6M834 637.5h6M834 638.5h8M834 639.5h10M834 640.5h16M834 641.5h15M834 642.5h21M834 643.5h25M834 644.5h27M834 645.5h33M834 646.5h21M834 647.5h23M834 648.5h17M834 649.5h17M834 650.5h13M834 651.5h10M834 652.5h11M834 653.5h9M834 654.5h11M834 655.5h8M834 656.5h8M834 657.5h7M834 658.5h6M834 659.5h6M834 660.5h4M834 661.5h4M834 662.5h3M834 663.5h3M834 664.5h2" stroke="#cfcfff" stroke-width="1" fill="none"/><path d="M723 736.58H733V991.81H723" fill="none" stroke="#ff77ee" stroke-width="1.6"/><rect x="730" y="892" width="5" height="3"/><path d="M823 634.98H833V657.01H823" fill="none" stroke="#ff77ee" stroke-width="1.6"/><rect x="830" y="644" width="5" height="3"/><path d="M894 626.8l7.2 -7.2h41.75v14.4h-41.75z" fill="#000" shape-rendering="auto"/><text x="902.7" y="630.5" style="fill:#fff">4537.25</text></svg><div class="sb" style="left:643px;top:1048px;width:310px;height:24px"><div class="sbb" style="left:0;height:24px"><i style="left:0px;border-right-color:#000;border-left-width:0;left:4px"></i></div><div class="sbb" style="left:294px;height:24px"><i style="left:6px;border-left-color:#000;border-right-width:0"></i></div><div class="sbb" style="left:289px;width:5px;height:24px"></div></div><div class="a" style="left:961px;top:531px;width:320px;height:547px;background:#050105;border-radius:9px 9px 5px 5px;box-shadow:inset 1px 0 0 rgba(255,255,255,.13),inset -1px 0 0 rgba(255,255,255,.13),inset 0 -1px 0 rgba(255,255,255,.13)"></div><div class="a" style="left:965px;top:557px;width:312px;height:517px;border:1px solid rgba(255,255,255,.14);box-sizing:border-box"></div><div class="fr" style="left:961px;top:532px;width:320px;height:27px;background:linear-gradient(#454545,#3b3b3b 14px,#000000 15px,#000000 26px);box-shadow:inset 0 1px 0 rgba(255,255,255,.22),inset 1px 0 0 rgba(255,255,255,.12),inset -1px 0 0 rgba(255,255,255,.12)"></div><svg class="a" style="left:971px;top:536px" width="19" height="19" viewBox="0 0 19 19"><path d="M1 1L18 0.5V18L1 18.5Z" fill="#e8e8fa" stroke="#b8b8e0" stroke-width=".8"/><path d="M5 1V18M9.5 1V18M14 1V18M1 5H18M1 9.5H18M1 14H18" stroke="#cfcfee" stroke-width=".6"/><path d="M2 15C5 14 6 12 7.5 9C8.5 6 9.5 4.5 10.5 5.5C11.5 7.5 12.5 8.5 14 8.2L17 8" fill="none" stroke="#2c7fe0" stroke-width="1.7" stroke-linecap="round"/><path d="M2 7.5C4 6.5 5.5 5 7 4.8C8.5 5 9.5 8 11 8C13 7.5 15 4.5 17 2.5" fill="none" stroke="#3cb81e" stroke-width="1.7" stroke-linecap="round"/></svg><svg class="a" style="left:992px;top:537px" width="17" height="17" viewBox="0 0 17 17"><circle cx="8.5" cy="8.5" r="7.3" fill="none" stroke="#9a9a9a" stroke-width="1.5"/><path d="M8.5 4.5V12.5M4.5 8.5H12.5" stroke="#a9a9a9" stroke-width="2"/></svg><div class="tt" style="left:1016px;top:532px;">ZN MP DAILY (1...</div><div class="a" style="left:1205px;top:542px;width:14px;height:14px;background:#a6a6a6;border:1px solid #bdbdbd;box-sizing:border-box;font:11px/12px 'Liberation Sans',sans-serif;color:#000;text-align:center">L</div><svg class="a" style="left:1218px;top:537px" width="17" height="17" viewBox="0 0 17 17"><circle cx="8.5" cy="8.5" r="7.3" fill="none" stroke="#9a9a9a" stroke-width="1.5"/><path d="M4 7.5H13" stroke="#a9a9a9" stroke-width="2.4"/></svg><svg class="a" style="left:1238px;top:537px" width="17" height="17" viewBox="0 0 17 17"><circle cx="8.5" cy="8.5" r="7.3" fill="none" stroke="#9a9a9a" stroke-width="1.5"/><path d="M4.8 10L8.5 6.2L12.2 10" stroke="#a9a9a9" stroke-width="2.2" fill="none"/></svg><svg class="a" style="left:1258px;top:537px" width="17" height="17" viewBox="0 0 17 17"><circle cx="8.5" cy="8.5" r="7.3" fill="none" stroke="#9a9a9a" stroke-width="1.5"/><path d="M5.6 5.6L11.4 11.4M11.4 5.6L5.6 11.4" stroke="#a9a9a9" stroke-width="2.6"/></svg><div class="a" style="left:967px;top:559px;width:308px;height:25px;background:#fff"></div><div class="tool" style="left:967px;top:559px;width:308px"><span style="left:19.5px">ZN 09-15</span><span style="left:85.3px">1 Min</span><svg style="left:0;top:0" width="308" height="25" viewBox="0 0 308 25"><path d="M10.5 5.5V19.5" stroke="#9a9a9a"/><path d="M11.5 5.5V19.5" stroke="#fff"/><path d="M69.4 11h6l-3 3.2z" fill="#000"/><path d="M118 11h6l-3 3.2z" fill="#000"/><path d="M130.8 5.5V19.5" stroke="#9a9a9a" stroke-width="1"/><path d="M131.8 5.5V19.5" stroke="#fff" stroke-width="1"/><path d="M138 4V20" stroke="#222" stroke-width="1.4"/><rect x="136.3" y="7" width="3.4" height="10.5" rx="1" fill="#5fd42a" stroke="#2b7d0a" stroke-width=".6"/><path d="M143.3 4V20" stroke="#222" stroke-width="1.4"/><rect x="141.6" y="7" width="3.4" height="10.5" rx="1" fill="#5fd42a" stroke="#2b7d0a" stroke-width=".6"/><path d="M148.5 4V20" stroke="#222" stroke-width="1.4"/><rect x="146.8" y="7" width="3.4" height="10.5" rx="1" fill="#e8352a" stroke="#8a1208" stroke-width=".6"/><path d="M153.3 11h6l-3 3.2z" fill="#000"/><g transform="translate(165.3,0)"><path d="M1 20.2L2.2 16.2L11.2 6.2L14 8.7L5 18.8Z" fill="#f7d52a" stroke="#8a6d10" stroke-width=".7"/><path d="M11.2 6.2L12.6 4.7L15.3 7.2L14 8.7Z" fill="#e8606a" stroke="#9a3038" stroke-width=".6"/><path d="M1 20.2L2.2 16.2L5 18.8Z" fill="#e8c9a0" stroke="#6a5030" stroke-width=".5"/><path d="M1 20.2L1.6 18.4L2.8 19.5Z" fill="#222"/></g><path d="M182.3 11h6l-3 3.2z" fill="#000"/><g transform="translate(193.3,0)"><path d="M1.4 20L4.6 16.2" stroke="#3a3a3a" stroke-width="2.4" stroke-linecap="round"/><path d="M4.6 16.2L5.8 14.8" stroke="#777" stroke-width="1.5"/><circle cx="7.7" cy="12.2" r="3.2" fill="#a9d2f2" stroke="#9aa0a8" stroke-width="1.4"/><circle cx="7.1" cy="11.6" r="1.4" fill="#dceefc"/><path d="M14.2 5.2V11.6M11 8.4H17.4" stroke="#10a818" stroke-width="2"/></g><g transform="translate(216.3,0)"><path d="M1.4 20L4.6 16.2" stroke="#a8a8a8" stroke-width="2.4" stroke-linecap="round"/><path d="M4.6 16.2L5.8 14.8" stroke="#bbb" stroke-width="1.5"/><circle cx="7.9" cy="12.6" r="3.2" fill="#d0d0d0" stroke="#c2c2c2" stroke-width="1.4"/><circle cx="7.3" cy="12" r="1.4" fill="#dedede"/><path d="M11.5 8H16.8" stroke="#b4b4b4" stroke-width="1.7"/></g><path d="M240.8 5.5V19.5" stroke="#9a9a9a" stroke-width="1"/><path d="M241.8 5.5V19.5" stroke="#fff" stroke-width="1"/><g transform="translate(246.3,0)"><path d="M1 5.5L1.8 14.8L4.6 12.2L9.5 19.5L11.8 18L7 10.8L10.6 10Z" fill="#fff" stroke="#222" stroke-width=".9" stroke-linejoin="round"/></g><path d="M263.3 11h6l-3 3.2z" fill="#000"/><defs><linearGradient id="og" x1="0" y1="0" x2="0" y2="1"><stop offset="0" stop-color="#eceae6"/><stop offset=".5" stop-color="#d9d7d1"/><stop offset="1" stop-color="#7e7e7c"/></linearGradient></defs><path d="M297 0h8a3 3 0 0 1 3 3v19a3 3 0 0 1 -3 3h-8z" fill="url(#og)"/><path d="M300 16.5h5" stroke="#000" stroke-width="1.2"/><path d="M299 18.5h6l-3 3.2z" fill="#000"/><path d="M302.5 22.2l3-3.2" stroke="#fff" stroke-width=".8"/></svg></div><svg style="left:967px;top:584px;background:#fff" width="308" height="464" viewBox="967 584 308 464" shape-rendering="crispEdges"><rect x="1197" y="589" width="1" height="430"/><rect x="969" y="1019" width="229" height="1"/><text x="973" y="600">TPO and Volume Profile Chart (v4)</text><path d="M1198 642h5" stroke="#000"/><text x="1205" y="645.2">128'120</text><path d="M1198 721h5" stroke="#000"/><text x="1205" y="724.2">128'080</text><path d="M1198 798.3h5" stroke="#000"/><text x="1205" y="801.5">128'040</text><path d="M1198 877.7h5" stroke="#000"/><text x="1205" y="880.9">128'000</text><path d="M1198 956h5" stroke="#000"/><text x="1205" y="959.2">127'280</text><text x="969" y="1017">© 2015 NinjaTrader, LLC</text><text x="977" y="1033">08/12</text><text x="1087" y="1033">08/12</text><text x="970" y="1043" style="font-family:'DejaVu Sans',sans-serif;font-size:10.5px;fill:#1e8cc8">Final - www.fin-alg.com</text><text x="980" y="616" style="font-family:'DejaVu Serif',serif;font-weight:bold;font-size:7.4px;text-anchor:middle;fill:#8b008b">F</text><rect x="1034" y="609" width="0.78" height="8" fill="#cfcfff"/><text x="980" y="625.78" style="font-family:'DejaVu Serif',serif;font-weight:bold;font-size:7.4px;text-anchor:middle;fill:#8b008b">F</text><rect x="1034" y="618.78" width="2.59" height="8" fill="#cfcfff"/><text x="980" y="635.56" style="font-family:'DejaVu Serif',serif;font-weight:bold;font-size:7.4px;text-anchor:middle;fill:#8b008b">F</text><text x="987" y="635.56" style="font-family:'DejaVu Serif',serif;font-weight:bold;font-size:7.4px;text-anchor:middle;fill:#b8860b">G</text><text x="994" y="635.56" style="font-family:'DejaVu Serif',serif;font-weight:bold;font-size:7.4px;text-anchor:middle;fill:#696969">H</text><rect x="1034" y="628.56" width="9.85" height="8" fill="#cfcfff"/><text x="980" y="645.34" style="font-family:'DejaVu Serif',serif;font-weight:bold;font-size:7.4px;text-anchor:middle;fill:#8b008b">F</text><text x="987" y="645.34" style="font-family:'DejaVu Serif',serif;font-weight:bold;font-size:7.4px;text-anchor:middle;fill:#b8860b">G</text><text x="994" y="645.34" style="font-family:'DejaVu Serif',serif;font-weight:bold;font-size:7.4px;text-anchor:middle;fill:#696969">H</text><rect x="1034" y="638.34" width="18.66" height="8" fill="#cfcfff"/><text x="980" y="655.12" style="font-family:'DejaVu Serif',serif;font-weight:bold;font-size:7.4px;text-anchor:middle;fill:#ff8c00">E</text><text x="987" y="655.12" style="font-family:'DejaVu Serif',serif;font-weight:bold;font-size:7.4px;text-anchor:middle;fill:#8b008b">F</text><text x="994" y="655.12" style="font-family:'DejaVu Serif',serif;font-weight:bold;font-size:7.4px;text-anchor:middle;fill:#b8860b">G</text><text x="1001" y="655.12" style="font-family:'DejaVu Serif',serif;font-weight:bold;font-size:7.4px;text-anchor:middle;fill:#696969">H</text><rect x="1034" y="648.12" width="24.62" height="8" fill="#cfcfff"/><text x="980" y="664.9" style="font-family:'DejaVu Serif',serif;font-weight:bold;font-size:7.4px;text-anchor:middle;fill:#ff8c00">E</text><text x="987" y="664.9" style="font-family:'DejaVu Serif',serif;font-weight:bold;font-size:7.4px;text-anchor:middle;fill:#8b008b">F</text><text x="994" y="664.9" style="font-family:'DejaVu Serif',serif;font-weight:bold;font-size:7.4px;text-anchor:middle;fill:#b8860b">G</text><text x="1001" y="664.9" style="font-family:'DejaVu Serif',serif;font-weight:bold;font-size:7.4px;text-anchor:middle;fill:#696969">H</text><rect x="1034" y="657.9" width="22.81" height="8" fill="#cfcfff"/><text x="980" y="674.68" style="font-family:'DejaVu Serif',serif;font-weight:bold;font-size:7.4px;text-anchor:middle;fill:#ff8c00">E</text><text x="987" y="674.68" style="font-family:'DejaVu Serif',serif;font-weight:bold;font-size:7.4px;text-anchor:middle;fill:#8b008b">F</text><text x="994" y="674.68" style="font-family:'DejaVu Serif',serif;font-weight:bold;font-size:7.4px;text-anchor:middle;fill:#b8860b">G</text><text x="1001" y="674.68" style="font-family:'DejaVu Serif',serif;font-weight:bold;font-size:7.4px;text-anchor:middle;fill:#696969">H</text><text x="1008" y="674.68" style="font-family:'DejaVu Serif',serif;font-weight:bold;font-size:7.4px;text-anchor:middle;fill:#ff0000">I</text><rect x="1034" y="667.68" width="20.74" height="8" fill="#cfcfff"/><text x="980" y="684.46" style="font-family:'DejaVu Serif',serif;font-weight:bold;font-size:7.4px;text-anchor:middle;fill:#ff8c00">E</text><text x="987" y="684.46" style="font-family:'DejaVu Serif',serif;font-weight:bold;font-size:7.4px;text-anchor:middle;fill:#8b008b">F</text><text x="994" y="684.46" style="font-family:'DejaVu Serif',serif;font-weight:bold;font-size:7.4px;text-anchor:middle;fill:#b8860b">G</text><text x="1001" y="684.46" style="font-family:'DejaVu Serif',serif;font-weight:bold;font-size:7.4px;text-anchor:middle;fill:#696969">H</text><text x="1008" y="684.46" style="font-family:'DejaVu Serif',serif;font-weight:bold;font-size:7.4px;text-anchor:middle;fill:#ff0000">I</text><rect x="1034" y="677.46" width="23.85" height="8" fill="#cfcfff"/><text x="980" y="694.24" style="font-family:'DejaVu Serif',serif;font-weight:bold;font-size:7.4px;text-anchor:middle;fill:#00008b">D</text><text x="987" y="694.24" style="font-family:'DejaVu Serif',serif;font-weight:bold;font-size:7.4px;text-anchor:middle;fill:#ff8c00">E</text><text x="994" y="694.24" style="font-family:'DejaVu Serif',serif;font-weight:bold;font-size:7.4px;text-anchor:middle;fill:#b8860b">G</text><text x="1001" y="694.24" style="font-family:'DejaVu Serif',serif;font-weight:bold;font-size:7.4px;text-anchor:middle;fill:#ff0000">I</text><rect x="1034" y="687.24" width="23.85" height="8" fill="#cfcfff"/><text x="980" y="704.02" style="font-family:'DejaVu Serif',serif;font-weight:bold;font-size:7.4px;text-anchor:middle;fill:#000000">A</text><text x="987" y="704.02" style="font-family:'DejaVu Serif',serif;font-weight:bold;font-size:7.4px;text-anchor:middle;fill:#00008b">D</text><text x="994" y="704.02" style="font-family:'DejaVu Serif',serif;font-weight:bold;font-size:7.4px;text-anchor:middle;fill:#ff8c00">E</text><text x="1001" y="704.02" style="font-family:'DejaVu Serif',serif;font-weight:bold;font-size:7.4px;text-anchor:middle;fill:#b8860b">G</text><text x="1008" y="704.02" style="font-family:'DejaVu Serif',serif;font-weight:bold;font-size:7.4px;text-anchor:middle;fill:#ff0000">I</text><rect x="1034" y="697.02" width="17.63" height="8" fill="#cfcfff"/><text x="980" y="713.8" style="font-family:'DejaVu Serif',serif;font-weight:bold;font-size:7.4px;text-anchor:middle;fill:#000000">A</text><text x="987" y="713.8" style="font-family:'DejaVu Serif',serif;font-weight:bold;font-size:7.4px;text-anchor:middle;fill:#00008b">D</text><text x="994" y="713.8" style="font-family:'DejaVu Serif',serif;font-weight:bold;font-size:7.4px;text-anchor:middle;fill:#ff8c00">E</text><text x="1001" y="713.8" style="font-family:'DejaVu Serif',serif;font-weight:bold;font-size:7.4px;text-anchor:middle;fill:#b8860b">G</text><text x="1008" y="713.8" style="font-family:'DejaVu Serif',serif;font-weight:bold;font-size:7.4px;text-anchor:middle;fill:#ff0000">I</text><text x="1015" y="713.8" style="font-family:'DejaVu Serif',serif;font-weight:bold;font-size:7.4px;text-anchor:middle;fill:#808000">J</text><rect x="1034" y="706.8" width="17.63" height="8" fill="#cfcfff"/><text x="980" y="723.58" style="font-family:'DejaVu Serif',serif;font-weight:bold;font-size:7.4px;text-anchor:middle;fill:#000000">A</text><text x="987" y="723.58" style="font-family:'DejaVu Serif',serif;font-weight:bold;font-size:7.4px;text-anchor:middle;fill:#00008b">D</text><text x="994" y="723.58" style="font-family:'DejaVu Serif',serif;font-weight:bold;font-size:7.4px;text-anchor:middle;fill:#ff0000">I</text><text x="1001" y="723.58" style="font-family:'DejaVu Serif',serif;font-weight:bold;font-size:7.4px;text-anchor:middle;fill:#808000">J</text><rect x="1034" y="716.58" width="14.77" height="8" fill="#cfcfff"/><text x="980" y="733.36" style="font-family:'DejaVu Serif',serif;font-weight:bold;font-size:7.4px;text-anchor:middle;fill:#000000">A</text><text x="987" y="733.36" style="font-family:'DejaVu Serif',serif;font-weight:bold;font-size:7.4px;text-anchor:middle;fill:#00008b">D</text><text x="994" y="733.36" style="font-family:'DejaVu Serif',serif;font-weight:bold;font-size:7.4px;text-anchor:middle;fill:#ff0000">I</text><text x="1001" y="733.36" style="font-family:'DejaVu Serif',serif;font-weight:bold;font-size:7.4px;text-anchor:middle;fill:#808000">J</text><rect x="1034" y="726.36" width="13.74" height="8" fill="#cfcfff"/><text x="980" y="743.14" style="font-family:'DejaVu Serif',serif;font-weight:bold;font-size:7.4px;text-anchor:middle;fill:#ff0000">O</text><text x="987" y="743.14" style="font-family:'DejaVu Serif',serif;font-weight:bold;font-size:7.4px;text-anchor:middle;fill:#00008b">D</text><text x="994" y="743.14" style="font-family:'DejaVu Serif',serif;font-weight:bold;font-size:7.4px;text-anchor:middle;fill:#808000">J</text><rect x="1034" y="736.14" width="9.85" height="8" fill="#cfcfff"/><text x="980" y="752.92" style="font-family:'DejaVu Serif',serif;font-weight:bold;font-size:7.4px;text-anchor:middle;fill:#000000">A</text><text x="987" y="752.92" style="font-family:'DejaVu Serif',serif;font-weight:bold;font-size:7.4px;text-anchor:middle;fill:#008b8b">B</text><text x="994" y="752.92" style="font-family:'DejaVu Serif',serif;font-weight:bold;font-size:7.4px;text-anchor:middle;fill:#00008b">D</text><text x="1001" y="752.92" style="font-family:'DejaVu Serif',serif;font-weight:bold;font-size:7.4px;text-anchor:middle;fill:#808000">J</text><rect x="1034" y="745.92" width="9.85" height="8" fill="#cfcfff"/><text x="980" y="762.7" style="font-family:'DejaVu Serif',serif;font-weight:bold;font-size:7.4px;text-anchor:middle;fill:#000000">A</text><text x="987" y="762.7" style="font-family:'DejaVu Serif',serif;font-weight:bold;font-size:7.4px;text-anchor:middle;fill:#008b8b">B</text><text x="994" y="762.7" style="font-family:'DejaVu Serif',serif;font-weight:bold;font-size:7.4px;text-anchor:middle;fill:#00008b">D</text><text x="1001" y="762.7" style="font-family:'DejaVu Serif',serif;font-weight:bold;font-size:7.4px;text-anchor:middle;fill:#808000">J</text><rect x="1034" y="755.7" width="12.44" height="8" fill="#cfcfff"/><text x="980" y="772.48" style="font-family:'DejaVu Serif',serif;font-weight:bold;font-size:7.4px;text-anchor:middle;fill:#000000">A</text><text x="987" y="772.48" style="font-family:'DejaVu Serif',serif;font-weight:bold;font-size:7.4px;text-anchor:middle;fill:#008b8b">B</text><text x="994" y="772.48" style="font-family:'DejaVu Serif',serif;font-weight:bold;font-size:7.4px;text-anchor:middle;fill:#00008b">D</text><text x="1001" y="772.48" style="font-family:'DejaVu Serif',serif;font-weight:bold;font-size:7.4px;text-anchor:middle;fill:#808000">J</text><rect x="1034" y="765.48" width="14.77" height="8" fill="#cfcfff"/><text x="980" y="782.26" style="font-family:'DejaVu Serif',serif;font-weight:bold;font-size:7.4px;text-anchor:middle;fill:#000000">A</text><text x="987" y="782.26" style="font-family:'DejaVu Serif',serif;font-weight:bold;font-size:7.4px;text-anchor:middle;fill:#008b8b">B</text><text x="994" y="782.26" style="font-family:'DejaVu Serif',serif;font-weight:bold;font-size:7.4px;text-anchor:middle;fill:#00008b">D</text><text x="1001" y="782.26" style="font-family:'DejaVu Serif',serif;font-weight:bold;font-size:7.4px;text-anchor:middle;fill:#808000">J</text><rect x="1034" y="775.26" width="15.55" height="8" fill="#cfcfff"/><text x="980" y="792.04" style="font-family:'DejaVu Serif',serif;font-weight:bold;font-size:7.4px;text-anchor:middle;fill:#000000">A</text><text x="987" y="792.04" style="font-family:'DejaVu Serif',serif;font-weight:bold;font-size:7.4px;text-anchor:middle;fill:#008b8b">B</text><text x="994" y="792.04" style="font-family:'DejaVu Serif',serif;font-weight:bold;font-size:7.4px;text-anchor:middle;fill:#00008b">D</text><text x="1001" y="792.04" style="font-family:'DejaVu Serif',serif;font-weight:bold;font-size:7.4px;text-anchor:middle;fill:#808000">J</text><rect x="1034" y="785.04" width="18.66" height="8" fill="#cfcfff"/><text x="980" y="801.82" style="font-family:'DejaVu Serif',serif;font-weight:bold;font-size:7.4px;text-anchor:middle;fill:#000000">A</text><text x="987" y="801.82" style="font-family:'DejaVu Serif',serif;font-weight:bold;font-size:7.4px;text-anchor:middle;fill:#008b8b">B</text><text x="994" y="801.82" style="font-family:'DejaVu Serif',serif;font-weight:bold;font-size:7.4px;text-anchor:middle;fill:#00008b">D</text><text x="1001" y="801.82" style="font-family:'DejaVu Serif',serif;font-weight:bold;font-size:7.4px;text-anchor:middle;fill:#808000">J</text><text x="1008" y="801.82" style="font-family:'DejaVu Serif',serif;font-weight:bold;font-size:7.4px;text-anchor:middle;fill:#0000ff">K</text><rect x="1034" y="794.82" width="16.85" height="8" fill="#cfcfff"/><text x="980" y="811.6" style="font-family:'DejaVu Serif',serif;font-weight:bold;font-size:7.4px;text-anchor:middle;fill:#000000">A</text><text x="987" y="811.6" style="font-family:'DejaVu Serif',serif;font-weight:bold;font-size:7.4px;text-anchor:middle;fill:#008b8b">B</text><text x="994" y="811.6" style="font-family:'DejaVu Serif',serif;font-weight:bold;font-size:7.4px;text-anchor:middle;fill:#8b0000">C</text><text x="1001" y="811.6" style="font-family:'DejaVu Serif',serif;font-weight:bold;font-size:7.4px;text-anchor:middle;fill:#00008b">D</text><text x="1008" y="811.6" style="font-family:'DejaVu Serif',serif;font-weight:bold;font-size:7.4px;text-anchor:middle;fill:#808000">J</text><text x="1015" y="811.6" style="font-family:'DejaVu Serif',serif;font-weight:bold;font-size:7.4px;text-anchor:middle;fill:#0000ff">K</text><rect x="1034" y="804.6" width="18.66" height="8" fill="#cfcfff"/><text x="980" y="821.38" style="font-family:'DejaVu Serif',serif;font-weight:bold;font-size:7.4px;text-anchor:middle;fill:#000000">A</text><text x="987" y="821.38" style="font-family:'DejaVu Serif',serif;font-weight:bold;font-size:7.4px;text-anchor:middle;fill:#008b8b">B</text><text x="994" y="821.38" style="font-family:'DejaVu Serif',serif;font-weight:bold;font-size:7.4px;text-anchor:middle;fill:#8b0000">C</text><text x="1001" y="821.38" style="font-family:'DejaVu Serif',serif;font-weight:bold;font-size:7.4px;text-anchor:middle;fill:#00008b">D</text><text x="1008" y="821.38" style="font-family:'DejaVu Serif',serif;font-weight:bold;font-size:7.4px;text-anchor:middle;fill:#808000">J</text><text x="1015" y="821.38" style="font-family:'DejaVu Serif',serif;font-weight:bold;font-size:7.4px;text-anchor:middle;fill:#0000ff">K</text><text x="1022" y="821.38" style="font-family:'DejaVu Serif',serif;font-weight:bold;font-size:7.4px;text-anchor:middle;fill:#a52a2a">L</text><rect x="1034" y="814.38" width="24.62" height="8" fill="#cfcfff"/><text x="980" y="831.16" style="font-family:'DejaVu Serif',serif;font-weight:bold;font-size:7.4px;text-anchor:middle;fill:#000000">A</text><text x="987" y="831.16" style="font-family:'DejaVu Serif',serif;font-weight:bold;font-size:7.4px;text-anchor:middle;fill:#008b8b">B</text><text x="994" y="831.16" style="font-family:'DejaVu Serif',serif;font-weight:bold;font-size:7.4px;text-anchor:middle;fill:#8b0000">C</text><text x="1001" y="831.16" style="font-family:'DejaVu Serif',serif;font-weight:bold;font-size:7.4px;text-anchor:middle;fill:#00008b">D</text><text x="1008" y="831.16" style="font-family:'DejaVu Serif',serif;font-weight:bold;font-size:7.4px;text-anchor:middle;fill:#0000ff">K</text><text x="1015" y="831.16" style="font-family:'DejaVu Serif',serif;font-weight:bold;font-size:7.4px;text-anchor:middle;fill:#a52a2a">L</text><rect x="1034" y="824.16" width="29.81" height="8" fill="#cfcfff"/><text x="980" y="840.94" style="font-family:'DejaVu Serif',serif;font-weight:bold;font-size:7.4px;text-anchor:middle;fill:#000000">A</text><text x="987" y="840.94" style="font-family:'DejaVu Serif',serif;font-weight:bold;font-size:7.4px;text-anchor:middle;fill:#008b8b">B</text><text x="994" y="840.94" style="font-family:'DejaVu Serif',serif;font-weight:bold;font-size:7.4px;text-anchor:middle;fill:#8b0000">C</text><text x="1001" y="840.94" style="font-family:'DejaVu Serif',serif;font-weight:bold;font-size:7.4px;text-anchor:middle;fill:#00008b">D</text><text x="1008" y="840.94" style="font-family:'DejaVu Serif',serif;font-weight:bold;font-size:7.4px;text-anchor:middle;fill:#0000ff">K</text><text x="1015" y="840.94" style="font-family:'DejaVu Serif',serif;font-weight:bold;font-size:7.4px;text-anchor:middle;fill:#a52a2a">L</text><rect x="1034" y="833.94" width="22.81" height="8" fill="#cfcfff"/><text x="980" y="850.72" style="font-family:'DejaVu Serif',serif;font-weight:bold;font-size:7.4px;text-anchor:middle;fill:#000000">A</text><text x="987" y="850.72" style="font-family:'DejaVu Serif',serif;font-weight:bold;font-size:7.4px;text-anchor:middle;fill:#008b8b">B</text><text x="994" y="850.72" style="font-family:'DejaVu Serif',serif;font-weight:bold;font-size:7.4px;text-anchor:middle;fill:#8b0000">C</text><text x="1001" y="850.72" style="font-family:'DejaVu Serif',serif;font-weight:bold;font-size:7.4px;text-anchor:middle;fill:#00008b">D</text><text x="1008" y="850.72" style="font-family:'DejaVu Serif',serif;font-weight:bold;font-size:7.4px;text-anchor:middle;fill:#0000ff">K</text><text x="1015" y="850.72" style="font-family:'DejaVu Serif',serif;font-weight:bold;font-size:7.4px;text-anchor:middle;fill:#a52a2a">L</text><text x="1022" y="850.72" style="font-family:'DejaVu Serif',serif;font-weight:bold;font-size:7.4px;text-anchor:middle;fill:#008000">M</text><rect x="1034" y="843.72" width="18.66" height="8" fill="#cfcfff"/><text x="980" y="860.5" style="font-family:'DejaVu Serif',serif;font-weight:bold;font-size:7.4px;text-anchor:middle;fill:#000000">A</text><text x="987" y="860.5" style="font-family:'DejaVu Serif',serif;font-weight:bold;font-size:7.4px;text-anchor:middle;fill:#8b0000">C</text><text x="994" y="860.5" style="font-family:'DejaVu Serif',serif;font-weight:bold;font-size:7.4px;text-anchor:middle;fill:#00008b">D</text><text x="1001" y="860.5" style="font-family:'DejaVu Serif',serif;font-weight:bold;font-size:7.4px;text-anchor:middle;fill:#0000ff">K</text><text x="1008" y="860.5" style="font-family:'DejaVu Serif',serif;font-weight:bold;font-size:7.4px;text-anchor:middle;fill:#a52a2a">L</text><text x="1015" y="860.5" style="font-family:'DejaVu Serif',serif;font-weight:bold;font-size:7.4px;text-anchor:middle;fill:#008000">M</text><rect x="1034" y="853.5" width="19.96" height="8" fill="#cfcfff"/><text x="980" y="870.28" style="font-family:'DejaVu Serif',serif;font-weight:bold;font-size:7.4px;text-anchor:middle;fill:#000000">A</text><text x="987" y="870.28" style="font-family:'DejaVu Serif',serif;font-weight:bold;font-size:7.4px;text-anchor:middle;fill:#8b0000">C</text><text x="994" y="870.28" style="font-family:'DejaVu Serif',serif;font-weight:bold;font-size:7.4px;text-anchor:middle;fill:#00008b">D</text><text x="1001" y="870.28" style="font-family:'DejaVu Serif',serif;font-weight:bold;font-size:7.4px;text-anchor:middle;fill:#0000ff">K</text><text x="1008" y="870.28" style="font-family:'DejaVu Serif',serif;font-weight:bold;font-size:7.4px;text-anchor:middle;fill:#a52a2a">L</text><text x="1015" y="870.28" style="font-family:'DejaVu Serif',serif;font-weight:bold;font-size:7.4px;text-anchor:middle;fill:#008000">M</text><text x="1022" y="870.28" style="font-family:'DejaVu Serif',serif;font-weight:bold;font-size:7.4px;text-anchor:middle;fill:#000000">N</text><rect x="1034" y="863.28" width="18.66" height="8" fill="#cfcfff"/><text x="980" y="880.06" style="font-family:'DejaVu Serif',serif;font-weight:bold;font-size:7.4px;text-anchor:middle;fill:#8b0000">C</text><text x="987" y="880.06" style="font-family:'DejaVu Serif',serif;font-weight:bold;font-size:7.4px;text-anchor:middle;fill:#0000ff">K</text><text x="994" y="880.06" style="font-family:'DejaVu Serif',serif;font-weight:bold;font-size:7.4px;text-anchor:middle;fill:#a52a2a">L</text><text x="1001" y="880.06" style="font-family:'DejaVu Serif',serif;font-weight:bold;font-size:7.4px;text-anchor:middle;fill:#008000">M</text><text x="1008" y="880.06" style="font-family:'DejaVu Serif',serif;font-weight:bold;font-size:7.4px;text-anchor:middle;fill:#000000">N</text><rect x="1034" y="873.06" width="16.85" height="8" fill="#cfcfff"/><text x="980" y="889.84" style="font-family:'DejaVu Serif',serif;font-weight:bold;font-size:7.4px;text-anchor:middle;fill:#a52a2a">L</text><text x="987" y="889.84" style="font-family:'DejaVu Serif',serif;font-weight:bold;font-size:7.4px;text-anchor:middle;fill:#008000">M</text><text x="994" y="889.84" style="font-family:'DejaVu Serif',serif;font-weight:bold;font-size:7.4px;text-anchor:middle;fill:#000000">N</text><rect x="1034" y="882.84" width="10.89" height="8" fill="#cfcfff"/><text x="980" y="899.62" style="font-family:'DejaVu Serif',serif;font-weight:bold;font-size:7.4px;text-anchor:middle;fill:#008000">M</text><text x="987" y="899.62" style="font-family:'DejaVu Serif',serif;font-weight:bold;font-size:7.4px;text-anchor:middle;fill:#000000">N</text><rect x="1034" y="892.62" width="9.07" height="8" fill="#cfcfff"/><text x="980" y="909.4" style="font-family:'DejaVu Serif',serif;font-weight:bold;font-size:7.4px;text-anchor:middle;fill:#000000">N</text><text x="987" y="909.4" style="font-family:'DejaVu Serif',serif;font-weight:bold;font-size:7.4px;text-anchor:middle;fill:#008b8b">P</text><rect x="1034" y="902.4" width="7.78" height="8" fill="#cfcfff"/><text x="980" y="919.18" style="font-family:'DejaVu Serif',serif;font-weight:bold;font-size:7.4px;text-anchor:middle;fill:#000000">N</text><text x="987" y="919.18" style="font-family:'DejaVu Serif',serif;font-weight:bold;font-size:7.4px;text-anchor:middle;fill:#008b8b">P</text><rect x="1034" y="912.18" width="7.78" height="8" fill="#cfcfff"/><text x="980" y="928.96" style="font-family:'DejaVu Serif',serif;font-weight:bold;font-size:7.4px;text-anchor:middle;fill:#000000">N</text><text x="987" y="928.96" style="font-family:'DejaVu Serif',serif;font-weight:bold;font-size:7.4px;text-anchor:middle;fill:#008b8b">P</text><rect x="1034" y="921.96" width="5.7" height="8" fill="#cfcfff"/><text x="980" y="938.74" style="font-family:'DejaVu Serif',serif;font-weight:bold;font-size:7.4px;text-anchor:middle;fill:#008b8b">P</text><rect x="1034" y="931.74" width="9.07" height="8" fill="#cfcfff"/><text x="980" y="948.52" style="font-family:'DejaVu Serif',serif;font-weight:bold;font-size:7.4px;text-anchor:middle;fill:#008b8b">P</text><text x="987" y="948.52" style="font-family:'DejaVu Serif',serif;font-weight:bold;font-size:7.4px;text-anchor:middle;fill:#8b0000">Q</text><rect x="1034" y="941.52" width="7.78" height="8" fill="#cfcfff"/><text x="980" y="958.3" style="font-family:'DejaVu Serif',serif;font-weight:bold;font-size:7.4px;text-anchor:middle;fill:#008b8b">P</text><text x="987" y="958.3" style="font-family:'DejaVu Serif',serif;font-weight:bold;font-size:7.4px;text-anchor:middle;fill:#8b0000">Q</text><rect x="1034" y="951.3" width="2.59" height="8" fill="#cfcfff"/><text x="980" y="968.08" style="font-family:'DejaVu Serif',serif;font-weight:bold;font-size:7.4px;text-anchor:middle;fill:#8b0000">Q</text><text x="987" y="968.08" style="font-family:'DejaVu Serif',serif;font-weight:bold;font-size:7.4px;text-anchor:middle;fill:#00008b">R</text><rect x="1034" y="961.08" width="4.67" height="8" fill="#cfcfff"/><text x="980" y="977.86" style="font-family:'DejaVu Serif',serif;font-weight:bold;font-size:7.4px;text-anchor:middle;fill:#8b0000">Q</text><text x="987" y="977.86" style="font-family:'DejaVu Serif',serif;font-weight:bold;font-size:7.4px;text-anchor:middle;fill:#00008b">R</text><text x="994" y="977.86" style="font-family:'DejaVu Serif',serif;font-weight:bold;font-size:7.4px;text-anchor:middle;fill:#ff8c00">S</text><rect x="1034" y="970.86" width="6.48" height="8" fill="#cfcfff"/><text x="980" y="987.64" style="font-family:'DejaVu Serif',serif;font-weight:bold;font-size:7.4px;text-anchor:middle;fill:#8b0000">Q</text><text x="987" y="987.64" style="font-family:'DejaVu Serif',serif;font-weight:bold;font-size:7.4px;text-anchor:middle;fill:#00008b">R</text><text x="994" y="987.64" style="font-family:'DejaVu Serif',serif;font-weight:bold;font-size:7.4px;text-anchor:middle;fill:#ff8c00">S</text><rect x="1034" y="980.64" width="2.59" height="8" fill="#cfcfff"/><text x="980" y="997.42" style="font-family:'DejaVu Serif',serif;font-weight:bold;font-size:7.4px;text-anchor:middle;fill:#ff8c00">S</text><text x="987" y="997.42" style="font-family:'DejaVu Serif',serif;font-weight:bold;font-size:7.4px;text-anchor:middle;fill:#ff0000">#</text><text x="1090" y="891" style="font-family:'DejaVu Serif',serif;font-weight:bold;font-size:7.4px;text-anchor:middle;fill:#ff8c00">E</text><rect x="1144.5" y="884" width="4.67" height="8" fill="#cfcfff"/><text x="1090" y="900.78" style="font-family:'DejaVu Serif',serif;font-weight:bold;font-size:7.4px;text-anchor:middle;fill:#ff8c00">E</text><text x="1097" y="900.78" style="font-family:'DejaVu Serif',serif;font-weight:bold;font-size:7.4px;text-anchor:middle;fill:#8b008b">F</text><text x="1104" y="900.78" style="font-family:'DejaVu Serif',serif;font-weight:bold;font-size:7.4px;text-anchor:middle;fill:#b8860b">G</text><rect x="1144.5" y="893.78" width="17.63" height="8" fill="#cfcfff"/><text x="1090" y="910.56" style="font-family:'DejaVu Serif',serif;font-weight:bold;font-size:7.4px;text-anchor:middle;fill:#00008b">D</text><text x="1097" y="910.56" style="font-family:'DejaVu Serif',serif;font-weight:bold;font-size:7.4px;text-anchor:middle;fill:#ff8c00">E</text><text x="1104" y="910.56" style="font-family:'DejaVu Serif',serif;font-weight:bold;font-size:7.4px;text-anchor:middle;fill:#8b008b">F</text><text x="1111" y="910.56" style="font-family:'DejaVu Serif',serif;font-weight:bold;font-size:7.4px;text-anchor:middle;fill:#b8860b">G</text><rect x="1144.5" y="903.56" width="15.55" height="8" fill="#cfcfff"/><text x="1090" y="920.34" style="font-family:'DejaVu Serif',serif;font-weight:bold;font-size:7.4px;text-anchor:middle;fill:#00008b">D</text><text x="1097" y="920.34" style="font-family:'DejaVu Serif',serif;font-weight:bold;font-size:7.4px;text-anchor:middle;fill:#ff8c00">E</text><text x="1104" y="920.34" style="font-family:'DejaVu Serif',serif;font-weight:bold;font-size:7.4px;text-anchor:middle;fill:#8b008b">F</text><text x="1111" y="920.34" style="font-family:'DejaVu Serif',serif;font-weight:bold;font-size:7.4px;text-anchor:middle;fill:#b8860b">G</text><rect x="1144.5" y="913.34" width="18.66" height="8" fill="#cfcfff"/><text x="1090" y="930.12" style="font-family:'DejaVu Serif',serif;font-weight:bold;font-size:7.4px;text-anchor:middle;fill:#00008b">D</text><text x="1097" y="930.12" style="font-family:'DejaVu Serif',serif;font-weight:bold;font-size:7.4px;text-anchor:middle;fill:#ff8c00">E</text><text x="1104" y="930.12" style="font-family:'DejaVu Serif',serif;font-weight:bold;font-size:7.4px;text-anchor:middle;fill:#8b008b">F</text><text x="1111" y="930.12" style="font-family:'DejaVu Serif',serif;font-weight:bold;font-size:7.4px;text-anchor:middle;fill:#b8860b">G</text><rect x="1144.5" y="923.12" width="29.81" height="8" fill="#cfcfff"/><text x="1090" y="939.9" style="font-family:'DejaVu Serif',serif;font-weight:bold;font-size:7.4px;text-anchor:middle;fill:#000000">A</text><text x="1097" y="939.9" style="font-family:'DejaVu Serif',serif;font-weight:bold;font-size:7.4px;text-anchor:middle;fill:#008b8b">B</text><text x="1104" y="939.9" style="font-family:'DejaVu Serif',serif;font-weight:bold;font-size:7.4px;text-anchor:middle;fill:#00008b">D</text><text x="1111" y="939.9" style="font-family:'DejaVu Serif',serif;font-weight:bold;font-size:7.4px;text-anchor:middle;fill:#ff8c00">E</text><text x="1118" y="939.9" style="font-family:'DejaVu Serif',serif;font-weight:bold;font-size:7.4px;text-anchor:middle;fill:#8b008b">F</text><text x="1125" y="939.9" style="font-family:'DejaVu Serif',serif;font-weight:bold;font-size:7.4px;text-anchor:middle;fill:#b8860b">G</text><text x="1132" y="939.9" style="font-family:'DejaVu Serif',serif;font-weight:bold;font-size:7.4px;text-anchor:middle;fill:#ff0000">#</text><rect x="1144.5" y="932.9" width="20.74" height="8" fill="#cfcfff"/><text x="1090" y="949.68" style="font-family:'DejaVu Serif',serif;font-weight:bold;font-size:7.4px;text-anchor:middle;fill:#000000">A</text><text x="1097" y="949.68" style="font-family:'DejaVu Serif',serif;font-weight:bold;font-size:7.4px;text-anchor:middle;fill:#008b8b">B</text><text x="1104" y="949.68" style="font-family:'DejaVu Serif',serif;font-weight:bold;font-size:7.4px;text-anchor:middle;fill:#8b0000">C</text><text x="1111" y="949.68" style="font-family:'DejaVu Serif',serif;font-weight:bold;font-size:7.4px;text-anchor:middle;fill:#00008b">D</text><text x="1118" y="949.68" style="font-family:'DejaVu Serif',serif;font-weight:bold;font-size:7.4px;text-anchor:middle;fill:#8b008b">F</text><text x="1125" y="949.68" style="font-family:'DejaVu Serif',serif;font-weight:bold;font-size:7.4px;text-anchor:middle;fill:#b8860b">G</text><rect x="1144.5" y="942.68" width="17.63" height="8" fill="#cfcfff"/><text x="1090" y="959.46" style="font-family:'DejaVu Serif',serif;font-weight:bold;font-size:7.4px;text-anchor:middle;fill:#000000">A</text><text x="1097" y="959.46" style="font-family:'DejaVu Serif',serif;font-weight:bold;font-size:7.4px;text-anchor:middle;fill:#008b8b">B</text><text x="1104" y="959.46" style="font-family:'DejaVu Serif',serif;font-weight:bold;font-size:7.4px;text-anchor:middle;fill:#8b0000">C</text><text x="1111" y="959.46" style="font-family:'DejaVu Serif',serif;font-weight:bold;font-size:7.4px;text-anchor:middle;fill:#00008b">D</text><text x="1118" y="959.46" style="font-family:'DejaVu Serif',serif;font-weight:bold;font-size:7.4px;text-anchor:middle;fill:#8b008b">F</text><text x="1125" y="959.46" style="font-family:'DejaVu Serif',serif;font-weight:bold;font-size:7.4px;text-anchor:middle;fill:#b8860b">G</text><rect x="1144.5" y="952.46" width="8.55" height="8" fill="#cfcfff"/><text x="1090" y="969.24" style="font-family:'DejaVu Serif',serif;font-weight:bold;font-size:7.4px;text-anchor:middle;fill:#ff0000">O</text><text x="1097" y="969.24" style="font-family:'DejaVu Serif',serif;font-weight:bold;font-size:7.4px;text-anchor:middle;fill:#8b008b">F</text><rect x="1144.5" y="962.24" width="3.37" height="8" fill="#cfcfff"/><text x="1090" y="979.02" style="font-family:'DejaVu Serif',serif;font-weight:bold;font-size:7.4px;text-anchor:middle;fill:#000000">A</text><rect x="1144.5" y="972.02" width="0.78" height="8" fill="#cfcfff"/><path d="M1024.5 665.6H1033.5V890.7H1024.5" fill="none" stroke="#ff77ee" stroke-width="1.6"/><rect x="1031" y="822" width="5" height="10" fill="#000"/><rect x="1033" y="824" width="1" height="6" fill="#fff"/><path d="M1134.7 900.6H1143.7V949.8H1134.7" fill="none" stroke="#ff77ee" stroke-width="1.6"/><rect x="1141" y="921" width="5" height="10" fill="#000"/><rect x="1143" y="923" width="1" height="6" fill="#fff"/><path d="M1198 934.8l7.2 -7.2h58.61v14.4h-58.61z" fill="#000" shape-rendering="auto"/><text x="1206.7" y="938.5" style="fill:#fff">127'290250</text></svg><div class="sb" style="left:967px;top:1048px;width:308px;height:24px"><div class="sbb" style="left:0;height:24px"><i style="left:0px;border-right-color:#000;border-left-width:0;left:4px"></i></div><div class="sbb" style="left:292px;height:24px"><i style="left:6px;border-left-color:#000;border-right-width:0"></i></div><div class="sbb" style="left:287px;width:5px;height:24px"></div></div><div class="a" style="left:1282px;top:531px;width:321px;height:547px;background:#000;border-radius:9px 9px 5px 5px;box-shadow:inset 1px 0 0 rgba(255,255,255,.13),inset -1px 0 0 rgba(255,255,255,.13),inset 0 -1px 0 rgba(255,255,255,.13)"></div><div class="a" style="left:1286px;top:557px;width:313px;height:517px;border:1px solid rgba(255,255,255,.14);box-sizing:border-box"></div><div class="fr" style="left:1282px;top:532px;width:321px;height:27px;background:linear-gradient(#454545,#3b3b3b 14px,#000000 15px,#000000 26px);box-shadow:inset 0 1px 0 rgba(255,255,255,.22),inset 1px 0 0 rgba(255,255,255,.12),inset -1px 0 0 rgba(255,255,255,.12)"></div><svg class="a" style="left:1292px;top:536px" width="19" height="19" viewBox="0 0 19 19"><path d="M1 1L18 0.5V18L1 18.5Z" fill="#e8e8fa" stroke="#b8b8e0" stroke-width=".8"/><path d="M5 1V18M9.5 1V18M14 1V18M1 5H18M1 9.5H18M1 14H18" stroke="#cfcfee" stroke-width=".6"/><path d="M2 15C5 14 6 12 7.5 9C8.5 6 9.5 4.5 10.5 5.5C11.5 7.5 12.5 8.5 14 8.2L17 8" fill="none" stroke="#2c7fe0" stroke-width="1.7" stroke-linecap="round"/><path d="M2 7.5C4 6.5 5.5 5 7 4.8C8.5 5 9.5 8 11 8C13 7.5 15 4.5 17 2.5" fill="none" stroke="#3cb81e" stroke-width="1.7" stroke-linecap="round"/></svg><svg class="a" style="left:1313px;top:537px" width="17" height="17" viewBox="0 0 17 17"><circle cx="8.5" cy="8.5" r="7.3" fill="none" stroke="#9a9a9a" stroke-width="1.5"/><path d="M8.5 4.5V12.5M4.5 8.5H12.5" stroke="#a9a9a9" stroke-width="2"/></svg><div class="tt" style="left:1337px;top:532px;">DX MP DAILY (1...</div><div class="a" style="left:1527px;top:542px;width:14px;height:14px;background:#a6a6a6;border:1px solid #bdbdbd;box-sizing:border-box;font:11px/12px 'Liberation Sans',sans-serif;color:#000;text-align:center">L</div><svg class="a" style="left:1540px;top:537px" width="17" height="17" viewBox="0 0 17 17"><circle cx="8.5" cy="8.5" r="7.3" fill="none" stroke="#9a9a9a" stroke-width="1.5"/><path d="M4 7.5H13" stroke="#a9a9a9" stroke-width="2.4"/></svg><svg class="a" style="left:1560px;top:537px" width="17" height="17" viewBox="0 0 17 17"><circle cx="8.5" cy="8.5" r="7.3" fill="none" stroke="#9a9a9a" stroke-width="1.5"/><path d="M4.8 10L8.5 6.2L12.2 10" stroke="#a9a9a9" stroke-width="2.2" fill="none"/></svg><svg class="a" style="left:1580px;top:537px" width="17" height="17" viewBox="0 0 17 17"><circle cx="8.5" cy="8.5" r="7.3" fill="none" stroke="#9a9a9a" stroke-width="1.5"/><path d="M5.6 5.6L11.4 11.4M11.4 5.6L5.6 11.4" stroke="#a9a9a9" stroke-width="2.6"/></svg><div class="a" style="left:1288px;top:559px;width:309px;height:25px;background:#fff"></div><div class="tool" style="left:1288px;top:559px;width:309px"><span style="left:19px">DX 09-15</span><span style="left:83.7px">1 Min</span><svg style="left:0;top:0" width="309" height="25" viewBox="0 0 309 25"><path d="M10.5 5.5V19.5" stroke="#9a9a9a"/><path d="M11.5 5.5V19.5" stroke="#fff"/><path d="M67.7 11h6l-3 3.2z" fill="#000"/><path d="M115.3 11h6l-3 3.2z" fill="#000"/><path d="M128.5 5.5V19.5" stroke="#9a9a9a" stroke-width="1"/><path d="M129.5 5.5V19.5" stroke="#fff" stroke-width="1"/><path d="M135.7 4V20" stroke="#222" stroke-width="1.4"/><rect x="134" y="7" width="3.4" height="10.5" rx="1" fill="#5fd42a" stroke="#2b7d0a" stroke-width=".6"/><path d="M141 4V20" stroke="#222" stroke-width="1.4"/><rect x="139.3" y="7" width="3.4" height="10.5" rx="1" fill="#5fd42a" stroke="#2b7d0a" stroke-width=".6"/><path d="M146.2 4V20" stroke="#222" stroke-width="1.4"/><rect x="144.5" y="7" width="3.4" height="10.5" rx="1" fill="#e8352a" stroke="#8a1208" stroke-width=".6"/><path d="M151 11h6l-3 3.2z" fill="#000"/><g transform="translate(163,0)"><path d="M1 20.2L2.2 16.2L11.2 6.2L14 8.7L5 18.8Z" fill="#f7d52a" stroke="#8a6d10" stroke-width=".7"/><path d="M11.2 6.2L12.6 4.7L15.3 7.2L14 8.7Z" fill="#e8606a" stroke="#9a3038" stroke-width=".6"/><path d="M1 20.2L2.2 16.2L5 18.8Z" fill="#e8c9a0" stroke="#6a5030" stroke-width=".5"/><path d="M1 20.2L1.6 18.4L2.8 19.5Z" fill="#222"/></g><path d="M180 11h6l-3 3.2z" fill="#000"/><g transform="translate(191,0)"><path d="M1.4 20L4.6 16.2" stroke="#3a3a3a" stroke-width="2.4" stroke-linecap="round"/><path d="M4.6 16.2L5.8 14.8" stroke="#777" stroke-width="1.5"/><circle cx="7.7" cy="12.2" r="3.2" fill="#a9d2f2" stroke="#9aa0a8" stroke-width="1.4"/><circle cx="7.1" cy="11.6" r="1.4" fill="#dceefc"/><path d="M14.2 5.2V11.6M11 8.4H17.4" stroke="#10a818" stroke-width="2"/></g><g transform="translate(214,0)"><path d="M1.4 20L4.6 16.2" stroke="#a8a8a8" stroke-width="2.4" stroke-linecap="round"/><path d="M4.6 16.2L5.8 14.8" stroke="#bbb" stroke-width="1.5"/><circle cx="7.9" cy="12.6" r="3.2" fill="#d0d0d0" stroke="#c2c2c2" stroke-width="1.4"/><circle cx="7.3" cy="12" r="1.4" fill="#dedede"/><path d="M11.5 8H16.8" stroke="#b4b4b4" stroke-width="1.7"/></g><path d="M238.5 5.5V19.5" stroke="#9a9a9a" stroke-width="1"/><path d="M239.5 5.5V19.5" stroke="#fff" stroke-width="1"/><g transform="translate(244,0)"><path d="M1 5.5L1.8 14.8L4.6 12.2L9.5 19.5L11.8 18L7 10.8L10.6 10Z" fill="#fff" stroke="#222" stroke-width=".9" stroke-linejoin="round"/></g><path d="M261 11h6l-3 3.2z" fill="#000"/><defs><linearGradient id="og" x1="0" y1="0" x2="0" y2="1"><stop offset="0" stop-color="#eceae6"/><stop offset=".5" stop-color="#d9d7d1"/><stop offset="1" stop-color="#7e7e7c"/></linearGradient></defs><path d="M298 0h8a3 3 0 0 1 3 3v19a3 3 0 0 1 -3 3h-8z" fill="url(#og)"/><path d="M301 16.5h5" stroke="#000" stroke-width="1.2"/><path d="M300 18.5h6l-3 3.2z" fill="#000"/><path d="M303.5 22.2l3-3.2" stroke="#fff" stroke-width=".8"/></svg></div><svg style="left:1288px;top:584px;background:#fff" width="309" height="464" viewBox="1288 584 309 464" shape-rendering="crispEdges"><rect x="1544" y="589" width="1" height="430"/><rect x="1290" y="1019" width="255" height="1"/><text x="1294" y="600">TPO and Volume Profile Chart (v4)</text><path d="M1545 599.7h5" stroke="#000"/><text x="1552" y="602.9">97.700</text><path d="M1545 622.32h5" stroke="#000"/><text x="1552" y="625.52">97.600</text><path d="M1545 644.94h5" stroke="#000"/><text x="1552" y="648.14">97.500</text><path d="M1545 667.56h5" stroke="#000"/><text x="1552" y="670.76">97.400</text><path d="M1545 690.18h5" stroke="#000"/><text x="1552" y="693.38">97.300</text><path d="M1545 712.8h5" stroke="#000"/><text x="1552" y="716">97.200</text><path d="M1545 735.42h5" stroke="#000"/><text x="1552" y="738.62">97.100</text><path d="M1545 758.04h5" stroke="#000"/><text x="1552" y="761.24">97.000</text><path d="M1545 780.66h5" stroke="#000"/><text x="1552" y="783.86">96.900</text><path d="M1545 803.28h5" stroke="#000"/><text x="1552" y="806.48">96.800</text><path d="M1545 825.9h5" stroke="#000"/><text x="1552" y="829.1">96.700</text><path d="M1545 848.52h5" stroke="#000"/><text x="1552" y="851.72">96.600</text><path d="M1545 871.14h5" stroke="#000"/><text x="1552" y="874.34">96.500</text><path d="M1545 893.76h5" stroke="#000"/><text x="1552" y="896.96">96.400</text><path d="M1545 916.38h5" stroke="#000"/><text x="1552" y="919.58">96.300</text><path d="M1545 939h5" stroke="#000"/><text x="1552" y="942.2">96.200</text><path d="M1545 961.62h5" stroke="#000"/><text x="1552" y="964.82">96.100</text><path d="M1545 984.24h5" stroke="#000"/><text x="1552" y="987.44">96.000</text><path d="M1545 1006.86h5" stroke="#000"/><text x="1552" y="1010.06">95.900</text><text x="1290" y="1017">© 2015 NinjaTrader, LLC</text><text x="1324" y="1033">08/11</text><text x="1454" y="1033">08/12</text><text x="1291" y="1043" style="font-family:'DejaVu Sans',sans-serif;font-size:10.5px;fill:#1e8cc8">Final - www.fin-alg.com</text><rect x="1322" y="673" width="6" height="5" fill="#696969"/><rect x="1322" y="679.67" width="6" height="7" fill="#b8860b"/><rect x="1329" y="677.67" width="6" height="0.67" fill="#696969"/><rect x="1329" y="679.67" width="6" height="7" fill="#696969"/><rect x="1322" y="688.33" width="6" height="7.17" fill="#b8860b"/><rect x="1329" y="688.33" width="6" height="7.17" fill="#696969"/><rect x="1322" y="697" width="6" height="6" fill="#b8860b"/><rect x="1322" y="703" width="6" height="1.67" fill="#ff0000"/><rect x="1329" y="697" width="6" height="5" fill="#696969"/><rect x="1329" y="702" width="6" height="2.67" fill="#b8860b"/><rect x="1336" y="700.83" width="6" height="1.17" fill="#ff0000"/><rect x="1336" y="702" width="6" height="2.67" fill="#696969"/><rect x="1343" y="702" width="6" height="2.67" fill="#ff0000"/><rect x="1350" y="703" width="6" height="1.67" fill="#808000"/><rect x="1322" y="706.17" width="6" height="7.5" fill="#ff8c00"/><rect x="1329" y="706.17" width="6" height="7.5" fill="#8b008b"/><rect x="1336" y="706.17" width="6" height="7.5" fill="#b8860b"/><rect x="1343" y="706.17" width="6" height="7.5" fill="#696969"/><rect x="1350" y="706.17" width="6" height="7.5" fill="#ff0000"/><rect x="1357" y="706.17" width="6" height="7.5" fill="#808000"/><rect x="1364" y="711.33" width="6" height="1.17" fill="#a52a2a"/><rect x="1364" y="712.5" width="6" height="1.17" fill="#0000ff"/><rect x="1371" y="711.33" width="6" height="2.33" fill="#008000"/><rect x="1378" y="713" width="6" height="0.67" fill="#008000"/><rect x="1322" y="715" width="6" height="3.67" fill="#8b008b"/><rect x="1322" y="718.67" width="6" height="4.33" fill="#696969"/><rect x="1329" y="715" width="6" height="3.67" fill="#696969"/><rect x="1329" y="718.67" width="6" height="3.33" fill="#0000ff"/><rect x="1329" y="722" width="6" height="1" fill="#ff0000"/><rect x="1336" y="715.83" width="6" height="3.33" fill="#ff0000"/><rect x="1336" y="719.17" width="6" height="3.33" fill="#a52a2a"/><rect x="1343" y="715.83" width="6" height="3.33" fill="#808000"/><rect x="1343" y="719.17" width="6" height="2.83" fill="#008000"/><rect x="1350" y="715.83" width="6" height="2.83" fill="#0000ff"/><rect x="1350" y="719.17" width="6" height="2.83" fill="#000000"/><rect x="1357" y="715.83" width="6" height="2.83" fill="#a52a2a"/><rect x="1364" y="715.83" width="6" height="2.83" fill="#008000"/><rect x="1371" y="715.83" width="6" height="2.83" fill="#000000"/><rect x="1378" y="715" width="6" height="0.83" fill="#008000"/><rect x="1385" y="715" width="6" height="0.83" fill="#000000"/><rect x="1322" y="725" width="6" height="6.67" fill="#000000"/><rect x="1329" y="724" width="6" height="0.67" fill="#000000"/><rect x="1322" y="733.33" width="6" height="4.67" fill="#000000"/><rect x="1322" y="738" width="6" height="2.83" fill="#008b8b"/><rect x="1329" y="731.17" width="6" height="0.67" fill="#008b8b"/><rect x="1329" y="733.33" width="6" height="4.67" fill="#008b8b"/><rect x="1329" y="738" width="6" height="2.83" fill="#8b0000"/><rect x="1336" y="735.33" width="6" height="2.5" fill="#8b0000"/><rect x="1322" y="742.17" width="6" height="7.83" fill="#008b8b"/><rect x="1329" y="742.17" width="6" height="7.83" fill="#8b0000"/><rect x="1336" y="746.17" width="6" height="3.83" fill="#00008b"/><rect x="1343" y="746.83" width="6" height="0.67" fill="#8b008b"/><rect x="1343" y="748" width="6" height="2" fill="#ff8c00"/><rect x="1350" y="748" width="6" height="2" fill="#8b008b"/><rect x="1322" y="750.83" width="6" height="4.17" fill="#008b8b"/><rect x="1322" y="755" width="6" height="3" fill="#8b0000"/><rect x="1329" y="750.83" width="6" height="4.17" fill="#8b0000"/><rect x="1329" y="755" width="6" height="3" fill="#00008b"/><rect x="1336" y="750.83" width="6" height="4.17" fill="#00008b"/><rect x="1336" y="755" width="6" height="3" fill="#ff8c00"/><rect x="1343" y="750.83" width="6" height="4.17" fill="#ff8c00"/><rect x="1343" y="755" width="6" height="3" fill="#8b008b"/><rect x="1350" y="750.83" width="6" height="4.17" fill="#8b008b"/><rect x="1322" y="760" width="6" height="7.5" fill="#00008b"/><rect x="1329" y="760" width="6" height="7.5" fill="#ff8c00"/><rect x="1336" y="760" width="6" height="7.5" fill="#8b008b"/><rect x="1322" y="769.17" width="6" height="6.67" fill="#00008b"/><rect x="1329" y="769.17" width="6" height="6.67" fill="#ff8c00"/><rect x="1336" y="769.17" width="6" height="6.67" fill="#8b008b"/><rect x="1322" y="777.5" width="6" height="1.17" fill="#ff8c00"/><rect x="1322" y="779.17" width="6" height="6.67" fill="#8b008b"/><rect x="1329" y="777.67" width="6" height="0.67" fill="#8b008b"/><rect x="1329" y="780" width="6" height="5.83" fill="#b8860b"/><rect x="1322" y="787.5" width="6" height="7.17" fill="#8b008b"/><rect x="1329" y="787.5" width="6" height="7.17" fill="#b8860b"/><rect x="1322" y="796.17" width="6" height="0.83" fill="#8b008b"/><rect x="1322" y="797.5" width="6" height="6.67" fill="#b8860b"/><rect x="1329" y="796.17" width="6" height="0.83" fill="#b8860b"/><rect x="1322" y="805.33" width="6" height="7.67" fill="#b8860b"/><rect x="1322" y="814.17" width="6" height="7.5" fill="#b8860b"/><rect x="1329" y="819.17" width="6" height="2.5" fill="#696969"/><rect x="1336" y="820" width="6" height="1.67" fill="#808000"/><rect x="1322" y="823.33" width="6" height="7.5" fill="#b8860b"/><rect x="1329" y="823.33" width="6" height="7.5" fill="#696969"/><rect x="1336" y="823.33" width="6" height="7.5" fill="#ff0000"/><rect x="1343" y="825" width="6" height="5.83" fill="#808000"/><rect x="1350" y="830" width="6" height="0.83" fill="#a52a2a"/><rect x="1322" y="831.67" width="6" height="3.33" fill="#b8860b"/><rect x="1322" y="835" width="6" height="5" fill="#696969"/><rect x="1329" y="831.67" width="6" height="3" fill="#696969"/><rect x="1329" y="835" width="6" height="5" fill="#ff0000"/><rect x="1336" y="831.67" width="6" height="3" fill="#ff0000"/><rect x="1336" y="835" width="6" height="5" fill="#808000"/><rect x="1343" y="831.67" width="6" height="3" fill="#808000"/><rect x="1343" y="835" width="6" height="5" fill="#0000ff"/><rect x="1350" y="831.67" width="6" height="8.33" fill="#a52a2a"/><rect x="1357" y="834" width="6" height="0.5" fill="#a52a2a"/><rect x="1322" y="840.83" width="6" height="7.5" fill="#696969"/><rect x="1329" y="840.83" width="6" height="7.5" fill="#ff0000"/><rect x="1336" y="840.83" width="6" height="2.83" fill="#808000"/><rect x="1336" y="844.17" width="6" height="3.83" fill="#0000ff"/><rect x="1343" y="840.83" width="6" height="2.83" fill="#0000ff"/><rect x="1343" y="844.17" width="6" height="3.83" fill="#a52a2a"/><rect x="1350" y="840.83" width="6" height="2.83" fill="#a52a2a"/><rect x="1350" y="846.83" width="6" height="0.67" fill="#008000"/><rect x="1322" y="850" width="6" height="7.5" fill="#696969"/><rect x="1329" y="850" width="6" height="7.5" fill="#ff0000"/><rect x="1336" y="850" width="6" height="1.67" fill="#a52a2a"/><rect x="1336" y="852" width="6" height="5.5" fill="#008000"/><rect x="1343" y="850" width="6" height="1.67" fill="#008000"/><rect x="1322" y="859.17" width="6" height="7.5" fill="#696969"/><rect x="1329" y="859.17" width="6" height="2.5" fill="#ff0000"/><rect x="1329" y="862" width="6" height="4.67" fill="#008000"/><rect x="1336" y="859.17" width="6" height="2.5" fill="#008000"/><rect x="1336" y="863" width="6" height="3.67" fill="#000000"/><rect x="1343" y="865.67" width="6" height="0.67" fill="#008b8b"/><rect x="1322" y="868.33" width="6" height="7.5" fill="#696969"/><rect x="1329" y="868.33" width="6" height="7.5" fill="#008000"/><rect x="1336" y="868.33" width="6" height="7.5" fill="#000000"/><rect x="1343" y="868.33" width="6" height="7.5" fill="#008b8b"/><rect x="1322" y="877.5" width="6" height="4.17" fill="#696969"/><rect x="1322" y="882" width="6" height="3" fill="#000000"/><rect x="1329" y="877.5" width="6" height="4.17" fill="#000000"/><rect x="1329" y="882" width="6" height="3" fill="#008b8b"/><rect x="1336" y="877.5" width="6" height="4.17" fill="#008b8b"/><rect x="1336" y="882.5" width="6" height="2.5" fill="#8b0000"/><rect x="1343" y="877.5" width="6" height="4.17" fill="#00008b"/><rect x="1343" y="882.5" width="6" height="1.17" fill="#ff8c00"/><rect x="1343" y="883.67" width="6" height="1.33" fill="#00008b"/><rect x="1350" y="877.5" width="6" height="4.17" fill="#ff8c00"/><rect x="1350" y="883.17" width="6" height="0.67" fill="#ff8c00"/><rect x="1322" y="886.33" width="6" height="7.83" fill="#000000"/><rect x="1329" y="886.33" width="6" height="4.5" fill="#008b8b"/><rect x="1329" y="891.17" width="6" height="3" fill="#8b0000"/><rect x="1336" y="886.33" width="6" height="4.5" fill="#8b0000"/><rect x="1336" y="891.17" width="6" height="3" fill="#00008b"/><rect x="1343" y="886.33" width="6" height="4.5" fill="#00008b"/><rect x="1343" y="891.17" width="6" height="3" fill="#ff8c00"/><rect x="1350" y="886.33" width="6" height="4.5" fill="#ff8c00"/><rect x="1322" y="895.5" width="6" height="1.17" fill="#000000"/><rect x="1322" y="897" width="6" height="6" fill="#8b0000"/><rect x="1329" y="895.5" width="6" height="1.17" fill="#8b0000"/><rect x="1329" y="897" width="6" height="6" fill="#00008b"/><rect x="1336" y="895.5" width="6" height="1.17" fill="#00008b"/><rect x="1336" y="897" width="6" height="6" fill="#ff8c00"/><rect x="1343" y="895.5" width="6" height="1.17" fill="#ff8c00"/><rect x="1343" y="898" width="6" height="2.83" fill="#8b0000"/><rect x="1343" y="900.83" width="6" height="2.17" fill="#8b008b"/><rect x="1350" y="901.17" width="6" height="1.83" fill="#8b0000"/><rect x="1322" y="904.17" width="6" height="7.83" fill="#8b0000"/><rect x="1329" y="904.17" width="6" height="7.83" fill="#00008b"/><rect x="1336" y="904.17" width="6" height="7.83" fill="#ff8c00"/><rect x="1343" y="904.17" width="6" height="7.83" fill="#8b008b"/><rect x="1350" y="904.17" width="6" height="3.83" fill="#8b0000"/><rect x="1350" y="908" width="6" height="4" fill="#008b8b"/><rect x="1357" y="904.17" width="6" height="3.83" fill="#b8860b"/><rect x="1357" y="908" width="6" height="4" fill="#8b0000"/><rect x="1364" y="908" width="6" height="4" fill="#00008b"/><rect x="1371" y="908" width="6" height="4" fill="#b8860b"/><rect x="1378" y="908" width="6" height="0.67" fill="#ff0000"/><rect x="1322" y="913.33" width="6" height="7.5" fill="#8b0000"/><rect x="1329" y="913.33" width="6" height="7.5" fill="#00008b"/><rect x="1336" y="913.33" width="6" height="7.5" fill="#8b008b"/><rect x="1343" y="913.33" width="6" height="2.5" fill="#008b8b"/><rect x="1343" y="915.83" width="6" height="5" fill="#000000"/><rect x="1350" y="913.33" width="6" height="2.5" fill="#8b0000"/><rect x="1350" y="915.83" width="6" height="5" fill="#008b8b"/><rect x="1357" y="913.33" width="6" height="2.5" fill="#00008b"/><rect x="1357" y="915.83" width="6" height="5" fill="#8b0000"/><rect x="1364" y="913.33" width="6" height="2.5" fill="#ff8c00"/><rect x="1364" y="915.83" width="6" height="2.5" fill="#00008b"/><rect x="1364" y="919.17" width="6" height="1.67" fill="#ff8c00"/><rect x="1371" y="913.33" width="6" height="5.83" fill="#ff8c00"/><rect x="1371" y="919.17" width="6" height="1.67" fill="#8b008b"/><rect x="1378" y="913.17" width="6" height="0.5" fill="#b8860b"/><rect x="1378" y="916.67" width="6" height="2" fill="#8b008b"/><rect x="1385" y="917" width="6" height="0.5" fill="#b8860b"/><rect x="1322" y="922.17" width="6" height="7.5" fill="#8b0000"/><rect x="1329" y="922.17" width="6" height="7.5" fill="#8b008b"/><rect x="1336" y="922.17" width="6" height="0.5" fill="#000000"/><rect x="1336" y="922.67" width="6" height="7" fill="#b8860b"/><rect x="1343" y="922.17" width="6" height="7.5" fill="#000000"/><rect x="1350" y="922.17" width="6" height="3.67" fill="#008b8b"/><rect x="1350" y="925.83" width="6" height="3.33" fill="#ff8c00"/><rect x="1357" y="922.17" width="6" height="2" fill="#ff8c00"/><rect x="1357" y="924.17" width="6" height="1.67" fill="#8b0000"/><rect x="1357" y="925.83" width="6" height="2.83" fill="#8b008b"/><rect x="1364" y="922.17" width="6" height="1.5" fill="#8b008b"/><rect x="1364" y="924.17" width="6" height="1.67" fill="#ff8c00"/><rect x="1371" y="923.33" width="6" height="1.33" fill="#8b008b"/><rect x="1322" y="930.5" width="6" height="7" fill="#8b0000"/><rect x="1329" y="930.5" width="6" height="7" fill="#8b008b"/><rect x="1336" y="930.5" width="6" height="7" fill="#b8860b"/><rect x="1343" y="930.5" width="6" height="7" fill="#696969"/><rect x="1350" y="930.5" width="6" height="3.17" fill="#000000"/><rect x="1350" y="934.17" width="6" height="3.33" fill="#008000"/><rect x="1357" y="930.5" width="6" height="1.17" fill="#ff8c00"/><rect x="1357" y="934.17" width="6" height="2.5" fill="#000000"/><rect x="1364" y="930.5" width="6" height="1.17" fill="#8b008b"/><rect x="1322" y="939.17" width="6" height="4.5" fill="#8b0000"/><rect x="1322" y="943.67" width="6" height="3" fill="#b8860b"/><rect x="1329" y="939.17" width="6" height="4.5" fill="#b8860b"/><rect x="1329" y="943.67" width="6" height="3" fill="#696969"/><rect x="1336" y="939.17" width="6" height="4.5" fill="#696969"/><rect x="1336" y="943.67" width="6" height="3" fill="#ff0000"/><rect x="1343" y="939.17" width="6" height="2.5" fill="#008000"/><rect x="1343" y="941.67" width="6" height="2.5" fill="#a52a2a"/><rect x="1343" y="944.17" width="6" height="2.5" fill="#008000"/><rect x="1350" y="939.17" width="6" height="1.67" fill="#000000"/><rect x="1350" y="940.83" width="6" height="4.17" fill="#008000"/><rect x="1357" y="941.17" width="6" height="2.5" fill="#000000"/><rect x="1322" y="948" width="6" height="7.33" fill="#b8860b"/><rect x="1329" y="948" width="6" height="7.33" fill="#696969"/><rect x="1336" y="948" width="6" height="7.33" fill="#ff0000"/><rect x="1343" y="948" width="6" height="3.67" fill="#a52a2a"/><rect x="1343" y="952" width="6" height="3.33" fill="#0000ff"/><rect x="1350" y="948" width="6" height="4" fill="#008000"/><rect x="1350" y="952" width="6" height="3.33" fill="#a52a2a"/><rect x="1357" y="952" width="6" height="2.67" fill="#008000"/><rect x="1322" y="957" width="6" height="7.67" fill="#696969"/><rect x="1329" y="957" width="6" height="7.67" fill="#ff0000"/><rect x="1336" y="957" width="6" height="1.67" fill="#0000ff"/><rect x="1336" y="959.17" width="6" height="5.5" fill="#808000"/><rect x="1343" y="957" width="6" height="1.67" fill="#a52a2a"/><rect x="1343" y="959.17" width="6" height="5.5" fill="#0000ff"/><rect x="1350" y="957" width="6" height="1.67" fill="#008000"/><rect x="1350" y="959.17" width="6" height="4.67" fill="#a52a2a"/><rect x="1322" y="966.17" width="6" height="2.5" fill="#696969"/><rect x="1322" y="969.17" width="6" height="4.5" fill="#ff0000"/><rect x="1329" y="966.17" width="6" height="2.5" fill="#ff0000"/><rect x="1329" y="969.17" width="6" height="4.5" fill="#808000"/><rect x="1336" y="966.17" width="6" height="2.5" fill="#808000"/><rect x="1336" y="969.17" width="6" height="4.5" fill="#0000ff"/><rect x="1343" y="966.17" width="6" height="2.5" fill="#0000ff"/><rect x="1322" y="975" width="6" height="7.5" fill="#ff0000"/><rect x="1329" y="975" width="6" height="7.5" fill="#808000"/><rect x="1336" y="975" width="6" height="7.5" fill="#0000ff"/><rect x="1322" y="983.83" width="6" height="7.83" fill="#ff0000"/><rect x="1322" y="993" width="6" height="2.83" fill="#ff0000"/><path d="M1391.5 877H1401.5V985.83H1391.5" fill="none" stroke="#ff77ee" stroke-width="1.6"/><rect x="1399" y="974" width="5" height="3"/><rect x="1452" y="892" width="6" height="1" fill="#8b008b"/><rect x="1452" y="893.33" width="6" height="1" fill="#ff8c00"/><rect x="1452" y="895" width="6" height="7.83" fill="#ff8c00"/><rect x="1452" y="898.83" width="6" height="0.67" fill="#ff0000"/><rect x="1452" y="904" width="6" height="0.67" fill="#b8860b"/><rect x="1459" y="892.83" width="6" height="0.67" fill="#8b008b"/><rect x="1459" y="895" width="6" height="7.83" fill="#8b008b"/><rect x="1466" y="898.83" width="6" height="4" fill="#b8860b"/><rect x="1473" y="901.17" width="6" height="0.67" fill="#ff0000"/><path d="M1479.7 892H1489.7V898.83H1479.7" fill="none" stroke="#ff77ee" stroke-width="1.6"/><rect x="1487" y="897" width="5" height="3"/><path d="M1402 683.5h1M1402 684.5h1M1402 685.5h1M1402 686.5h1M1402 687.5h2M1402 688.5h2M1402 690.5h2M1402 691.5h2M1402 692.5h2M1402 693.5h3M1402 694.5h3M1402 695.5h4M1402 696.5h3M1402 698.5h3M1402 699.5h4M1402 700.5h3M1402 701.5h4M1402 702.5h3M1402 703.5h4M1402 704.5h4M1402 706.5h5M1402 707.5h6M1402 708.5h5M1402 709.5h7M1402 710.5h6M1402 711.5h7M1402 712.5h5M1402 714.5h5M1402 715.5h5M1402 716.5h4M1402 717.5h5M1402 718.5h4M1402 719.5h4M1402 720.5h3M1402 721.5h1M1402 727.5h1M1402 728.5h1M1402 729.5h1M1402 731.5h1M1402 732.5h1M1402 733.5h1M1402 734.5h1M1402 735.5h1M1402 736.5h1M1402 737.5h2M1402 739.5h2M1402 740.5h2M1402 741.5h2M1402 742.5h2M1402 743.5h3M1402 744.5h3M1402 745.5h3M1402 747.5h3M1402 748.5h3M1402 749.5h5M1402 750.5h4M1402 751.5h4M1402 752.5h4M1402 753.5h5M1402 755.5h5M1402 756.5h4M1402 757.5h5M1402 758.5h4M1402 759.5h5M1402 760.5h4M1402 761.5h4M1402 763.5h4M1402 764.5h3M1402 765.5h4M1402 766.5h3M1402 767.5h5M1402 768.5h6M1402 769.5h7M1402 771.5h7M1402 772.5h5M1402 773.5h4M1402 774.5h3M1402 775.5h2M1402 776.5h2M1402 777.5h3M1402 778.5h3M1402 780.5h4M1402 781.5h5M1402 782.5h5M1402 783.5h6M1402 784.5h4M1402 785.5h4M1402 786.5h4M1402 788.5h3M1402 789.5h3M1402 790.5h2M1402 791.5h2M1402 792.5h1M1402 793.5h1M1402 794.5h1M1402 796.5h1M1402 797.5h1M1402 798.5h1M1402 799.5h2M1402 800.5h2M1402 801.5h2M1402 802.5h2M1402 804.5h2M1402 805.5h3M1402 806.5h2M1402 807.5h3M1402 808.5h3M1402 809.5h3M1402 810.5h3M1402 812.5h3M1402 813.5h3M1402 814.5h3M1402 815.5h4M1402 816.5h3M1402 817.5h4M1402 818.5h3M1402 820.5h4M1402 821.5h6M1402 822.5h6M1402 823.5h8M1402 824.5h7M1402 825.5h11M1402 826.5h10M1402 828.5h8M1402 829.5h8M1402 830.5h6M1402 831.5h9M1402 832.5h8M1402 833.5h9M1402 834.5h9M1402 835.5h9M1402 837.5h11M1402 838.5h9M1402 839.5h9M1402 840.5h6M1402 841.5h6M1402 842.5h6M1402 843.5h6M1402 845.5h6M1402 846.5h5M1402 847.5h7M1402 848.5h6M1402 849.5h7M1402 850.5h6M1402 851.5h6M1402 853.5h7M1402 854.5h6M1402 855.5h7M1402 856.5h5M1402 857.5h5M1402 858.5h3M1402 859.5h3M1402 861.5h4M1402 862.5h4M1402 863.5h7M1402 864.5h6M1402 865.5h8M1402 866.5h7M1402 867.5h8M1402 869.5h9M1402 870.5h8M1402 871.5h11M1402 872.5h8M1402 873.5h11M1402 874.5h11M1402 875.5h14M1402 877.5h16M1402 878.5h14M1402 879.5h17M1402 880.5h14M1402 881.5h18M1402 882.5h14M1402 883.5h14M1402 885.5h14M1402 886.5h13M1402 887.5h15M1402 888.5h11M1402 889.5h13M1402 890.5h12M1402 891.5h14M1402 892.5h14M1402 894.5h11M1402 895.5h13M1402 896.5h10M1402 897.5h14M1402 898.5h13M1402 899.5h13M1402 900.5h13M1402 902.5h13M1402 903.5h17M1402 904.5h15M1402 905.5h20M1402 906.5h18M1402 907.5h21M1402 908.5h23M1402 910.5h21M1402 911.5h25M1402 912.5h20M1402 913.5h29M1402 914.5h27M1402 915.5h30M1402 916.5h28M1402 918.5h24M1402 919.5h29M1402 920.5h24M1402 921.5h29M1402 922.5h23M1402 923.5h26M1402 924.5h28M1402 926.5h25M1402 927.5h29M1402 928.5h22M1402 929.5h30M1402 930.5h25M1402 931.5h25M1402 932.5h21M1402 934.5h19M1402 935.5h23M1402 936.5h20M1402 937.5h25M1402 938.5h20M1402 939.5h24M1402 940.5h23M1402 942.5h22M1402 943.5h23M1402 944.5h17M1402 945.5h22M1402 946.5h18M1402 947.5h21M1402 948.5h19M1402 949.5h16M1402 951.5h19M1402 952.5h16M1402 953.5h21M1402 954.5h17M1402 955.5h20M1402 956.5h20M1402 957.5h22M1402 959.5h26M1402 960.5h20M1402 961.5h23M1402 962.5h18M1402 963.5h21M1402 964.5h19M1402 965.5h16M1402 967.5h18M1402 968.5h17M1402 969.5h24M1402 970.5h21M1402 971.5h24M1402 972.5h23M1402 973.5h27M1402 975.5h34M1402 976.5h23M1402 977.5h23M1402 978.5h16M1402 979.5h17M1402 980.5h13M1402 981.5h12M1402 983.5h12M1402 984.5h11M1402 985.5h13M1402 986.5h9M1402 987.5h8M1402 988.5h6M1402 989.5h6M1402 991.5h7M1402 992.5h5M1402 993.5h4M1402 994.5h2M1490 891.5h1M1490 892.5h17M1490 894.5h21M1490 895.5h22M1490 896.5h21M1490 897.5h34M1490 898.5h29M1490 899.5h20M1490 900.5h12M1490 902.5h4M1490 903.5h2" stroke="#cfcfff" stroke-width="1" fill="none"/><path d="M1289 695.5h1M1289 696.5h1M1289 698.5h2M1289 699.5h3M1289 700.5h3M1289 701.5h4M1289 702.5h4M1289 703.5h6M1289 704.5h6M1289 706.5h7M1289 707.5h8M1289 708.5h8M1289 709.5h12M1289 710.5h12M1289 711.5h15M1289 712.5h11M1289 714.5h8M1289 715.5h6M1289 716.5h4M1289 717.5h2M1289 718.5h1" stroke="#e2e2ff" stroke-width="1" fill="none"/><path d="M1545 899.9l7.2 -7.2h35.82v14.4h-35.82z" fill="#000" shape-rendering="auto"/><text x="1553.7" y="903.6" style="fill:#fff">96.360</text></svg><div class="sb" style="left:1288px;top:1048px;width:309px;height:24px"><div class="sbb" style="left:0;height:24px"><i style="left:0px;border-right-color:#000;border-left-width:0;left:4px"></i></div><div class="sbb" style="left:293px;height:24px"><i style="left:6px;border-left-color:#000;border-right-width:0"></i></div><div class="sbb" style="left:288px;width:5px;height:24px"></div></div><div class="a" style="left:1599px;top:531px;width:320px;height:547px;background:#000;border-radius:9px 9px 5px 5px;box-shadow:inset 1px 0 0 rgba(255,255,255,.13),inset -1px 0 0 rgba(255,255,255,.13),inset 0 -1px 0 rgba(255,255,255,.13)"></div><div class="a" style="left:1603px;top:557px;width:312px;height:517px;border:1px solid rgba(255,255,255,.14);box-sizing:border-box"></div><div class="fr" style="left:1599px;top:532px;width:320px;height:27px;background:linear-gradient(#454545,#3b3b3b 14px,#000000 15px,#000000 26px);box-shadow:inset 0 1px 0 rgba(255,255,255,.22),inset 1px 0 0 rgba(255,255,255,.12),inset -1px 0 0 rgba(255,255,255,.12)"></div><svg class="a" style="left:1609px;top:536px" width="19" height="19" viewBox="0 0 19 19"><path d="M1 1L18 0.5V18L1 18.5Z" fill="#e8e8fa" stroke="#b8b8e0" stroke-width=".8"/><path d="M5 1V18M9.5 1V18M14 1V18M1 5H18M1 9.5H18M1 14H18" stroke="#cfcfee" stroke-width=".6"/><path d="M2 15C5 14 6 12 7.5 9C8.5 6 9.5 4.5 10.5 5.5C11.5 7.5 12.5 8.5 14 8.2L17 8" fill="none" stroke="#2c7fe0" stroke-width="1.7" stroke-linecap="round"/><path d="M2 7.5C4 6.5 5.5 5 7 4.8C8.5 5 9.5 8 11 8C13 7.5 15 4.5 17 2.5" fill="none" stroke="#3cb81e" stroke-width="1.7" stroke-linecap="round"/></svg><svg class="a" style="left:1630px;top:537px" width="17" height="17" viewBox="0 0 17 17"><circle cx="8.5" cy="8.5" r="7.3" fill="none" stroke="#9a9a9a" stroke-width="1.5"/><path d="M8.5 4.5V12.5M4.5 8.5H12.5" stroke="#a9a9a9" stroke-width="2"/></svg><div class="tt" style="left:1654px;top:532px;">6E MP DAILY (1 ...</div><div class="a" style="left:1843px;top:542px;width:14px;height:14px;background:#a6a6a6;border:1px solid #bdbdbd;box-sizing:border-box;font:11px/12px 'Liberation Sans',sans-serif;color:#000;text-align:center">L</div><svg class="a" style="left:1856px;top:537px" width="17" height="17" viewBox="0 0 17 17"><circle cx="8.5" cy="8.5" r="7.3" fill="none" stroke="#9a9a9a" stroke-width="1.5"/><path d="M4 7.5H13" stroke="#a9a9a9" stroke-width="2.4"/></svg><svg class="a" style="left:1876px;top:537px" width="17" height="17" viewBox="0 0 17 17"><circle cx="8.5" cy="8.5" r="7.3" fill="none" stroke="#9a9a9a" stroke-width="1.5"/><path d="M4.8 10L8.5 6.2L12.2 10" stroke="#a9a9a9" stroke-width="2.2" fill="none"/></svg><svg class="a" style="left:1896px;top:537px" width="17" height="17" viewBox="0 0 17 17"><circle cx="8.5" cy="8.5" r="7.3" fill="none" stroke="#9a9a9a" stroke-width="1.5"/><path d="M5.6 5.6L11.4 11.4M11.4 5.6L5.6 11.4" stroke="#a9a9a9" stroke-width="2.6"/></svg><div class="a" style="left:1605px;top:559px;width:308px;height:25px;background:#fff"></div><div class="tool" style="left:1605px;top:559px;width:308px"><span style="left:19px">6E 09-15</span><span style="left:82.3px">1 Min</span><svg style="left:0;top:0" width="308" height="25" viewBox="0 0 308 25"><path d="M10.5 5.5V19.5" stroke="#9a9a9a"/><path d="M11.5 5.5V19.5" stroke="#fff"/><path d="M66.6 11h6l-3 3.2z" fill="#000"/><path d="M114.3 11h6l-3 3.2z" fill="#000"/><path d="M127.2 5.5V19.5" stroke="#9a9a9a" stroke-width="1"/><path d="M128.2 5.5V19.5" stroke="#fff" stroke-width="1"/><path d="M134.4 4V20" stroke="#222" stroke-width="1.4"/><rect x="132.7" y="7" width="3.4" height="10.5" rx="1" fill="#5fd42a" stroke="#2b7d0a" stroke-width=".6"/><path d="M139.7 4V20" stroke="#222" stroke-width="1.4"/><rect x="138" y="7" width="3.4" height="10.5" rx="1" fill="#5fd42a" stroke="#2b7d0a" stroke-width=".6"/><path d="M144.9 4V20" stroke="#222" stroke-width="1.4"/><rect x="143.2" y="7" width="3.4" height="10.5" rx="1" fill="#e8352a" stroke="#8a1208" stroke-width=".6"/><path d="M149.7 11h6l-3 3.2z" fill="#000"/><g transform="translate(161.7,0)"><path d="M1 20.2L2.2 16.2L11.2 6.2L14 8.7L5 18.8Z" fill="#f7d52a" stroke="#8a6d10" stroke-width=".7"/><path d="M11.2 6.2L12.6 4.7L15.3 7.2L14 8.7Z" fill="#e8606a" stroke="#9a3038" stroke-width=".6"/><path d="M1 20.2L2.2 16.2L5 18.8Z" fill="#e8c9a0" stroke="#6a5030" stroke-width=".5"/><path d="M1 20.2L1.6 18.4L2.8 19.5Z" fill="#222"/></g><path d="M178.7 11h6l-3 3.2z" fill="#000"/><g transform="translate(189.7,0)"><path d="M1.4 20L4.6 16.2" stroke="#3a3a3a" stroke-width="2.4" stroke-linecap="round"/><path d="M4.6 16.2L5.8 14.8" stroke="#777" stroke-width="1.5"/><circle cx="7.7" cy="12.2" r="3.2" fill="#a9d2f2" stroke="#9aa0a8" stroke-width="1.4"/><circle cx="7.1" cy="11.6" r="1.4" fill="#dceefc"/><path d="M14.2 5.2V11.6M11 8.4H17.4" stroke="#10a818" stroke-width="2"/></g><g transform="translate(212.7,0)"><path d="M1.4 20L4.6 16.2" stroke="#a8a8a8" stroke-width="2.4" stroke-linecap="round"/><path d="M4.6 16.2L5.8 14.8" stroke="#bbb" stroke-width="1.5"/><circle cx="7.9" cy="12.6" r="3.2" fill="#d0d0d0" stroke="#c2c2c2" stroke-width="1.4"/><circle cx="7.3" cy="12" r="1.4" fill="#dedede"/><path d="M11.5 8H16.8" stroke="#b4b4b4" stroke-width="1.7"/></g><path d="M237.2 5.5V19.5" stroke="#9a9a9a" stroke-width="1"/><path d="M238.2 5.5V19.5" stroke="#fff" stroke-width="1"/><g transform="translate(242.7,0)"><path d="M1 5.5L1.8 14.8L4.6 12.2L9.5 19.5L11.8 18L7 10.8L10.6 10Z" fill="#fff" stroke="#222" stroke-width=".9" stroke-linejoin="round"/></g><path d="M259.7 11h6l-3 3.2z" fill="#000"/><defs><linearGradient id="og" x1="0" y1="0" x2="0" y2="1"><stop offset="0" stop-color="#eceae6"/><stop offset=".5" stop-color="#d9d7d1"/><stop offset="1" stop-color="#7e7e7c"/></linearGradient></defs><path d="M297 0h8a3 3 0 0 1 3 3v19a3 3 0 0 1 -3 3h-8z" fill="url(#og)"/><path d="M300 16.5h5" stroke="#000" stroke-width="1.2"/><path d="M299 18.5h6l-3 3.2z" fill="#000"/><path d="M302.5 22.2l3-3.2" stroke="#fff" stroke-width=".8"/></svg></div><svg style="left:1605px;top:584px;background:#fff" width="308" height="464" viewBox="1605 584 308 464" shape-rendering="crispEdges"><rect x="1860" y="589" width="1" height="430"/><rect x="1607" y="1019" width="254" height="1"/><text x="1611" y="600">TPO and Volume Profile Chart (v4)</text><path d="M1861 612.5h5" stroke="#000"/><text x="1868" y="615.7">1.1220</text><path d="M1861 652.4h5" stroke="#000"/><text x="1868" y="655.6">1.1200</text><path d="M1861 692.3h5" stroke="#000"/><text x="1868" y="695.5">1.1180</text><path d="M1861 732.2h5" stroke="#000"/><text x="1868" y="735.4">1.1160</text><path d="M1861 772.1h5" stroke="#000"/><text x="1868" y="775.3">1.1140</text><path d="M1861 812h5" stroke="#000"/><text x="1868" y="815.2">1.1120</text><path d="M1861 851.9h5" stroke="#000"/><text x="1868" y="855.1">1.1100</text><path d="M1861 891.8h5" stroke="#000"/><text x="1868" y="895">1.1080</text><path d="M1861 931.7h5" stroke="#000"/><text x="1868" y="934.9">1.1060</text><path d="M1861 971.6h5" stroke="#000"/><text x="1868" y="974.8">1.1040</text><path d="M1861 1011.5h5" stroke="#000"/><text x="1868" y="1014.7">1.1020</text><text x="1607" y="1017">© 2015 NinjaTrader, LLC</text><text x="1610" y="1033">08/11</text><text x="1750" y="1033">08/12</text><text x="1608" y="1043" style="font-family:'DejaVu Sans',sans-serif;font-size:10.5px;fill:#1e8cc8">Final - www.fin-alg.com</text><rect x="1608" y="950.98" width="6" height="1.8" fill="#008b8b"/><rect x="1615" y="950.98" width="6" height="1.8" fill="#8b0000"/><rect x="1622" y="950.98" width="6" height="1.8" fill="#ff8c00"/><rect x="1629" y="950.98" width="6" height="1.8" fill="#8b008b"/><rect x="1636" y="950.98" width="6" height="1.8" fill="#b8860b"/><rect x="1643" y="950.98" width="6" height="1.8" fill="#696969"/><path d="M1684.6 626.88H1694.6V769.75H1684.6" fill="none" stroke="#ff77ee" stroke-width="1.6"/><rect x="1692" y="642" width="5" height="4"/><path d="M1608 612.5h6M1608 614.5h6M1608 616.5h6M1608 618.5h6M1608 620.5h6M1608 622.5h6M1608 624.5h6M1608 626.5h6M1608 628.5h6M1608 630.5h6M1608 632.5h6M1608 634.5h6M1608 636.5h6M1608 638.5h6M1608 640.5h6M1608 642.5h6M1615 644.5h6M1615 646.5h6M1615 648.5h6M1615 650.5h6M1615 652.5h6M1615 654.5h6M1615 656.5h6M1622 658.5h6M1622 660.5h6M1622 662.5h6M1622 664.5h6M1622 666.5h6M1622 668.5h6M1622 670.5h6M1622 672.5h6M1622 674.5h6M1622 676.5h6M1643 723.5h6M1615 739.5h6M1615 741.5h6M1615 743.5h6M1615 745.5h6M1615 747.5h6M1615 749.5h6M1615 751.5h6M1615 753.5h6M1615 755.5h6M1615 757.5h6M1615 759.5h6M1615 761.5h6M1615 763.5h6M1615 765.5h6M1615 767.5h6M1615 769.5h6M1615 771.5h6M1615 773.5h6M1615 775.5h6M1615 777.5h6M1615 779.5h6M1615 781.5h6M1615 783.5h6M1615 785.5h6M1615 787.5h6M1615 789.5h6M1608 957.5h6M1615 923.5h6M1615 925.5h6M1615 927.5h6M1615 929.5h6M1615 931.5h6M1615 933.5h6M1615 935.5h6M1615 937.5h6M1615 939.5h6M1615 941.5h6M1615 943.5h6M1629 945.5h6M1748 721.5h6M1790 731.5h6" stroke="#ff0000" stroke-width="1" fill="none"/><path d="M1608 644.5h6M1608 646.5h6M1608 648.5h6M1608 650.5h6M1608 652.5h6M1608 654.5h6M1608 656.5h6M1615 658.5h6M1615 660.5h6M1615 662.5h6M1615 664.5h6M1615 666.5h6M1615 668.5h6M1615 670.5h6M1615 672.5h6M1615 674.5h6M1615 676.5h6M1615 678.5h6M1622 680.5h6M1622 682.5h6M1629 684.5h6M1629 686.5h6M1629 688.5h6M1629 690.5h6M1608 727.5h6M1608 729.5h6M1608 731.5h6M1608 733.5h6M1608 735.5h6M1608 737.5h6M1608 739.5h6M1608 741.5h6M1608 743.5h6M1608 745.5h6M1608 747.5h6M1608 749.5h6M1608 751.5h6M1608 753.5h6M1608 755.5h6M1608 757.5h6M1608 759.5h6M1608 761.5h6M1608 763.5h6M1608 765.5h6M1608 767.5h6M1608 769.5h6M1608 771.5h6M1608 773.5h6M1608 775.5h6M1608 777.5h6M1608 779.5h6M1608 781.5h6M1608 783.5h6M1608 785.5h6M1608 787.5h6M1608 789.5h6M1608 791.5h6M1608 793.5h6M1608 795.5h6M1608 797.5h6M1615 799.5h6M1615 801.5h6M1615 803.5h6M1615 805.5h6M1615 807.5h6M1615 809.5h6M1615 811.5h6M1608 919.5h6M1608 921.5h6M1608 923.5h6M1608 925.5h6M1608 927.5h6M1608 929.5h6M1608 931.5h6M1608 933.5h6M1608 935.5h6M1608 937.5h6M1608 939.5h6M1608 941.5h6M1608 943.5h6M1615 967.5h6M1615 969.5h6M1615 971.5h6M1615 973.5h6M1615 975.5h6M1615 977.5h6M1615 979.5h6M1622 945.5h6M1622 947.5h6M1622 949.5h6M1622 965.5h6M1629 963.5h6M1636 961.5h6M1650 959.5h6M1657 953.5h6M1657 955.5h6M1657 957.5h6" stroke="#696969" stroke-width="1" fill="none"/><path d="M1608 658.5h6M1608 660.5h6M1608 662.5h6M1608 664.5h6M1608 666.5h6M1608 668.5h6M1608 670.5h6M1608 672.5h6M1608 674.5h6M1608 676.5h6M1608 678.5h6M1615 680.5h6M1615 682.5h6M1622 684.5h6M1622 686.5h6M1622 688.5h6M1622 690.5h6M1622 692.5h6M1622 693.5h6M1622 695.5h6M1636 717.5h6M1636 719.5h6M1636 721.5h6M1636 723.5h6M1636 725.5h6M1636 727.5h6M1636 729.5h6M1636 731.5h6M1636 733.5h6M1650 717.5h6M1657 709.5h6M1657 711.5h6M1657 713.5h6M1657 715.5h6M1657 717.5h6M1671 703.5h6M1671 705.5h6M1678 707.5h6M1608 799.5h6M1608 801.5h6M1608 803.5h6M1608 805.5h6M1608 807.5h6M1608 809.5h6M1608 811.5h6M1608 813.5h6M1608 815.5h6M1608 817.5h6M1608 819.5h6M1608 821.5h6M1608 823.5h6M1608 825.5h6M1608 827.5h6M1608 829.5h6M1608 831.5h6M1608 833.5h6M1608 835.5h6M1608 837.5h6M1615 839.5h6M1615 841.5h6M1615 843.5h6M1615 845.5h6M1615 847.5h6M1615 849.5h6M1622 851.5h6M1622 853.5h6M1622 855.5h6M1629 857.5h6M1608 967.5h6M1608 969.5h6M1608 971.5h6M1608 973.5h6M1608 975.5h6M1608 977.5h6M1608 979.5h6M1608 981.5h6M1608 983.5h6M1608 985.5h6M1608 987.5h6M1608 989.5h6M1608 991.5h6M1608 993.5h6M1615 945.5h6M1615 947.5h6M1615 949.5h6M1615 965.5h6M1622 851.5h6M1622 853.5h6M1622 855.5h6M1622 963.5h6M1629 857.5h6M1629 961.5h6M1643 959.5h6M1650 953.5h6M1650 955.5h6M1650 957.5h6M1783 725.5h6M1783 731.5h6M1790 727.5h6M1790 729.5h6" stroke="#b8860b" stroke-width="1" fill="none"/><path d="M1608 680.5h6M1608 682.5h6M1615 684.5h6M1615 686.5h6M1615 688.5h6M1615 690.5h6M1615 692.5h6M1615 693.5h6M1615 695.5h6M1615 697.5h6M1615 699.5h6M1615 701.5h6M1615 703.5h6M1622 703.5h6M1622 705.5h6M1629 707.5h6M1629 709.5h6M1629 711.5h6M1629 713.5h6M1629 715.5h6M1629 717.5h6M1650 697.5h6M1657 690.5h6M1657 701.5h6M1657 703.5h6M1664 693.5h6M1664 695.5h6M1664 703.5h6M1664 705.5h6M1671 707.5h6M1608 839.5h6M1608 841.5h6M1608 843.5h6M1608 845.5h6M1608 847.5h6M1608 849.5h6M1615 851.5h6M1615 853.5h6M1615 855.5h6M1622 857.5h6M1622 859.5h6M1622 861.5h6M1622 863.5h6M1622 865.5h6M1622 867.5h6M1622 869.5h6M1622 871.5h6M1622 873.5h6M1608 945.5h6M1608 947.5h6M1608 949.5h6M1615 903.5h6M1622 901.5h6M1622 961.5h6M1629 875.5h6M1629 897.5h6M1629 899.5h6M1636 877.5h6M1636 879.5h6M1636 881.5h6M1636 883.5h6M1636 885.5h6M1636 887.5h6M1636 889.5h6M1636 895.5h6M1636 959.5h6M1643 891.5h6M1643 893.5h6M1643 953.5h6M1643 955.5h6M1643 957.5h6M1755 739.5h6M1762 737.5h6M1769 733.5h6M1769 735.5h6M1776 725.5h6M1776 731.5h6M1783 727.5h6M1783 729.5h6" stroke="#8b008b" stroke-width="1" fill="none"/><path d="M1608 684.5h6M1608 686.5h6M1608 688.5h6M1608 690.5h6M1608 692.5h6M1608 693.5h6M1608 695.5h6M1608 697.5h6M1608 699.5h6M1608 701.5h6M1608 703.5h6M1608 705.5h6M1608 707.5h6M1608 709.5h6M1608 711.5h6M1608 713.5h6M1608 715.5h6M1608 717.5h6M1608 719.5h6M1608 721.5h6M1608 723.5h6M1608 725.5h6M1629 717.5h6M1629 719.5h6M1629 721.5h6M1629 723.5h6M1629 725.5h6M1636 656.5h6M1636 697.5h6M1636 699.5h6M1636 701.5h6M1636 703.5h6M1643 703.5h6M1643 705.5h6M1643 709.5h6M1643 711.5h6M1643 713.5h6M1643 715.5h6M1643 717.5h6M1650 695.5h6M1650 707.5h6M1615 727.5h6M1615 729.5h6M1615 731.5h6M1615 733.5h6M1629 737.5h6M1636 739.5h6M1636 741.5h6M1636 743.5h6M1643 745.5h6M1643 747.5h6M1643 749.5h6M1643 751.5h6M1643 753.5h6M1608 875.5h6M1615 877.5h6M1615 879.5h6M1615 881.5h6M1615 883.5h6M1615 885.5h6M1615 887.5h6M1615 889.5h6M1622 891.5h6M1622 893.5h6M1622 895.5h6M1622 897.5h6M1622 899.5h6M1622 953.5h6M1622 955.5h6M1622 957.5h6M1748 733.5h6M1748 735.5h6M1748 737.5h6M1755 731.5h6M1762 727.5h6M1762 729.5h6" stroke="#8b0000" stroke-width="1" fill="none"/><path d="M1615 628.5h6M1615 630.5h6M1615 632.5h6M1615 634.5h6M1615 636.5h6M1615 638.5h6M1615 640.5h6M1615 642.5h6M1622 644.5h6M1622 646.5h6M1622 648.5h6M1622 650.5h6M1622 652.5h6M1622 654.5h6M1622 656.5h6M1615 791.5h6M1615 793.5h6M1622 771.5h6M1622 773.5h6M1622 775.5h6M1622 777.5h6M1622 779.5h6M1622 781.5h6M1622 783.5h6M1622 785.5h6M1622 787.5h6M1622 789.5h6M1615 921.5h6M1622 923.5h6M1622 925.5h6M1622 927.5h6M1622 929.5h6M1622 931.5h6M1622 933.5h6M1622 935.5h6M1622 937.5h6M1622 939.5h6M1622 941.5h6M1622 943.5h6M1636 945.5h6" stroke="#808000" stroke-width="1" fill="none"/><path d="M1615 703.5h6M1615 705.5h6M1622 707.5h6M1622 709.5h6M1622 711.5h6M1622 713.5h6M1622 715.5h6M1622 717.5h6M1622 719.5h6M1622 721.5h6M1622 723.5h6M1622 725.5h6M1643 697.5h6M1650 701.5h6M1650 703.5h6M1657 693.5h6M1657 695.5h6M1657 703.5h6M1657 705.5h6M1664 707.5h6M1608 851.5h6M1608 853.5h6M1608 855.5h6M1615 857.5h6M1615 859.5h6M1615 861.5h6M1615 863.5h6M1615 865.5h6M1615 867.5h6M1615 869.5h6M1615 871.5h6M1615 873.5h6M1629 727.5h6M1629 729.5h6M1629 731.5h6M1629 733.5h6M1636 735.5h6M1643 737.5h6M1650 739.5h6M1650 741.5h6M1650 743.5h6M1650 755.5h6M1650 757.5h6M1657 745.5h6M1657 747.5h6M1657 749.5h6M1657 751.5h6M1657 753.5h6M1615 961.5h6M1615 963.5h6M1622 875.5h6M1629 877.5h6M1629 879.5h6M1629 881.5h6M1629 883.5h6M1629 885.5h6M1629 887.5h6M1629 889.5h6M1629 895.5h6M1629 959.5h6M1636 891.5h6M1636 893.5h6M1636 953.5h6M1636 955.5h6M1636 957.5h6M1748 739.5h6M1748 741.5h6M1755 737.5h6M1762 733.5h6M1762 735.5h6M1769 725.5h6M1769 731.5h6M1776 727.5h6M1776 729.5h6" stroke="#ff8c00" stroke-width="1" fill="none"/><path d="M1615 707.5h6M1615 709.5h6M1615 711.5h6M1615 713.5h6M1615 715.5h6M1615 717.5h6M1615 719.5h6M1615 721.5h6M1615 723.5h6M1615 725.5h6M1643 701.5h6M1643 703.5h6M1643 717.5h6M1650 703.5h6M1650 705.5h6M1650 709.5h6M1650 711.5h6M1650 713.5h6M1650 715.5h6M1650 717.5h6M1657 707.5h6M1608 857.5h6M1608 859.5h6M1608 861.5h6M1608 863.5h6M1608 865.5h6M1608 867.5h6M1608 869.5h6M1608 871.5h6M1608 873.5h6M1622 727.5h6M1622 729.5h6M1622 731.5h6M1622 733.5h6M1629 735.5h6M1636 737.5h6M1643 739.5h6M1643 741.5h6M1643 743.5h6M1643 755.5h6M1643 757.5h6M1643 759.5h6M1650 745.5h6M1650 747.5h6M1650 749.5h6M1650 751.5h6M1650 753.5h6M1608 961.5h6M1608 963.5h6M1608 965.5h6M1615 875.5h6M1622 877.5h6M1622 879.5h6M1622 881.5h6M1622 883.5h6M1622 885.5h6M1622 887.5h6M1622 889.5h6M1622 959.5h6M1629 891.5h6M1629 893.5h6M1629 953.5h6M1629 955.5h6M1629 957.5h6M1755 733.5h6M1755 735.5h6M1762 723.5h6M1762 725.5h6M1762 731.5h6M1769 727.5h6M1769 729.5h6" stroke="#00008b" stroke-width="1" fill="none"/><path d="M1622 628.5h6M1622 630.5h6M1622 632.5h6M1622 634.5h6M1622 636.5h6M1622 638.5h6M1622 640.5h6M1622 642.5h6M1629 644.5h6M1629 646.5h6M1629 648.5h6M1629 650.5h6M1629 652.5h6M1629 654.5h6M1629 656.5h6M1629 658.5h6M1629 660.5h6M1629 662.5h6M1629 664.5h6M1629 666.5h6M1622 765.5h6M1622 767.5h6M1622 769.5h6M1629 771.5h6M1629 773.5h6M1629 775.5h6M1629 777.5h6M1629 779.5h6M1629 781.5h6M1629 783.5h6M1629 785.5h6M1629 787.5h6M1629 789.5h6M1615 919.5h6M1622 921.5h6M1629 923.5h6M1629 925.5h6M1629 927.5h6M1629 929.5h6M1629 931.5h6" stroke="#0000ff" stroke-width="1" fill="none"/><path d="M1622 678.5h6M1629 668.5h6M1629 670.5h6M1629 672.5h6M1629 674.5h6M1629 676.5h6M1629 680.5h6M1629 682.5h6M1629 693.5h6M1636 658.5h6M1636 660.5h6M1636 662.5h6M1636 664.5h6M1636 666.5h6M1636 684.5h6M1636 686.5h6M1636 688.5h6M1636 690.5h6M1622 735.5h6M1622 791.5h6M1622 793.5h6M1636 771.5h6M1636 773.5h6M1636 775.5h6M1636 777.5h6M1636 779.5h6M1636 781.5h6M1636 783.5h6M1636 785.5h6M1636 787.5h6M1636 789.5h6M1608 911.5h6M1608 913.5h6M1608 915.5h6M1608 917.5h6M1622 919.5h6M1629 921.5h6M1629 933.5h6M1636 923.5h6M1636 925.5h6M1636 927.5h6M1636 929.5h6M1636 931.5h6" stroke="#a52a2a" stroke-width="1" fill="none"/><path d="M1622 697.5h6M1622 699.5h6M1622 701.5h6M1622 703.5h6M1629 703.5h6M1629 705.5h6M1636 678.5h6M1636 695.5h6M1636 707.5h6M1643 676.5h6M1643 680.5h6M1643 682.5h6M1643 693.5h6M1650 684.5h6M1650 686.5h6M1650 688.5h6M1650 690.5h6M1615 735.5h6M1615 737.5h6M1622 739.5h6M1622 741.5h6M1622 743.5h6M1629 745.5h6M1629 747.5h6M1629 749.5h6M1629 751.5h6M1629 753.5h6M1629 755.5h6M1629 757.5h6M1629 759.5h6M1629 761.5h6M1608 891.5h6M1608 893.5h6M1608 895.5h6M1608 897.5h6M1608 899.5h6M1608 901.5h6M1608 903.5h6M1608 905.5h6M1608 907.5h6M1608 909.5h6M1608 953.5h6M1608 955.5h6M1608 959.5h6M1615 911.5h6M1622 913.5h6M1622 915.5h6M1622 917.5h6M1636 919.5h6M1643 921.5h6M1748 713.5h6M1748 715.5h6M1748 717.5h6M1748 723.5h6M1748 725.5h6M1748 727.5h6M1748 729.5h6" stroke="#000000" stroke-width="1" fill="none"/><path d="M1629 678.5h6M1629 695.5h6M1636 668.5h6M1636 670.5h6M1636 672.5h6M1636 674.5h6M1636 676.5h6M1636 680.5h6M1636 682.5h6M1636 693.5h6M1643 664.5h6M1643 666.5h6M1643 684.5h6M1643 686.5h6M1643 688.5h6M1643 690.5h6M1622 745.5h6M1622 747.5h6M1622 749.5h6M1622 751.5h6M1622 753.5h6M1622 755.5h6M1622 757.5h6M1622 759.5h6M1622 761.5h6M1622 763.5h6M1629 765.5h6M1629 767.5h6M1629 769.5h6M1643 771.5h6M1643 773.5h6M1615 913.5h6M1615 915.5h6M1615 917.5h6M1629 919.5h6M1636 921.5h6M1643 923.5h6M1643 925.5h6M1643 927.5h6M1643 929.5h6" stroke="#008000" stroke-width="1" fill="none"/><path d="M1629 697.5h6M1629 699.5h6M1629 701.5h6M1629 703.5h6M1636 703.5h6M1636 705.5h6M1636 709.5h6M1636 711.5h6M1636 713.5h6M1636 715.5h6M1636 717.5h6M1643 695.5h6M1643 707.5h6M1650 693.5h6M1622 737.5h6M1629 739.5h6M1629 741.5h6M1629 743.5h6M1629 763.5h6M1636 745.5h6M1636 747.5h6M1636 749.5h6M1636 751.5h6M1636 753.5h6M1636 755.5h6M1636 757.5h6M1636 759.5h6M1636 761.5h6M1608 877.5h6M1608 879.5h6M1608 881.5h6M1608 883.5h6M1608 885.5h6M1608 887.5h6M1608 889.5h6M1615 891.5h6M1615 893.5h6M1615 895.5h6M1615 897.5h6M1615 899.5h6M1615 901.5h6M1615 953.5h6M1615 955.5h6M1615 957.5h6M1615 959.5h6M1748 731.5h6M1755 717.5h6M1755 719.5h6M1755 721.5h6M1755 723.5h6M1755 725.5h6M1755 727.5h6M1755 729.5h6" stroke="#008b8b" stroke-width="1" fill="none"/><path d="M1695 612.5h1M1695 614.5h1M1695 616.5h2M1695 618.5h3M1695 620.5h4M1695 622.5h5M1695 624.5h6M1695 626.5h8M1695 628.5h10M1695 630.5h10M1695 632.5h11M1695 634.5h12M1695 636.5h15M1695 638.5h17M1695 640.5h21M1695 642.5h26M1695 644.5h28M1695 646.5h25M1695 648.5h21M1695 650.5h19M1695 652.5h14M1695 654.5h12M1695 656.5h11M1695 658.5h11M1695 660.5h13M1695 662.5h15M1695 664.5h19M1695 666.5h20M1695 668.5h23M1695 670.5h27M1695 672.5h28M1695 674.5h29M1695 676.5h25M1695 678.5h25M1695 680.5h22M1695 682.5h23M1695 684.5h25M1695 686.5h25M1695 688.5h24M1695 690.5h20M1695 692.5h21M1695 693.5h18M1695 695.5h20M1695 697.5h23M1695 699.5h22M1695 701.5h21M1695 703.5h17M1695 705.5h20M1695 707.5h19M1695 709.5h18M1695 711.5h17M1695 713.5h17M1695 715.5h19M1695 717.5h17M1695 719.5h17M1695 721.5h15M1695 723.5h13M1695 725.5h12M1695 727.5h11M1695 729.5h11M1695 731.5h11M1695 733.5h14M1695 735.5h14M1695 737.5h17M1695 739.5h20M1695 741.5h20M1695 743.5h21M1695 745.5h22M1695 747.5h26M1695 749.5h24M1695 751.5h21M1695 753.5h17M1695 755.5h15M1695 757.5h15M1695 759.5h10M1695 761.5h9M1695 763.5h8M1695 765.5h10M1695 767.5h11M1695 769.5h11M1695 771.5h11M1695 773.5h11M1695 775.5h14M1695 777.5h13M1695 779.5h15M1695 781.5h13M1695 783.5h10M1695 785.5h8M1695 787.5h7M1695 789.5h4M1695 791.5h2M1695 793.5h1M1695 795.5h1M1695 797.5h2M1695 799.5h4M1695 801.5h6M1695 803.5h7M1695 805.5h7M1695 807.5h6M1695 809.5h4M1695 811.5h2M1695 813.5h3M1695 815.5h4M1695 817.5h6M1695 819.5h5M1695 821.5h5M1695 823.5h5M1695 825.5h3M1695 827.5h3M1695 829.5h3M1695 831.5h2M1695 833.5h2M1695 835.5h2M1695 837.5h1M1695 839.5h1M1695 841.5h4M1695 843.5h5M1695 845.5h8M1695 847.5h7M1695 849.5h8M1695 851.5h9M1695 853.5h8M1695 855.5h7M1695 857.5h5M1695 859.5h5M1695 861.5h7M1695 863.5h7M1695 865.5h5M1695 867.5h5M1695 869.5h4M1695 871.5h4M1695 873.5h5M1695 875.5h4M1695 877.5h5M1695 879.5h5M1695 881.5h6M1695 883.5h8M1695 885.5h8M1695 887.5h8M1695 889.5h6M1695 891.5h7M1695 893.5h6M1695 895.5h4M1695 897.5h2M1695 899.5h1M1695 901.5h1M1695 913.5h1M1695 915.5h2M1695 917.5h2M1695 919.5h3M1695 921.5h5M1695 923.5h6M1695 925.5h5M1695 927.5h4M1695 929.5h4M1695 931.5h3M1695 933.5h3M1695 935.5h3M1695 937.5h2M1695 939.5h1M1695 941.5h1M1695 943.5h1M1695 945.5h1M1695 947.5h1M1695 949.5h1M1695 951.5h3M1695 953.5h3M1695 955.5h4M1695 957.5h4M1695 959.5h3M1695 961.5h2M1695 963.5h2M1695 965.5h2M1695 967.5h1M1695 969.5h1M1695 971.5h1M1695 973.5h1M1808 719.5h1M1808 721.5h1M1808 723.5h5M1808 725.5h14M1808 727.5h25M1808 729.5h26M1808 731.5h14M1808 733.5h7M1808 735.5h3M1808 737.5h3M1808 739.5h3" stroke="#d6d6ff" stroke-width="1" fill="none"/><path d="M1797 725.8H1807V733.8H1797" fill="none" stroke="#ff77ee" stroke-width="1.6"/><rect x="1804" y="727" width="5" height="4"/><path d="M1861 730.4l7.2 -7.2h35.82v14.4h-35.82z" fill="#000" shape-rendering="auto"/><text x="1869.7" y="734.1" style="fill:#fff">1.1160</text></svg><div class="sb" style="left:1605px;top:1048px;width:308px;height:24px"><div class="sbb" style="left:0;height:24px"><i style="left:0px;border-right-color:#000;border-left-width:0;left:4px"></i></div><div class="sbb" style="left:292px;height:24px"><i style="left:6px;border-left-color:#000;border-right-width:0"></i></div><div class="sbb" style="left:287px;width:5px;height:24px"></div></div></body></html>
